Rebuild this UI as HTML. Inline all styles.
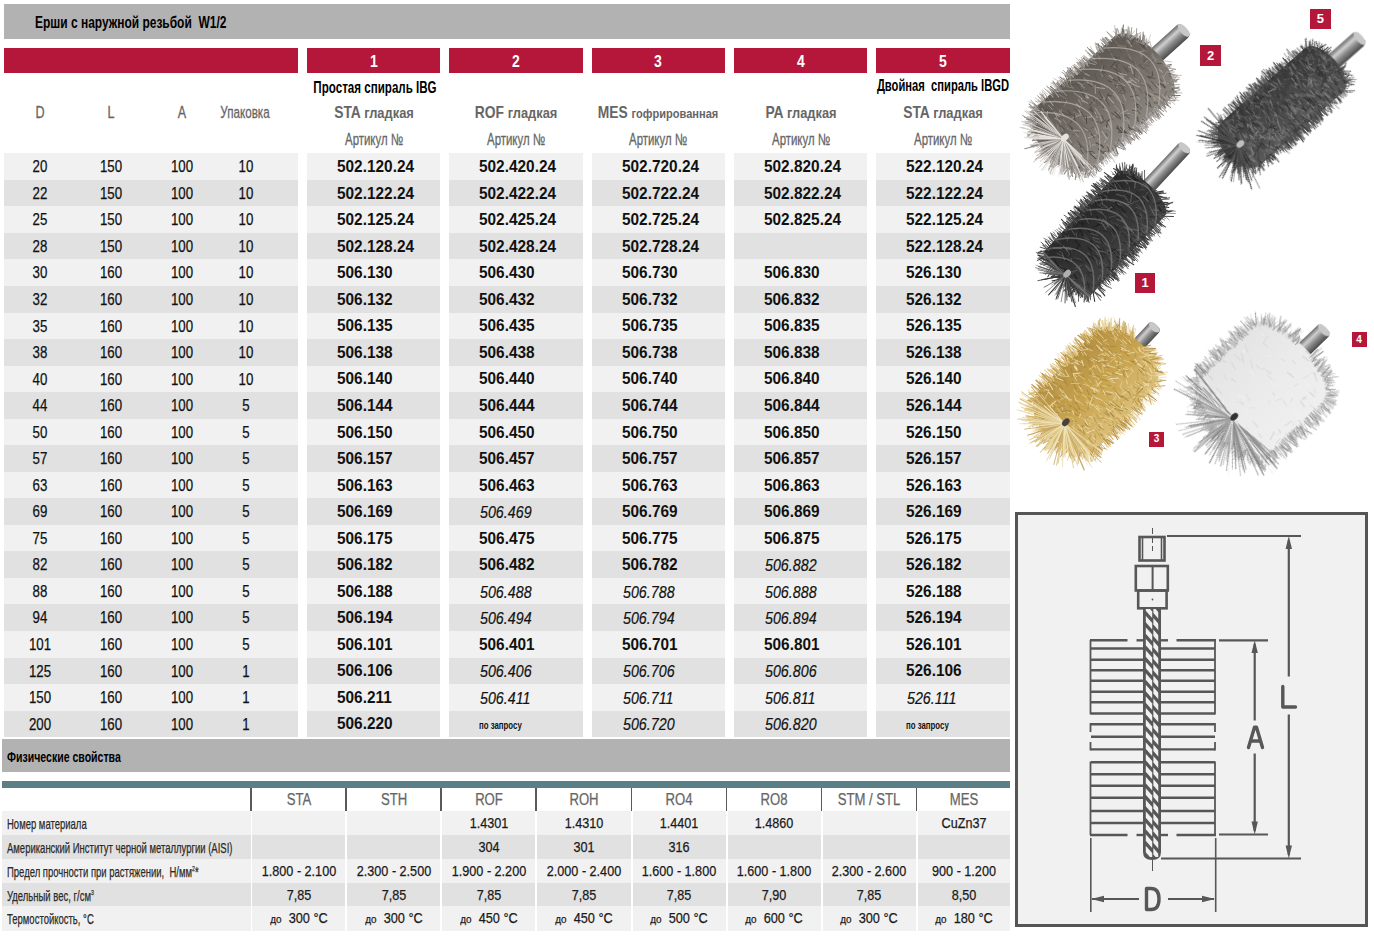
<!DOCTYPE html>
<html><head><meta charset="utf-8"><style>
html,body{margin:0;padding:0;background:#fff;width:1374px;height:936px;overflow:hidden;position:relative}
body>div{position:absolute}
.t{font-family:"Liberation Sans",sans-serif;line-height:1.117;white-space:pre;}
.c{text-align:center}
sup{font-size:0.55em;vertical-align:0;position:relative;top:-0.7em}
svg{position:absolute;left:0;top:0}
</style></head><body>
<div style="left:4px;top:4px;width:1006px;height:35px;background:#b2b2b2;"></div><div class="t" style="left:35px;top:12.52px;transform:scaleX(0.7);transform-origin:0 0;font-size:17.1px;font-weight:700;color:#000;font-style:normal;letter-spacing:0px;">Ерши с наружной резьбой&nbsp; W1/2</div><div style="left:4px;top:48px;width:294px;height:25px;background:#b5173a;"></div><div style="left:307px;top:48px;width:133.3px;height:25px;background:#b5173a;"></div><div class="t c" style="left:-26.350000000000023px;top:52.27px;width:800px;transform:scaleX(0.85);transform-origin:50% 0;font-size:16.5px;font-weight:700;color:#fff;font-style:normal;letter-spacing:0px;">1</div><div style="left:449.3px;top:48px;width:133.3px;height:25px;background:#b5173a;"></div><div class="t c" style="left:115.95000000000005px;top:52.27px;width:800px;transform:scaleX(0.85);transform-origin:50% 0;font-size:16.5px;font-weight:700;color:#fff;font-style:normal;letter-spacing:0px;">2</div><div style="left:591.6px;top:48px;width:133.29999999999995px;height:25px;background:#b5173a;"></div><div class="t c" style="left:258.25px;top:52.27px;width:800px;transform:scaleX(0.85);transform-origin:50% 0;font-size:16.5px;font-weight:700;color:#fff;font-style:normal;letter-spacing:0px;">3</div><div style="left:733.9px;top:48px;width:133.30000000000007px;height:25px;background:#b5173a;"></div><div class="t c" style="left:400.54999999999995px;top:52.27px;width:800px;transform:scaleX(0.85);transform-origin:50% 0;font-size:16.5px;font-weight:700;color:#fff;font-style:normal;letter-spacing:0px;">4</div><div style="left:876.2px;top:48px;width:133.79999999999995px;height:25px;background:#b5173a;"></div><div class="t c" style="left:543.1px;top:52.27px;width:800px;transform:scaleX(0.85);transform-origin:50% 0;font-size:16.5px;font-weight:700;color:#fff;font-style:normal;letter-spacing:0px;">5</div><div class="t c" style="left:-360px;top:103.43px;width:800px;transform:scaleX(0.73);transform-origin:50% 0;font-size:17.2px;font-weight:400;color:#666666;font-style:normal;letter-spacing:0px;-webkit-text-stroke-width:0.3px">D</div><div class="t c" style="left:-289px;top:103.43px;width:800px;transform:scaleX(0.73);transform-origin:50% 0;font-size:17.2px;font-weight:400;color:#666666;font-style:normal;letter-spacing:0px;-webkit-text-stroke-width:0.3px">L</div><div class="t c" style="left:-218px;top:103.43px;width:800px;transform:scaleX(0.73);transform-origin:50% 0;font-size:17.2px;font-weight:400;color:#666666;font-style:normal;letter-spacing:0px;-webkit-text-stroke-width:0.3px">A</div><div class="t c" style="left:-155px;top:103.43px;width:800px;transform:scaleX(0.677);transform-origin:50% 0;font-size:17.2px;font-weight:400;color:#666666;font-style:normal;letter-spacing:0px;-webkit-text-stroke-width:0.3px">Упаковка</div><div class="t c" style="left:-25px;top:78.58px;width:800px;transform:scaleX(0.743);transform-origin:50% 0;font-size:15.6px;font-weight:700;color:#000;font-style:normal;letter-spacing:0px;">Простая спираль IBG</div><div class="t c" style="left:542.5px;top:77.18px;width:800px;transform:scaleX(0.718);transform-origin:50% 0;font-size:15.6px;font-weight:700;color:#000;font-style:normal;letter-spacing:0px;">Двойная&nbsp; спираль IBGD</div><div class="t c" style="left:-26.350000000000023px;top:103.05px;width:800px;transform:scaleX(0.85);transform-origin:50% 0;font-size:16.3px;font-weight:700;color:#666666;font-style:normal;letter-spacing:0px;">STA <span style="font-size:0.93em">гладкая</span></div><div class="t c" style="left:-26.350000000000023px;top:129.95px;width:800px;transform:scaleX(0.7);transform-origin:50% 0;font-size:16.3px;font-weight:400;color:#666666;font-style:normal;letter-spacing:0px;-webkit-text-stroke-width:0.3px">Артикул №</div><div class="t c" style="left:115.95000000000005px;top:103.05px;width:800px;transform:scaleX(0.85);transform-origin:50% 0;font-size:16.3px;font-weight:700;color:#666666;font-style:normal;letter-spacing:0px;">ROF <span style="font-size:0.93em">гладкая</span></div><div class="t c" style="left:115.95000000000005px;top:129.95px;width:800px;transform:scaleX(0.7);transform-origin:50% 0;font-size:16.3px;font-weight:400;color:#666666;font-style:normal;letter-spacing:0px;-webkit-text-stroke-width:0.3px">Артикул №</div><div class="t c" style="left:258.25px;top:103.05px;width:800px;transform:scaleX(0.85);transform-origin:50% 0;font-size:16.3px;font-weight:700;color:#666666;font-style:normal;letter-spacing:0px;">MES <span style="font-size:0.8em">гофрированная</span></div><div class="t c" style="left:258.25px;top:129.95px;width:800px;transform:scaleX(0.7);transform-origin:50% 0;font-size:16.3px;font-weight:400;color:#666666;font-style:normal;letter-spacing:0px;-webkit-text-stroke-width:0.3px">Артикул №</div><div class="t c" style="left:400.54999999999995px;top:103.05px;width:800px;transform:scaleX(0.85);transform-origin:50% 0;font-size:16.3px;font-weight:700;color:#666666;font-style:normal;letter-spacing:0px;">PA <span style="font-size:0.93em">гладкая</span></div><div class="t c" style="left:400.54999999999995px;top:129.95px;width:800px;transform:scaleX(0.7);transform-origin:50% 0;font-size:16.3px;font-weight:400;color:#666666;font-style:normal;letter-spacing:0px;-webkit-text-stroke-width:0.3px">Артикул №</div><div class="t c" style="left:543.1px;top:103.05px;width:800px;transform:scaleX(0.85);transform-origin:50% 0;font-size:16.3px;font-weight:700;color:#666666;font-style:normal;letter-spacing:0px;">STA <span style="font-size:0.93em">гладкая</span></div><div class="t c" style="left:543.1px;top:129.95px;width:800px;transform:scaleX(0.7);transform-origin:50% 0;font-size:16.3px;font-weight:400;color:#666666;font-style:normal;letter-spacing:0px;-webkit-text-stroke-width:0.3px">Артикул №</div><div style="left:4px;top:153.3px;width:294px;height:26.84px;background:#f1f1f1;"></div><div style="left:307px;top:153.3px;width:133.3px;height:26.84px;background:#f1f1f1;"></div><div style="left:449.3px;top:153.3px;width:133.3px;height:26.84px;background:#f1f1f1;"></div><div style="left:591.6px;top:153.3px;width:133.29999999999995px;height:26.84px;background:#f1f1f1;"></div><div style="left:733.9px;top:153.3px;width:133.30000000000007px;height:26.84px;background:#f1f1f1;"></div><div style="left:876.2px;top:153.3px;width:133.79999999999995px;height:26.84px;background:#f1f1f1;"></div><div style="left:4px;top:179.84px;width:294px;height:26.84px;background:#e1e1e1;"></div><div style="left:307px;top:179.84px;width:133.3px;height:26.84px;background:#e1e1e1;"></div><div style="left:449.3px;top:179.84px;width:133.3px;height:26.84px;background:#e1e1e1;"></div><div style="left:591.6px;top:179.84px;width:133.29999999999995px;height:26.84px;background:#e1e1e1;"></div><div style="left:733.9px;top:179.84px;width:133.30000000000007px;height:26.84px;background:#e1e1e1;"></div><div style="left:876.2px;top:179.84px;width:133.79999999999995px;height:26.84px;background:#e1e1e1;"></div><div style="left:4px;top:206.38px;width:294px;height:26.84px;background:#f1f1f1;"></div><div style="left:307px;top:206.38px;width:133.3px;height:26.84px;background:#f1f1f1;"></div><div style="left:449.3px;top:206.38px;width:133.3px;height:26.84px;background:#f1f1f1;"></div><div style="left:591.6px;top:206.38px;width:133.29999999999995px;height:26.84px;background:#f1f1f1;"></div><div style="left:733.9px;top:206.38px;width:133.30000000000007px;height:26.84px;background:#f1f1f1;"></div><div style="left:876.2px;top:206.38px;width:133.79999999999995px;height:26.84px;background:#f1f1f1;"></div><div style="left:4px;top:232.92px;width:294px;height:26.84px;background:#e1e1e1;"></div><div style="left:307px;top:232.92px;width:133.3px;height:26.84px;background:#e1e1e1;"></div><div style="left:449.3px;top:232.92px;width:133.3px;height:26.84px;background:#e1e1e1;"></div><div style="left:591.6px;top:232.92px;width:133.29999999999995px;height:26.84px;background:#e1e1e1;"></div><div style="left:733.9px;top:232.92px;width:133.30000000000007px;height:26.84px;background:#e1e1e1;"></div><div style="left:876.2px;top:232.92px;width:133.79999999999995px;height:26.84px;background:#e1e1e1;"></div><div style="left:4px;top:259.46px;width:294px;height:26.84px;background:#f1f1f1;"></div><div style="left:307px;top:259.46px;width:133.3px;height:26.84px;background:#f1f1f1;"></div><div style="left:449.3px;top:259.46px;width:133.3px;height:26.84px;background:#f1f1f1;"></div><div style="left:591.6px;top:259.46px;width:133.29999999999995px;height:26.84px;background:#f1f1f1;"></div><div style="left:733.9px;top:259.46px;width:133.30000000000007px;height:26.84px;background:#f1f1f1;"></div><div style="left:876.2px;top:259.46px;width:133.79999999999995px;height:26.84px;background:#f1f1f1;"></div><div style="left:4px;top:286.0px;width:294px;height:26.84px;background:#e1e1e1;"></div><div style="left:307px;top:286.0px;width:133.3px;height:26.84px;background:#e1e1e1;"></div><div style="left:449.3px;top:286.0px;width:133.3px;height:26.84px;background:#e1e1e1;"></div><div style="left:591.6px;top:286.0px;width:133.29999999999995px;height:26.84px;background:#e1e1e1;"></div><div style="left:733.9px;top:286.0px;width:133.30000000000007px;height:26.84px;background:#e1e1e1;"></div><div style="left:876.2px;top:286.0px;width:133.79999999999995px;height:26.84px;background:#e1e1e1;"></div><div style="left:4px;top:312.54px;width:294px;height:26.84px;background:#f1f1f1;"></div><div style="left:307px;top:312.54px;width:133.3px;height:26.84px;background:#f1f1f1;"></div><div style="left:449.3px;top:312.54px;width:133.3px;height:26.84px;background:#f1f1f1;"></div><div style="left:591.6px;top:312.54px;width:133.29999999999995px;height:26.84px;background:#f1f1f1;"></div><div style="left:733.9px;top:312.54px;width:133.30000000000007px;height:26.84px;background:#f1f1f1;"></div><div style="left:876.2px;top:312.54px;width:133.79999999999995px;height:26.84px;background:#f1f1f1;"></div><div style="left:4px;top:339.08px;width:294px;height:26.84px;background:#e1e1e1;"></div><div style="left:307px;top:339.08px;width:133.3px;height:26.84px;background:#e1e1e1;"></div><div style="left:449.3px;top:339.08px;width:133.3px;height:26.84px;background:#e1e1e1;"></div><div style="left:591.6px;top:339.08px;width:133.29999999999995px;height:26.84px;background:#e1e1e1;"></div><div style="left:733.9px;top:339.08px;width:133.30000000000007px;height:26.84px;background:#e1e1e1;"></div><div style="left:876.2px;top:339.08px;width:133.79999999999995px;height:26.84px;background:#e1e1e1;"></div><div style="left:4px;top:365.62px;width:294px;height:26.84px;background:#f1f1f1;"></div><div style="left:307px;top:365.62px;width:133.3px;height:26.84px;background:#f1f1f1;"></div><div style="left:449.3px;top:365.62px;width:133.3px;height:26.84px;background:#f1f1f1;"></div><div style="left:591.6px;top:365.62px;width:133.29999999999995px;height:26.84px;background:#f1f1f1;"></div><div style="left:733.9px;top:365.62px;width:133.30000000000007px;height:26.84px;background:#f1f1f1;"></div><div style="left:876.2px;top:365.62px;width:133.79999999999995px;height:26.84px;background:#f1f1f1;"></div><div style="left:4px;top:392.16px;width:294px;height:26.84px;background:#e1e1e1;"></div><div style="left:307px;top:392.16px;width:133.3px;height:26.84px;background:#e1e1e1;"></div><div style="left:449.3px;top:392.16px;width:133.3px;height:26.84px;background:#e1e1e1;"></div><div style="left:591.6px;top:392.16px;width:133.29999999999995px;height:26.84px;background:#e1e1e1;"></div><div style="left:733.9px;top:392.16px;width:133.30000000000007px;height:26.84px;background:#e1e1e1;"></div><div style="left:876.2px;top:392.16px;width:133.79999999999995px;height:26.84px;background:#e1e1e1;"></div><div style="left:4px;top:418.7px;width:294px;height:26.84px;background:#f1f1f1;"></div><div style="left:307px;top:418.7px;width:133.3px;height:26.84px;background:#f1f1f1;"></div><div style="left:449.3px;top:418.7px;width:133.3px;height:26.84px;background:#f1f1f1;"></div><div style="left:591.6px;top:418.7px;width:133.29999999999995px;height:26.84px;background:#f1f1f1;"></div><div style="left:733.9px;top:418.7px;width:133.30000000000007px;height:26.84px;background:#f1f1f1;"></div><div style="left:876.2px;top:418.7px;width:133.79999999999995px;height:26.84px;background:#f1f1f1;"></div><div style="left:4px;top:445.24px;width:294px;height:26.84px;background:#e1e1e1;"></div><div style="left:307px;top:445.24px;width:133.3px;height:26.84px;background:#e1e1e1;"></div><div style="left:449.3px;top:445.24px;width:133.3px;height:26.84px;background:#e1e1e1;"></div><div style="left:591.6px;top:445.24px;width:133.29999999999995px;height:26.84px;background:#e1e1e1;"></div><div style="left:733.9px;top:445.24px;width:133.30000000000007px;height:26.84px;background:#e1e1e1;"></div><div style="left:876.2px;top:445.24px;width:133.79999999999995px;height:26.84px;background:#e1e1e1;"></div><div style="left:4px;top:471.78px;width:294px;height:26.84px;background:#f1f1f1;"></div><div style="left:307px;top:471.78px;width:133.3px;height:26.84px;background:#f1f1f1;"></div><div style="left:449.3px;top:471.78px;width:133.3px;height:26.84px;background:#f1f1f1;"></div><div style="left:591.6px;top:471.78px;width:133.29999999999995px;height:26.84px;background:#f1f1f1;"></div><div style="left:733.9px;top:471.78px;width:133.30000000000007px;height:26.84px;background:#f1f1f1;"></div><div style="left:876.2px;top:471.78px;width:133.79999999999995px;height:26.84px;background:#f1f1f1;"></div><div style="left:4px;top:498.32px;width:294px;height:26.84px;background:#e1e1e1;"></div><div style="left:307px;top:498.32px;width:133.3px;height:26.84px;background:#e1e1e1;"></div><div style="left:449.3px;top:498.32px;width:133.3px;height:26.84px;background:#e1e1e1;"></div><div style="left:591.6px;top:498.32px;width:133.29999999999995px;height:26.84px;background:#e1e1e1;"></div><div style="left:733.9px;top:498.32px;width:133.30000000000007px;height:26.84px;background:#e1e1e1;"></div><div style="left:876.2px;top:498.32px;width:133.79999999999995px;height:26.84px;background:#e1e1e1;"></div><div style="left:4px;top:524.86px;width:294px;height:26.84px;background:#f1f1f1;"></div><div style="left:307px;top:524.86px;width:133.3px;height:26.84px;background:#f1f1f1;"></div><div style="left:449.3px;top:524.86px;width:133.3px;height:26.84px;background:#f1f1f1;"></div><div style="left:591.6px;top:524.86px;width:133.29999999999995px;height:26.84px;background:#f1f1f1;"></div><div style="left:733.9px;top:524.86px;width:133.30000000000007px;height:26.84px;background:#f1f1f1;"></div><div style="left:876.2px;top:524.86px;width:133.79999999999995px;height:26.84px;background:#f1f1f1;"></div><div style="left:4px;top:551.4px;width:294px;height:26.84px;background:#e1e1e1;"></div><div style="left:307px;top:551.4px;width:133.3px;height:26.84px;background:#e1e1e1;"></div><div style="left:449.3px;top:551.4px;width:133.3px;height:26.84px;background:#e1e1e1;"></div><div style="left:591.6px;top:551.4px;width:133.29999999999995px;height:26.84px;background:#e1e1e1;"></div><div style="left:733.9px;top:551.4px;width:133.30000000000007px;height:26.84px;background:#e1e1e1;"></div><div style="left:876.2px;top:551.4px;width:133.79999999999995px;height:26.84px;background:#e1e1e1;"></div><div style="left:4px;top:577.94px;width:294px;height:26.84px;background:#f1f1f1;"></div><div style="left:307px;top:577.94px;width:133.3px;height:26.84px;background:#f1f1f1;"></div><div style="left:449.3px;top:577.94px;width:133.3px;height:26.84px;background:#f1f1f1;"></div><div style="left:591.6px;top:577.94px;width:133.29999999999995px;height:26.84px;background:#f1f1f1;"></div><div style="left:733.9px;top:577.94px;width:133.30000000000007px;height:26.84px;background:#f1f1f1;"></div><div style="left:876.2px;top:577.94px;width:133.79999999999995px;height:26.84px;background:#f1f1f1;"></div><div style="left:4px;top:604.48px;width:294px;height:26.84px;background:#e1e1e1;"></div><div style="left:307px;top:604.48px;width:133.3px;height:26.84px;background:#e1e1e1;"></div><div style="left:449.3px;top:604.48px;width:133.3px;height:26.84px;background:#e1e1e1;"></div><div style="left:591.6px;top:604.48px;width:133.29999999999995px;height:26.84px;background:#e1e1e1;"></div><div style="left:733.9px;top:604.48px;width:133.30000000000007px;height:26.84px;background:#e1e1e1;"></div><div style="left:876.2px;top:604.48px;width:133.79999999999995px;height:26.84px;background:#e1e1e1;"></div><div style="left:4px;top:631.02px;width:294px;height:26.84px;background:#f1f1f1;"></div><div style="left:307px;top:631.02px;width:133.3px;height:26.84px;background:#f1f1f1;"></div><div style="left:449.3px;top:631.02px;width:133.3px;height:26.84px;background:#f1f1f1;"></div><div style="left:591.6px;top:631.02px;width:133.29999999999995px;height:26.84px;background:#f1f1f1;"></div><div style="left:733.9px;top:631.02px;width:133.30000000000007px;height:26.84px;background:#f1f1f1;"></div><div style="left:876.2px;top:631.02px;width:133.79999999999995px;height:26.84px;background:#f1f1f1;"></div><div style="left:4px;top:657.56px;width:294px;height:26.84px;background:#e1e1e1;"></div><div style="left:307px;top:657.56px;width:133.3px;height:26.84px;background:#e1e1e1;"></div><div style="left:449.3px;top:657.56px;width:133.3px;height:26.84px;background:#e1e1e1;"></div><div style="left:591.6px;top:657.56px;width:133.29999999999995px;height:26.84px;background:#e1e1e1;"></div><div style="left:733.9px;top:657.56px;width:133.30000000000007px;height:26.84px;background:#e1e1e1;"></div><div style="left:876.2px;top:657.56px;width:133.79999999999995px;height:26.84px;background:#e1e1e1;"></div><div style="left:4px;top:684.1px;width:294px;height:26.84px;background:#f1f1f1;"></div><div style="left:307px;top:684.1px;width:133.3px;height:26.84px;background:#f1f1f1;"></div><div style="left:449.3px;top:684.1px;width:133.3px;height:26.84px;background:#f1f1f1;"></div><div style="left:591.6px;top:684.1px;width:133.29999999999995px;height:26.84px;background:#f1f1f1;"></div><div style="left:733.9px;top:684.1px;width:133.30000000000007px;height:26.84px;background:#f1f1f1;"></div><div style="left:876.2px;top:684.1px;width:133.79999999999995px;height:26.84px;background:#f1f1f1;"></div><div style="left:4px;top:710.64px;width:294px;height:26.84px;background:#e1e1e1;"></div><div style="left:307px;top:710.64px;width:133.3px;height:26.84px;background:#e1e1e1;"></div><div style="left:449.3px;top:710.64px;width:133.3px;height:26.84px;background:#e1e1e1;"></div><div style="left:591.6px;top:710.64px;width:133.29999999999995px;height:26.84px;background:#e1e1e1;"></div><div style="left:733.9px;top:710.64px;width:133.30000000000007px;height:26.84px;background:#e1e1e1;"></div><div style="left:876.2px;top:710.64px;width:133.79999999999995px;height:26.84px;background:#e1e1e1;"></div><div class="t c" style="left:-360px;top:157.26px;width:800px;transform:scaleX(0.81);transform-origin:50% 0;font-size:16.4px;font-weight:400;color:#111;font-style:normal;letter-spacing:0px;-webkit-text-stroke-width:0.25px;">20</div><div class="t c" style="left:-289px;top:157.26px;width:800px;transform:scaleX(0.81);transform-origin:50% 0;font-size:16.4px;font-weight:400;color:#111;font-style:normal;letter-spacing:0px;-webkit-text-stroke-width:0.25px;">150</div><div class="t c" style="left:-218px;top:157.26px;width:800px;transform:scaleX(0.81);transform-origin:50% 0;font-size:16.4px;font-weight:400;color:#111;font-style:normal;letter-spacing:0px;-webkit-text-stroke-width:0.25px;">100</div><div class="t c" style="left:-154.5px;top:157.26px;width:800px;transform:scaleX(0.81);transform-origin:50% 0;font-size:16.4px;font-weight:400;color:#111;font-style:normal;letter-spacing:0px;-webkit-text-stroke-width:0.25px;">10</div><div class="t" style="left:337px;top:158.10px;transform:scaleX(0.917);transform-origin:0 0;font-size:16.8px;font-weight:700;color:#111;font-style:normal;letter-spacing:0px;">502.120.24</div><div class="t" style="left:479px;top:158.10px;transform:scaleX(0.917);transform-origin:0 0;font-size:16.8px;font-weight:700;color:#111;font-style:normal;letter-spacing:0px;">502.420.24</div><div class="t" style="left:622px;top:158.10px;transform:scaleX(0.917);transform-origin:0 0;font-size:16.8px;font-weight:700;color:#111;font-style:normal;letter-spacing:0px;">502.720.24</div><div class="t" style="left:764px;top:158.10px;transform:scaleX(0.917);transform-origin:0 0;font-size:16.8px;font-weight:700;color:#111;font-style:normal;letter-spacing:0px;">502.820.24</div><div class="t" style="left:906px;top:158.10px;transform:scaleX(0.917);transform-origin:0 0;font-size:16.8px;font-weight:700;color:#111;font-style:normal;letter-spacing:0px;">522.120.24</div><div class="t c" style="left:-360px;top:183.80px;width:800px;transform:scaleX(0.81);transform-origin:50% 0;font-size:16.4px;font-weight:400;color:#111;font-style:normal;letter-spacing:0px;-webkit-text-stroke-width:0.25px;">22</div><div class="t c" style="left:-289px;top:183.80px;width:800px;transform:scaleX(0.81);transform-origin:50% 0;font-size:16.4px;font-weight:400;color:#111;font-style:normal;letter-spacing:0px;-webkit-text-stroke-width:0.25px;">150</div><div class="t c" style="left:-218px;top:183.80px;width:800px;transform:scaleX(0.81);transform-origin:50% 0;font-size:16.4px;font-weight:400;color:#111;font-style:normal;letter-spacing:0px;-webkit-text-stroke-width:0.25px;">100</div><div class="t c" style="left:-154.5px;top:183.80px;width:800px;transform:scaleX(0.81);transform-origin:50% 0;font-size:16.4px;font-weight:400;color:#111;font-style:normal;letter-spacing:0px;-webkit-text-stroke-width:0.25px;">10</div><div class="t" style="left:337px;top:184.64px;transform:scaleX(0.917);transform-origin:0 0;font-size:16.8px;font-weight:700;color:#111;font-style:normal;letter-spacing:0px;">502.122.24</div><div class="t" style="left:479px;top:184.64px;transform:scaleX(0.917);transform-origin:0 0;font-size:16.8px;font-weight:700;color:#111;font-style:normal;letter-spacing:0px;">502.422.24</div><div class="t" style="left:622px;top:184.64px;transform:scaleX(0.917);transform-origin:0 0;font-size:16.8px;font-weight:700;color:#111;font-style:normal;letter-spacing:0px;">502.722.24</div><div class="t" style="left:764px;top:184.64px;transform:scaleX(0.917);transform-origin:0 0;font-size:16.8px;font-weight:700;color:#111;font-style:normal;letter-spacing:0px;">502.822.24</div><div class="t" style="left:906px;top:184.64px;transform:scaleX(0.917);transform-origin:0 0;font-size:16.8px;font-weight:700;color:#111;font-style:normal;letter-spacing:0px;">522.122.24</div><div class="t c" style="left:-360px;top:210.34px;width:800px;transform:scaleX(0.81);transform-origin:50% 0;font-size:16.4px;font-weight:400;color:#111;font-style:normal;letter-spacing:0px;-webkit-text-stroke-width:0.25px;">25</div><div class="t c" style="left:-289px;top:210.34px;width:800px;transform:scaleX(0.81);transform-origin:50% 0;font-size:16.4px;font-weight:400;color:#111;font-style:normal;letter-spacing:0px;-webkit-text-stroke-width:0.25px;">150</div><div class="t c" style="left:-218px;top:210.34px;width:800px;transform:scaleX(0.81);transform-origin:50% 0;font-size:16.4px;font-weight:400;color:#111;font-style:normal;letter-spacing:0px;-webkit-text-stroke-width:0.25px;">100</div><div class="t c" style="left:-154.5px;top:210.34px;width:800px;transform:scaleX(0.81);transform-origin:50% 0;font-size:16.4px;font-weight:400;color:#111;font-style:normal;letter-spacing:0px;-webkit-text-stroke-width:0.25px;">10</div><div class="t" style="left:337px;top:211.18px;transform:scaleX(0.917);transform-origin:0 0;font-size:16.8px;font-weight:700;color:#111;font-style:normal;letter-spacing:0px;">502.125.24</div><div class="t" style="left:479px;top:211.18px;transform:scaleX(0.917);transform-origin:0 0;font-size:16.8px;font-weight:700;color:#111;font-style:normal;letter-spacing:0px;">502.425.24</div><div class="t" style="left:622px;top:211.18px;transform:scaleX(0.917);transform-origin:0 0;font-size:16.8px;font-weight:700;color:#111;font-style:normal;letter-spacing:0px;">502.725.24</div><div class="t" style="left:764px;top:211.18px;transform:scaleX(0.917);transform-origin:0 0;font-size:16.8px;font-weight:700;color:#111;font-style:normal;letter-spacing:0px;">502.825.24</div><div class="t" style="left:906px;top:211.18px;transform:scaleX(0.917);transform-origin:0 0;font-size:16.8px;font-weight:700;color:#111;font-style:normal;letter-spacing:0px;">522.125.24</div><div class="t c" style="left:-360px;top:236.88px;width:800px;transform:scaleX(0.81);transform-origin:50% 0;font-size:16.4px;font-weight:400;color:#111;font-style:normal;letter-spacing:0px;-webkit-text-stroke-width:0.25px;">28</div><div class="t c" style="left:-289px;top:236.88px;width:800px;transform:scaleX(0.81);transform-origin:50% 0;font-size:16.4px;font-weight:400;color:#111;font-style:normal;letter-spacing:0px;-webkit-text-stroke-width:0.25px;">150</div><div class="t c" style="left:-218px;top:236.88px;width:800px;transform:scaleX(0.81);transform-origin:50% 0;font-size:16.4px;font-weight:400;color:#111;font-style:normal;letter-spacing:0px;-webkit-text-stroke-width:0.25px;">100</div><div class="t c" style="left:-154.5px;top:236.88px;width:800px;transform:scaleX(0.81);transform-origin:50% 0;font-size:16.4px;font-weight:400;color:#111;font-style:normal;letter-spacing:0px;-webkit-text-stroke-width:0.25px;">10</div><div class="t" style="left:337px;top:237.72px;transform:scaleX(0.917);transform-origin:0 0;font-size:16.8px;font-weight:700;color:#111;font-style:normal;letter-spacing:0px;">502.128.24</div><div class="t" style="left:479px;top:237.72px;transform:scaleX(0.917);transform-origin:0 0;font-size:16.8px;font-weight:700;color:#111;font-style:normal;letter-spacing:0px;">502.428.24</div><div class="t" style="left:622px;top:237.72px;transform:scaleX(0.917);transform-origin:0 0;font-size:16.8px;font-weight:700;color:#111;font-style:normal;letter-spacing:0px;">502.728.24</div><div class="t" style="left:906px;top:237.72px;transform:scaleX(0.917);transform-origin:0 0;font-size:16.8px;font-weight:700;color:#111;font-style:normal;letter-spacing:0px;">522.128.24</div><div class="t c" style="left:-360px;top:263.42px;width:800px;transform:scaleX(0.81);transform-origin:50% 0;font-size:16.4px;font-weight:400;color:#111;font-style:normal;letter-spacing:0px;-webkit-text-stroke-width:0.25px;">30</div><div class="t c" style="left:-289px;top:263.42px;width:800px;transform:scaleX(0.81);transform-origin:50% 0;font-size:16.4px;font-weight:400;color:#111;font-style:normal;letter-spacing:0px;-webkit-text-stroke-width:0.25px;">160</div><div class="t c" style="left:-218px;top:263.42px;width:800px;transform:scaleX(0.81);transform-origin:50% 0;font-size:16.4px;font-weight:400;color:#111;font-style:normal;letter-spacing:0px;-webkit-text-stroke-width:0.25px;">100</div><div class="t c" style="left:-154.5px;top:263.42px;width:800px;transform:scaleX(0.81);transform-origin:50% 0;font-size:16.4px;font-weight:400;color:#111;font-style:normal;letter-spacing:0px;-webkit-text-stroke-width:0.25px;">10</div><div class="t" style="left:337px;top:264.26px;transform:scaleX(0.917);transform-origin:0 0;font-size:16.8px;font-weight:700;color:#111;font-style:normal;letter-spacing:0px;">506.130</div><div class="t" style="left:479px;top:264.26px;transform:scaleX(0.917);transform-origin:0 0;font-size:16.8px;font-weight:700;color:#111;font-style:normal;letter-spacing:0px;">506.430</div><div class="t" style="left:622px;top:264.26px;transform:scaleX(0.917);transform-origin:0 0;font-size:16.8px;font-weight:700;color:#111;font-style:normal;letter-spacing:0px;">506.730</div><div class="t" style="left:764px;top:264.26px;transform:scaleX(0.917);transform-origin:0 0;font-size:16.8px;font-weight:700;color:#111;font-style:normal;letter-spacing:0px;">506.830</div><div class="t" style="left:906px;top:264.26px;transform:scaleX(0.917);transform-origin:0 0;font-size:16.8px;font-weight:700;color:#111;font-style:normal;letter-spacing:0px;">526.130</div><div class="t c" style="left:-360px;top:289.96px;width:800px;transform:scaleX(0.81);transform-origin:50% 0;font-size:16.4px;font-weight:400;color:#111;font-style:normal;letter-spacing:0px;-webkit-text-stroke-width:0.25px;">32</div><div class="t c" style="left:-289px;top:289.96px;width:800px;transform:scaleX(0.81);transform-origin:50% 0;font-size:16.4px;font-weight:400;color:#111;font-style:normal;letter-spacing:0px;-webkit-text-stroke-width:0.25px;">160</div><div class="t c" style="left:-218px;top:289.96px;width:800px;transform:scaleX(0.81);transform-origin:50% 0;font-size:16.4px;font-weight:400;color:#111;font-style:normal;letter-spacing:0px;-webkit-text-stroke-width:0.25px;">100</div><div class="t c" style="left:-154.5px;top:289.96px;width:800px;transform:scaleX(0.81);transform-origin:50% 0;font-size:16.4px;font-weight:400;color:#111;font-style:normal;letter-spacing:0px;-webkit-text-stroke-width:0.25px;">10</div><div class="t" style="left:337px;top:290.80px;transform:scaleX(0.917);transform-origin:0 0;font-size:16.8px;font-weight:700;color:#111;font-style:normal;letter-spacing:0px;">506.132</div><div class="t" style="left:479px;top:290.80px;transform:scaleX(0.917);transform-origin:0 0;font-size:16.8px;font-weight:700;color:#111;font-style:normal;letter-spacing:0px;">506.432</div><div class="t" style="left:622px;top:290.80px;transform:scaleX(0.917);transform-origin:0 0;font-size:16.8px;font-weight:700;color:#111;font-style:normal;letter-spacing:0px;">506.732</div><div class="t" style="left:764px;top:290.80px;transform:scaleX(0.917);transform-origin:0 0;font-size:16.8px;font-weight:700;color:#111;font-style:normal;letter-spacing:0px;">506.832</div><div class="t" style="left:906px;top:290.80px;transform:scaleX(0.917);transform-origin:0 0;font-size:16.8px;font-weight:700;color:#111;font-style:normal;letter-spacing:0px;">526.132</div><div class="t c" style="left:-360px;top:316.50px;width:800px;transform:scaleX(0.81);transform-origin:50% 0;font-size:16.4px;font-weight:400;color:#111;font-style:normal;letter-spacing:0px;-webkit-text-stroke-width:0.25px;">35</div><div class="t c" style="left:-289px;top:316.50px;width:800px;transform:scaleX(0.81);transform-origin:50% 0;font-size:16.4px;font-weight:400;color:#111;font-style:normal;letter-spacing:0px;-webkit-text-stroke-width:0.25px;">160</div><div class="t c" style="left:-218px;top:316.50px;width:800px;transform:scaleX(0.81);transform-origin:50% 0;font-size:16.4px;font-weight:400;color:#111;font-style:normal;letter-spacing:0px;-webkit-text-stroke-width:0.25px;">100</div><div class="t c" style="left:-154.5px;top:316.50px;width:800px;transform:scaleX(0.81);transform-origin:50% 0;font-size:16.4px;font-weight:400;color:#111;font-style:normal;letter-spacing:0px;-webkit-text-stroke-width:0.25px;">10</div><div class="t" style="left:337px;top:317.34px;transform:scaleX(0.917);transform-origin:0 0;font-size:16.8px;font-weight:700;color:#111;font-style:normal;letter-spacing:0px;">506.135</div><div class="t" style="left:479px;top:317.34px;transform:scaleX(0.917);transform-origin:0 0;font-size:16.8px;font-weight:700;color:#111;font-style:normal;letter-spacing:0px;">506.435</div><div class="t" style="left:622px;top:317.34px;transform:scaleX(0.917);transform-origin:0 0;font-size:16.8px;font-weight:700;color:#111;font-style:normal;letter-spacing:0px;">506.735</div><div class="t" style="left:764px;top:317.34px;transform:scaleX(0.917);transform-origin:0 0;font-size:16.8px;font-weight:700;color:#111;font-style:normal;letter-spacing:0px;">506.835</div><div class="t" style="left:906px;top:317.34px;transform:scaleX(0.917);transform-origin:0 0;font-size:16.8px;font-weight:700;color:#111;font-style:normal;letter-spacing:0px;">526.135</div><div class="t c" style="left:-360px;top:343.04px;width:800px;transform:scaleX(0.81);transform-origin:50% 0;font-size:16.4px;font-weight:400;color:#111;font-style:normal;letter-spacing:0px;-webkit-text-stroke-width:0.25px;">38</div><div class="t c" style="left:-289px;top:343.04px;width:800px;transform:scaleX(0.81);transform-origin:50% 0;font-size:16.4px;font-weight:400;color:#111;font-style:normal;letter-spacing:0px;-webkit-text-stroke-width:0.25px;">160</div><div class="t c" style="left:-218px;top:343.04px;width:800px;transform:scaleX(0.81);transform-origin:50% 0;font-size:16.4px;font-weight:400;color:#111;font-style:normal;letter-spacing:0px;-webkit-text-stroke-width:0.25px;">100</div><div class="t c" style="left:-154.5px;top:343.04px;width:800px;transform:scaleX(0.81);transform-origin:50% 0;font-size:16.4px;font-weight:400;color:#111;font-style:normal;letter-spacing:0px;-webkit-text-stroke-width:0.25px;">10</div><div class="t" style="left:337px;top:343.88px;transform:scaleX(0.917);transform-origin:0 0;font-size:16.8px;font-weight:700;color:#111;font-style:normal;letter-spacing:0px;">506.138</div><div class="t" style="left:479px;top:343.88px;transform:scaleX(0.917);transform-origin:0 0;font-size:16.8px;font-weight:700;color:#111;font-style:normal;letter-spacing:0px;">506.438</div><div class="t" style="left:622px;top:343.88px;transform:scaleX(0.917);transform-origin:0 0;font-size:16.8px;font-weight:700;color:#111;font-style:normal;letter-spacing:0px;">506.738</div><div class="t" style="left:764px;top:343.88px;transform:scaleX(0.917);transform-origin:0 0;font-size:16.8px;font-weight:700;color:#111;font-style:normal;letter-spacing:0px;">506.838</div><div class="t" style="left:906px;top:343.88px;transform:scaleX(0.917);transform-origin:0 0;font-size:16.8px;font-weight:700;color:#111;font-style:normal;letter-spacing:0px;">526.138</div><div class="t c" style="left:-360px;top:369.58px;width:800px;transform:scaleX(0.81);transform-origin:50% 0;font-size:16.4px;font-weight:400;color:#111;font-style:normal;letter-spacing:0px;-webkit-text-stroke-width:0.25px;">40</div><div class="t c" style="left:-289px;top:369.58px;width:800px;transform:scaleX(0.81);transform-origin:50% 0;font-size:16.4px;font-weight:400;color:#111;font-style:normal;letter-spacing:0px;-webkit-text-stroke-width:0.25px;">160</div><div class="t c" style="left:-218px;top:369.58px;width:800px;transform:scaleX(0.81);transform-origin:50% 0;font-size:16.4px;font-weight:400;color:#111;font-style:normal;letter-spacing:0px;-webkit-text-stroke-width:0.25px;">100</div><div class="t c" style="left:-154.5px;top:369.58px;width:800px;transform:scaleX(0.81);transform-origin:50% 0;font-size:16.4px;font-weight:400;color:#111;font-style:normal;letter-spacing:0px;-webkit-text-stroke-width:0.25px;">10</div><div class="t" style="left:337px;top:370.42px;transform:scaleX(0.917);transform-origin:0 0;font-size:16.8px;font-weight:700;color:#111;font-style:normal;letter-spacing:0px;">506.140</div><div class="t" style="left:479px;top:370.42px;transform:scaleX(0.917);transform-origin:0 0;font-size:16.8px;font-weight:700;color:#111;font-style:normal;letter-spacing:0px;">506.440</div><div class="t" style="left:622px;top:370.42px;transform:scaleX(0.917);transform-origin:0 0;font-size:16.8px;font-weight:700;color:#111;font-style:normal;letter-spacing:0px;">506.740</div><div class="t" style="left:764px;top:370.42px;transform:scaleX(0.917);transform-origin:0 0;font-size:16.8px;font-weight:700;color:#111;font-style:normal;letter-spacing:0px;">506.840</div><div class="t" style="left:906px;top:370.42px;transform:scaleX(0.917);transform-origin:0 0;font-size:16.8px;font-weight:700;color:#111;font-style:normal;letter-spacing:0px;">526.140</div><div class="t c" style="left:-360px;top:396.12px;width:800px;transform:scaleX(0.81);transform-origin:50% 0;font-size:16.4px;font-weight:400;color:#111;font-style:normal;letter-spacing:0px;-webkit-text-stroke-width:0.25px;">44</div><div class="t c" style="left:-289px;top:396.12px;width:800px;transform:scaleX(0.81);transform-origin:50% 0;font-size:16.4px;font-weight:400;color:#111;font-style:normal;letter-spacing:0px;-webkit-text-stroke-width:0.25px;">160</div><div class="t c" style="left:-218px;top:396.12px;width:800px;transform:scaleX(0.81);transform-origin:50% 0;font-size:16.4px;font-weight:400;color:#111;font-style:normal;letter-spacing:0px;-webkit-text-stroke-width:0.25px;">100</div><div class="t c" style="left:-154.5px;top:396.12px;width:800px;transform:scaleX(0.81);transform-origin:50% 0;font-size:16.4px;font-weight:400;color:#111;font-style:normal;letter-spacing:0px;-webkit-text-stroke-width:0.25px;">5</div><div class="t" style="left:337px;top:396.96px;transform:scaleX(0.917);transform-origin:0 0;font-size:16.8px;font-weight:700;color:#111;font-style:normal;letter-spacing:0px;">506.144</div><div class="t" style="left:479px;top:396.96px;transform:scaleX(0.917);transform-origin:0 0;font-size:16.8px;font-weight:700;color:#111;font-style:normal;letter-spacing:0px;">506.444</div><div class="t" style="left:622px;top:396.96px;transform:scaleX(0.917);transform-origin:0 0;font-size:16.8px;font-weight:700;color:#111;font-style:normal;letter-spacing:0px;">506.744</div><div class="t" style="left:764px;top:396.96px;transform:scaleX(0.917);transform-origin:0 0;font-size:16.8px;font-weight:700;color:#111;font-style:normal;letter-spacing:0px;">506.844</div><div class="t" style="left:906px;top:396.96px;transform:scaleX(0.917);transform-origin:0 0;font-size:16.8px;font-weight:700;color:#111;font-style:normal;letter-spacing:0px;">526.144</div><div class="t c" style="left:-360px;top:422.66px;width:800px;transform:scaleX(0.81);transform-origin:50% 0;font-size:16.4px;font-weight:400;color:#111;font-style:normal;letter-spacing:0px;-webkit-text-stroke-width:0.25px;">50</div><div class="t c" style="left:-289px;top:422.66px;width:800px;transform:scaleX(0.81);transform-origin:50% 0;font-size:16.4px;font-weight:400;color:#111;font-style:normal;letter-spacing:0px;-webkit-text-stroke-width:0.25px;">160</div><div class="t c" style="left:-218px;top:422.66px;width:800px;transform:scaleX(0.81);transform-origin:50% 0;font-size:16.4px;font-weight:400;color:#111;font-style:normal;letter-spacing:0px;-webkit-text-stroke-width:0.25px;">100</div><div class="t c" style="left:-154.5px;top:422.66px;width:800px;transform:scaleX(0.81);transform-origin:50% 0;font-size:16.4px;font-weight:400;color:#111;font-style:normal;letter-spacing:0px;-webkit-text-stroke-width:0.25px;">5</div><div class="t" style="left:337px;top:423.50px;transform:scaleX(0.917);transform-origin:0 0;font-size:16.8px;font-weight:700;color:#111;font-style:normal;letter-spacing:0px;">506.150</div><div class="t" style="left:479px;top:423.50px;transform:scaleX(0.917);transform-origin:0 0;font-size:16.8px;font-weight:700;color:#111;font-style:normal;letter-spacing:0px;">506.450</div><div class="t" style="left:622px;top:423.50px;transform:scaleX(0.917);transform-origin:0 0;font-size:16.8px;font-weight:700;color:#111;font-style:normal;letter-spacing:0px;">506.750</div><div class="t" style="left:764px;top:423.50px;transform:scaleX(0.917);transform-origin:0 0;font-size:16.8px;font-weight:700;color:#111;font-style:normal;letter-spacing:0px;">506.850</div><div class="t" style="left:906px;top:423.50px;transform:scaleX(0.917);transform-origin:0 0;font-size:16.8px;font-weight:700;color:#111;font-style:normal;letter-spacing:0px;">526.150</div><div class="t c" style="left:-360px;top:449.20px;width:800px;transform:scaleX(0.81);transform-origin:50% 0;font-size:16.4px;font-weight:400;color:#111;font-style:normal;letter-spacing:0px;-webkit-text-stroke-width:0.25px;">57</div><div class="t c" style="left:-289px;top:449.20px;width:800px;transform:scaleX(0.81);transform-origin:50% 0;font-size:16.4px;font-weight:400;color:#111;font-style:normal;letter-spacing:0px;-webkit-text-stroke-width:0.25px;">160</div><div class="t c" style="left:-218px;top:449.20px;width:800px;transform:scaleX(0.81);transform-origin:50% 0;font-size:16.4px;font-weight:400;color:#111;font-style:normal;letter-spacing:0px;-webkit-text-stroke-width:0.25px;">100</div><div class="t c" style="left:-154.5px;top:449.20px;width:800px;transform:scaleX(0.81);transform-origin:50% 0;font-size:16.4px;font-weight:400;color:#111;font-style:normal;letter-spacing:0px;-webkit-text-stroke-width:0.25px;">5</div><div class="t" style="left:337px;top:450.04px;transform:scaleX(0.917);transform-origin:0 0;font-size:16.8px;font-weight:700;color:#111;font-style:normal;letter-spacing:0px;">506.157</div><div class="t" style="left:479px;top:450.04px;transform:scaleX(0.917);transform-origin:0 0;font-size:16.8px;font-weight:700;color:#111;font-style:normal;letter-spacing:0px;">506.457</div><div class="t" style="left:622px;top:450.04px;transform:scaleX(0.917);transform-origin:0 0;font-size:16.8px;font-weight:700;color:#111;font-style:normal;letter-spacing:0px;">506.757</div><div class="t" style="left:764px;top:450.04px;transform:scaleX(0.917);transform-origin:0 0;font-size:16.8px;font-weight:700;color:#111;font-style:normal;letter-spacing:0px;">506.857</div><div class="t" style="left:906px;top:450.04px;transform:scaleX(0.917);transform-origin:0 0;font-size:16.8px;font-weight:700;color:#111;font-style:normal;letter-spacing:0px;">526.157</div><div class="t c" style="left:-360px;top:475.74px;width:800px;transform:scaleX(0.81);transform-origin:50% 0;font-size:16.4px;font-weight:400;color:#111;font-style:normal;letter-spacing:0px;-webkit-text-stroke-width:0.25px;">63</div><div class="t c" style="left:-289px;top:475.74px;width:800px;transform:scaleX(0.81);transform-origin:50% 0;font-size:16.4px;font-weight:400;color:#111;font-style:normal;letter-spacing:0px;-webkit-text-stroke-width:0.25px;">160</div><div class="t c" style="left:-218px;top:475.74px;width:800px;transform:scaleX(0.81);transform-origin:50% 0;font-size:16.4px;font-weight:400;color:#111;font-style:normal;letter-spacing:0px;-webkit-text-stroke-width:0.25px;">100</div><div class="t c" style="left:-154.5px;top:475.74px;width:800px;transform:scaleX(0.81);transform-origin:50% 0;font-size:16.4px;font-weight:400;color:#111;font-style:normal;letter-spacing:0px;-webkit-text-stroke-width:0.25px;">5</div><div class="t" style="left:337px;top:476.58px;transform:scaleX(0.917);transform-origin:0 0;font-size:16.8px;font-weight:700;color:#111;font-style:normal;letter-spacing:0px;">506.163</div><div class="t" style="left:479px;top:476.58px;transform:scaleX(0.917);transform-origin:0 0;font-size:16.8px;font-weight:700;color:#111;font-style:normal;letter-spacing:0px;">506.463</div><div class="t" style="left:622px;top:476.58px;transform:scaleX(0.917);transform-origin:0 0;font-size:16.8px;font-weight:700;color:#111;font-style:normal;letter-spacing:0px;">506.763</div><div class="t" style="left:764px;top:476.58px;transform:scaleX(0.917);transform-origin:0 0;font-size:16.8px;font-weight:700;color:#111;font-style:normal;letter-spacing:0px;">506.863</div><div class="t" style="left:906px;top:476.58px;transform:scaleX(0.917);transform-origin:0 0;font-size:16.8px;font-weight:700;color:#111;font-style:normal;letter-spacing:0px;">526.163</div><div class="t c" style="left:-360px;top:502.28px;width:800px;transform:scaleX(0.81);transform-origin:50% 0;font-size:16.4px;font-weight:400;color:#111;font-style:normal;letter-spacing:0px;-webkit-text-stroke-width:0.25px;">69</div><div class="t c" style="left:-289px;top:502.28px;width:800px;transform:scaleX(0.81);transform-origin:50% 0;font-size:16.4px;font-weight:400;color:#111;font-style:normal;letter-spacing:0px;-webkit-text-stroke-width:0.25px;">160</div><div class="t c" style="left:-218px;top:502.28px;width:800px;transform:scaleX(0.81);transform-origin:50% 0;font-size:16.4px;font-weight:400;color:#111;font-style:normal;letter-spacing:0px;-webkit-text-stroke-width:0.25px;">100</div><div class="t c" style="left:-154.5px;top:502.28px;width:800px;transform:scaleX(0.81);transform-origin:50% 0;font-size:16.4px;font-weight:400;color:#111;font-style:normal;letter-spacing:0px;-webkit-text-stroke-width:0.25px;">5</div><div class="t" style="left:337px;top:503.12px;transform:scaleX(0.917);transform-origin:0 0;font-size:16.8px;font-weight:700;color:#111;font-style:normal;letter-spacing:0px;">506.169</div><div class="t" style="left:480px;top:504.12px;transform:scaleX(0.85);transform-origin:0 0;font-size:16.8px;font-weight:400;color:#111;font-style:italic;letter-spacing:0px;-webkit-text-stroke-width:0.2px">506.469</div><div class="t" style="left:622px;top:503.12px;transform:scaleX(0.917);transform-origin:0 0;font-size:16.8px;font-weight:700;color:#111;font-style:normal;letter-spacing:0px;">506.769</div><div class="t" style="left:764px;top:503.12px;transform:scaleX(0.917);transform-origin:0 0;font-size:16.8px;font-weight:700;color:#111;font-style:normal;letter-spacing:0px;">506.869</div><div class="t" style="left:906px;top:503.12px;transform:scaleX(0.917);transform-origin:0 0;font-size:16.8px;font-weight:700;color:#111;font-style:normal;letter-spacing:0px;">526.169</div><div class="t c" style="left:-360px;top:528.82px;width:800px;transform:scaleX(0.81);transform-origin:50% 0;font-size:16.4px;font-weight:400;color:#111;font-style:normal;letter-spacing:0px;-webkit-text-stroke-width:0.25px;">75</div><div class="t c" style="left:-289px;top:528.82px;width:800px;transform:scaleX(0.81);transform-origin:50% 0;font-size:16.4px;font-weight:400;color:#111;font-style:normal;letter-spacing:0px;-webkit-text-stroke-width:0.25px;">160</div><div class="t c" style="left:-218px;top:528.82px;width:800px;transform:scaleX(0.81);transform-origin:50% 0;font-size:16.4px;font-weight:400;color:#111;font-style:normal;letter-spacing:0px;-webkit-text-stroke-width:0.25px;">100</div><div class="t c" style="left:-154.5px;top:528.82px;width:800px;transform:scaleX(0.81);transform-origin:50% 0;font-size:16.4px;font-weight:400;color:#111;font-style:normal;letter-spacing:0px;-webkit-text-stroke-width:0.25px;">5</div><div class="t" style="left:337px;top:529.66px;transform:scaleX(0.917);transform-origin:0 0;font-size:16.8px;font-weight:700;color:#111;font-style:normal;letter-spacing:0px;">506.175</div><div class="t" style="left:479px;top:529.66px;transform:scaleX(0.917);transform-origin:0 0;font-size:16.8px;font-weight:700;color:#111;font-style:normal;letter-spacing:0px;">506.475</div><div class="t" style="left:622px;top:529.66px;transform:scaleX(0.917);transform-origin:0 0;font-size:16.8px;font-weight:700;color:#111;font-style:normal;letter-spacing:0px;">506.775</div><div class="t" style="left:764px;top:529.66px;transform:scaleX(0.917);transform-origin:0 0;font-size:16.8px;font-weight:700;color:#111;font-style:normal;letter-spacing:0px;">506.875</div><div class="t" style="left:906px;top:529.66px;transform:scaleX(0.917);transform-origin:0 0;font-size:16.8px;font-weight:700;color:#111;font-style:normal;letter-spacing:0px;">526.175</div><div class="t c" style="left:-360px;top:555.36px;width:800px;transform:scaleX(0.81);transform-origin:50% 0;font-size:16.4px;font-weight:400;color:#111;font-style:normal;letter-spacing:0px;-webkit-text-stroke-width:0.25px;">82</div><div class="t c" style="left:-289px;top:555.36px;width:800px;transform:scaleX(0.81);transform-origin:50% 0;font-size:16.4px;font-weight:400;color:#111;font-style:normal;letter-spacing:0px;-webkit-text-stroke-width:0.25px;">160</div><div class="t c" style="left:-218px;top:555.36px;width:800px;transform:scaleX(0.81);transform-origin:50% 0;font-size:16.4px;font-weight:400;color:#111;font-style:normal;letter-spacing:0px;-webkit-text-stroke-width:0.25px;">100</div><div class="t c" style="left:-154.5px;top:555.36px;width:800px;transform:scaleX(0.81);transform-origin:50% 0;font-size:16.4px;font-weight:400;color:#111;font-style:normal;letter-spacing:0px;-webkit-text-stroke-width:0.25px;">5</div><div class="t" style="left:337px;top:556.20px;transform:scaleX(0.917);transform-origin:0 0;font-size:16.8px;font-weight:700;color:#111;font-style:normal;letter-spacing:0px;">506.182</div><div class="t" style="left:479px;top:556.20px;transform:scaleX(0.917);transform-origin:0 0;font-size:16.8px;font-weight:700;color:#111;font-style:normal;letter-spacing:0px;">506.482</div><div class="t" style="left:622px;top:556.20px;transform:scaleX(0.917);transform-origin:0 0;font-size:16.8px;font-weight:700;color:#111;font-style:normal;letter-spacing:0px;">506.782</div><div class="t" style="left:765px;top:557.20px;transform:scaleX(0.85);transform-origin:0 0;font-size:16.8px;font-weight:400;color:#111;font-style:italic;letter-spacing:0px;-webkit-text-stroke-width:0.2px">506.882</div><div class="t" style="left:906px;top:556.20px;transform:scaleX(0.917);transform-origin:0 0;font-size:16.8px;font-weight:700;color:#111;font-style:normal;letter-spacing:0px;">526.182</div><div class="t c" style="left:-360px;top:581.90px;width:800px;transform:scaleX(0.81);transform-origin:50% 0;font-size:16.4px;font-weight:400;color:#111;font-style:normal;letter-spacing:0px;-webkit-text-stroke-width:0.25px;">88</div><div class="t c" style="left:-289px;top:581.90px;width:800px;transform:scaleX(0.81);transform-origin:50% 0;font-size:16.4px;font-weight:400;color:#111;font-style:normal;letter-spacing:0px;-webkit-text-stroke-width:0.25px;">160</div><div class="t c" style="left:-218px;top:581.90px;width:800px;transform:scaleX(0.81);transform-origin:50% 0;font-size:16.4px;font-weight:400;color:#111;font-style:normal;letter-spacing:0px;-webkit-text-stroke-width:0.25px;">100</div><div class="t c" style="left:-154.5px;top:581.90px;width:800px;transform:scaleX(0.81);transform-origin:50% 0;font-size:16.4px;font-weight:400;color:#111;font-style:normal;letter-spacing:0px;-webkit-text-stroke-width:0.25px;">5</div><div class="t" style="left:337px;top:582.74px;transform:scaleX(0.917);transform-origin:0 0;font-size:16.8px;font-weight:700;color:#111;font-style:normal;letter-spacing:0px;">506.188</div><div class="t" style="left:480px;top:583.74px;transform:scaleX(0.85);transform-origin:0 0;font-size:16.8px;font-weight:400;color:#111;font-style:italic;letter-spacing:0px;-webkit-text-stroke-width:0.2px">506.488</div><div class="t" style="left:623px;top:583.74px;transform:scaleX(0.85);transform-origin:0 0;font-size:16.8px;font-weight:400;color:#111;font-style:italic;letter-spacing:0px;-webkit-text-stroke-width:0.2px">506.788</div><div class="t" style="left:765px;top:583.74px;transform:scaleX(0.85);transform-origin:0 0;font-size:16.8px;font-weight:400;color:#111;font-style:italic;letter-spacing:0px;-webkit-text-stroke-width:0.2px">506.888</div><div class="t" style="left:906px;top:582.74px;transform:scaleX(0.917);transform-origin:0 0;font-size:16.8px;font-weight:700;color:#111;font-style:normal;letter-spacing:0px;">526.188</div><div class="t c" style="left:-360px;top:608.44px;width:800px;transform:scaleX(0.81);transform-origin:50% 0;font-size:16.4px;font-weight:400;color:#111;font-style:normal;letter-spacing:0px;-webkit-text-stroke-width:0.25px;">94</div><div class="t c" style="left:-289px;top:608.44px;width:800px;transform:scaleX(0.81);transform-origin:50% 0;font-size:16.4px;font-weight:400;color:#111;font-style:normal;letter-spacing:0px;-webkit-text-stroke-width:0.25px;">160</div><div class="t c" style="left:-218px;top:608.44px;width:800px;transform:scaleX(0.81);transform-origin:50% 0;font-size:16.4px;font-weight:400;color:#111;font-style:normal;letter-spacing:0px;-webkit-text-stroke-width:0.25px;">100</div><div class="t c" style="left:-154.5px;top:608.44px;width:800px;transform:scaleX(0.81);transform-origin:50% 0;font-size:16.4px;font-weight:400;color:#111;font-style:normal;letter-spacing:0px;-webkit-text-stroke-width:0.25px;">5</div><div class="t" style="left:337px;top:609.28px;transform:scaleX(0.917);transform-origin:0 0;font-size:16.8px;font-weight:700;color:#111;font-style:normal;letter-spacing:0px;">506.194</div><div class="t" style="left:480px;top:610.28px;transform:scaleX(0.85);transform-origin:0 0;font-size:16.8px;font-weight:400;color:#111;font-style:italic;letter-spacing:0px;-webkit-text-stroke-width:0.2px">506.494</div><div class="t" style="left:623px;top:610.28px;transform:scaleX(0.85);transform-origin:0 0;font-size:16.8px;font-weight:400;color:#111;font-style:italic;letter-spacing:0px;-webkit-text-stroke-width:0.2px">506.794</div><div class="t" style="left:765px;top:610.28px;transform:scaleX(0.85);transform-origin:0 0;font-size:16.8px;font-weight:400;color:#111;font-style:italic;letter-spacing:0px;-webkit-text-stroke-width:0.2px">506.894</div><div class="t" style="left:906px;top:609.28px;transform:scaleX(0.917);transform-origin:0 0;font-size:16.8px;font-weight:700;color:#111;font-style:normal;letter-spacing:0px;">526.194</div><div class="t c" style="left:-360px;top:634.98px;width:800px;transform:scaleX(0.81);transform-origin:50% 0;font-size:16.4px;font-weight:400;color:#111;font-style:normal;letter-spacing:0px;-webkit-text-stroke-width:0.25px;">101</div><div class="t c" style="left:-289px;top:634.98px;width:800px;transform:scaleX(0.81);transform-origin:50% 0;font-size:16.4px;font-weight:400;color:#111;font-style:normal;letter-spacing:0px;-webkit-text-stroke-width:0.25px;">160</div><div class="t c" style="left:-218px;top:634.98px;width:800px;transform:scaleX(0.81);transform-origin:50% 0;font-size:16.4px;font-weight:400;color:#111;font-style:normal;letter-spacing:0px;-webkit-text-stroke-width:0.25px;">100</div><div class="t c" style="left:-154.5px;top:634.98px;width:800px;transform:scaleX(0.81);transform-origin:50% 0;font-size:16.4px;font-weight:400;color:#111;font-style:normal;letter-spacing:0px;-webkit-text-stroke-width:0.25px;">5</div><div class="t" style="left:337px;top:635.82px;transform:scaleX(0.917);transform-origin:0 0;font-size:16.8px;font-weight:700;color:#111;font-style:normal;letter-spacing:0px;">506.101</div><div class="t" style="left:479px;top:635.82px;transform:scaleX(0.917);transform-origin:0 0;font-size:16.8px;font-weight:700;color:#111;font-style:normal;letter-spacing:0px;">506.401</div><div class="t" style="left:622px;top:635.82px;transform:scaleX(0.917);transform-origin:0 0;font-size:16.8px;font-weight:700;color:#111;font-style:normal;letter-spacing:0px;">506.701</div><div class="t" style="left:764px;top:635.82px;transform:scaleX(0.917);transform-origin:0 0;font-size:16.8px;font-weight:700;color:#111;font-style:normal;letter-spacing:0px;">506.801</div><div class="t" style="left:906px;top:635.82px;transform:scaleX(0.917);transform-origin:0 0;font-size:16.8px;font-weight:700;color:#111;font-style:normal;letter-spacing:0px;">526.101</div><div class="t c" style="left:-360px;top:661.52px;width:800px;transform:scaleX(0.81);transform-origin:50% 0;font-size:16.4px;font-weight:400;color:#111;font-style:normal;letter-spacing:0px;-webkit-text-stroke-width:0.25px;">125</div><div class="t c" style="left:-289px;top:661.52px;width:800px;transform:scaleX(0.81);transform-origin:50% 0;font-size:16.4px;font-weight:400;color:#111;font-style:normal;letter-spacing:0px;-webkit-text-stroke-width:0.25px;">160</div><div class="t c" style="left:-218px;top:661.52px;width:800px;transform:scaleX(0.81);transform-origin:50% 0;font-size:16.4px;font-weight:400;color:#111;font-style:normal;letter-spacing:0px;-webkit-text-stroke-width:0.25px;">100</div><div class="t c" style="left:-154.5px;top:661.52px;width:800px;transform:scaleX(0.81);transform-origin:50% 0;font-size:16.4px;font-weight:400;color:#111;font-style:normal;letter-spacing:0px;-webkit-text-stroke-width:0.25px;">1</div><div class="t" style="left:337px;top:662.36px;transform:scaleX(0.917);transform-origin:0 0;font-size:16.8px;font-weight:700;color:#111;font-style:normal;letter-spacing:0px;">506.106</div><div class="t" style="left:480px;top:663.36px;transform:scaleX(0.85);transform-origin:0 0;font-size:16.8px;font-weight:400;color:#111;font-style:italic;letter-spacing:0px;-webkit-text-stroke-width:0.2px">506.406</div><div class="t" style="left:623px;top:663.36px;transform:scaleX(0.85);transform-origin:0 0;font-size:16.8px;font-weight:400;color:#111;font-style:italic;letter-spacing:0px;-webkit-text-stroke-width:0.2px">506.706</div><div class="t" style="left:765px;top:663.36px;transform:scaleX(0.85);transform-origin:0 0;font-size:16.8px;font-weight:400;color:#111;font-style:italic;letter-spacing:0px;-webkit-text-stroke-width:0.2px">506.806</div><div class="t" style="left:906px;top:662.36px;transform:scaleX(0.917);transform-origin:0 0;font-size:16.8px;font-weight:700;color:#111;font-style:normal;letter-spacing:0px;">526.106</div><div class="t c" style="left:-360px;top:688.06px;width:800px;transform:scaleX(0.81);transform-origin:50% 0;font-size:16.4px;font-weight:400;color:#111;font-style:normal;letter-spacing:0px;-webkit-text-stroke-width:0.25px;">150</div><div class="t c" style="left:-289px;top:688.06px;width:800px;transform:scaleX(0.81);transform-origin:50% 0;font-size:16.4px;font-weight:400;color:#111;font-style:normal;letter-spacing:0px;-webkit-text-stroke-width:0.25px;">160</div><div class="t c" style="left:-218px;top:688.06px;width:800px;transform:scaleX(0.81);transform-origin:50% 0;font-size:16.4px;font-weight:400;color:#111;font-style:normal;letter-spacing:0px;-webkit-text-stroke-width:0.25px;">100</div><div class="t c" style="left:-154.5px;top:688.06px;width:800px;transform:scaleX(0.81);transform-origin:50% 0;font-size:16.4px;font-weight:400;color:#111;font-style:normal;letter-spacing:0px;-webkit-text-stroke-width:0.25px;">1</div><div class="t" style="left:337px;top:688.90px;transform:scaleX(0.917);transform-origin:0 0;font-size:16.8px;font-weight:700;color:#111;font-style:normal;letter-spacing:0px;">506.211</div><div class="t" style="left:480px;top:689.90px;transform:scaleX(0.85);transform-origin:0 0;font-size:16.8px;font-weight:400;color:#111;font-style:italic;letter-spacing:0px;-webkit-text-stroke-width:0.2px">506.411</div><div class="t" style="left:623px;top:689.90px;transform:scaleX(0.85);transform-origin:0 0;font-size:16.8px;font-weight:400;color:#111;font-style:italic;letter-spacing:0px;-webkit-text-stroke-width:0.2px">506.711</div><div class="t" style="left:765px;top:689.90px;transform:scaleX(0.85);transform-origin:0 0;font-size:16.8px;font-weight:400;color:#111;font-style:italic;letter-spacing:0px;-webkit-text-stroke-width:0.2px">506.811</div><div class="t" style="left:907px;top:689.90px;transform:scaleX(0.85);transform-origin:0 0;font-size:16.8px;font-weight:400;color:#111;font-style:italic;letter-spacing:0px;-webkit-text-stroke-width:0.2px">526.111</div><div class="t c" style="left:-360px;top:714.60px;width:800px;transform:scaleX(0.81);transform-origin:50% 0;font-size:16.4px;font-weight:400;color:#111;font-style:normal;letter-spacing:0px;-webkit-text-stroke-width:0.25px;">200</div><div class="t c" style="left:-289px;top:714.60px;width:800px;transform:scaleX(0.81);transform-origin:50% 0;font-size:16.4px;font-weight:400;color:#111;font-style:normal;letter-spacing:0px;-webkit-text-stroke-width:0.25px;">160</div><div class="t c" style="left:-218px;top:714.60px;width:800px;transform:scaleX(0.81);transform-origin:50% 0;font-size:16.4px;font-weight:400;color:#111;font-style:normal;letter-spacing:0px;-webkit-text-stroke-width:0.25px;">100</div><div class="t c" style="left:-154.5px;top:714.60px;width:800px;transform:scaleX(0.81);transform-origin:50% 0;font-size:16.4px;font-weight:400;color:#111;font-style:normal;letter-spacing:0px;-webkit-text-stroke-width:0.25px;">1</div><div class="t" style="left:337px;top:715.44px;transform:scaleX(0.917);transform-origin:0 0;font-size:16.8px;font-weight:700;color:#111;font-style:normal;letter-spacing:0px;">506.220</div><div class="t" style="left:479px;top:719.00px;transform:scaleX(0.7);transform-origin:0 0;font-size:11.2px;font-weight:700;color:#111;font-style:normal;letter-spacing:0px;">по запросу</div><div class="t" style="left:623px;top:716.44px;transform:scaleX(0.85);transform-origin:0 0;font-size:16.8px;font-weight:400;color:#111;font-style:italic;letter-spacing:0px;-webkit-text-stroke-width:0.2px">506.720</div><div class="t" style="left:765px;top:716.44px;transform:scaleX(0.85);transform-origin:0 0;font-size:16.8px;font-weight:400;color:#111;font-style:italic;letter-spacing:0px;-webkit-text-stroke-width:0.2px">506.820</div><div class="t" style="left:906px;top:719.00px;transform:scaleX(0.7);transform-origin:0 0;font-size:11.2px;font-weight:700;color:#111;font-style:normal;letter-spacing:0px;">по запросу</div><div style="left:2px;top:739px;width:1008px;height:32.5px;background:#b2b2b2;"></div><div class="t" style="left:7px;top:747.66px;transform:scaleX(0.685);transform-origin:0 0;font-size:15.4px;font-weight:700;color:#000;font-style:normal;letter-spacing:0px;">Физические свойства</div><div style="left:2px;top:781px;width:1008px;height:7px;background:#5b7f87;"></div><div style="left:250px;top:788px;width:1.7px;height:23px;background:#5a5a5a;"></div><div class="t c" style="left:-101.5px;top:790.52px;width:800px;transform:scaleX(0.82);transform-origin:50% 0;font-size:16px;font-weight:400;color:#666666;font-style:normal;letter-spacing:0px;-webkit-text-stroke-width:0.25px;">STA</div><div style="left:345px;top:788px;width:1.7px;height:23px;background:#5a5a5a;"></div><div class="t c" style="left:-6.5px;top:790.52px;width:800px;transform:scaleX(0.82);transform-origin:50% 0;font-size:16px;font-weight:400;color:#666666;font-style:normal;letter-spacing:0px;-webkit-text-stroke-width:0.25px;">STH</div><div style="left:440px;top:788px;width:1.7px;height:23px;background:#5a5a5a;"></div><div class="t c" style="left:88.5px;top:790.52px;width:800px;transform:scaleX(0.82);transform-origin:50% 0;font-size:16px;font-weight:400;color:#666666;font-style:normal;letter-spacing:0px;-webkit-text-stroke-width:0.25px;">ROF</div><div style="left:535px;top:788px;width:1.7px;height:23px;background:#5a5a5a;"></div><div class="t c" style="left:183.75px;top:790.52px;width:800px;transform:scaleX(0.82);transform-origin:50% 0;font-size:16px;font-weight:400;color:#666666;font-style:normal;letter-spacing:0px;-webkit-text-stroke-width:0.25px;">ROH</div><div style="left:630.5px;top:788px;width:1.7px;height:23px;background:#5a5a5a;"></div><div class="t c" style="left:279.0px;top:790.52px;width:800px;transform:scaleX(0.82);transform-origin:50% 0;font-size:16px;font-weight:400;color:#666666;font-style:normal;letter-spacing:0px;-webkit-text-stroke-width:0.25px;">RO4</div><div style="left:725.5px;top:788px;width:1.7px;height:23px;background:#5a5a5a;"></div><div class="t c" style="left:374.0px;top:790.52px;width:800px;transform:scaleX(0.82);transform-origin:50% 0;font-size:16px;font-weight:400;color:#666666;font-style:normal;letter-spacing:0px;-webkit-text-stroke-width:0.25px;">RO8</div><div style="left:820.5px;top:788px;width:1.7px;height:23px;background:#5a5a5a;"></div><div class="t c" style="left:469.0px;top:790.52px;width:800px;transform:scaleX(0.82);transform-origin:50% 0;font-size:16px;font-weight:400;color:#666666;font-style:normal;letter-spacing:0px;-webkit-text-stroke-width:0.25px;">STM / STL</div><div style="left:915.5px;top:788px;width:1.7px;height:23px;background:#5a5a5a;"></div><div class="t c" style="left:563.75px;top:790.52px;width:800px;transform:scaleX(0.82);transform-origin:50% 0;font-size:16px;font-weight:400;color:#666666;font-style:normal;letter-spacing:0px;-webkit-text-stroke-width:0.25px;">MES</div><div style="left:2px;top:811.0px;width:249px;height:24.150000000000002px;background:#f1f1f1;"></div><div style="left:252px;top:811.0px;width:93px;height:24.150000000000002px;background:#f1f1f1;"></div><div style="left:347px;top:811.0px;width:93px;height:24.150000000000002px;background:#f1f1f1;"></div><div style="left:442px;top:811.0px;width:93px;height:24.150000000000002px;background:#f1f1f1;"></div><div style="left:537px;top:811.0px;width:93.5px;height:24.150000000000002px;background:#f1f1f1;"></div><div style="left:632.5px;top:811.0px;width:93.0px;height:24.150000000000002px;background:#f1f1f1;"></div><div style="left:727.5px;top:811.0px;width:93.0px;height:24.150000000000002px;background:#f1f1f1;"></div><div style="left:822.5px;top:811.0px;width:93.0px;height:24.150000000000002px;background:#f1f1f1;"></div><div style="left:917.5px;top:811.0px;width:92.5px;height:24.150000000000002px;background:#f1f1f1;"></div><div class="t" style="left:7px;top:816.08px;transform:scaleX(0.655);transform-origin:0 0;font-size:14.5px;font-weight:400;color:#2a2a2a;font-style:normal;letter-spacing:0px;-webkit-text-stroke-width:0.25px;">Номер материала</div><div class="t c" style="left:88.5px;top:815.08px;width:800px;transform:scaleX(0.87);transform-origin:50% 0;font-size:14.5px;font-weight:400;color:#1a1a1a;font-style:normal;letter-spacing:0px;-webkit-text-stroke-width:0.25px;">1.4301</div><div class="t c" style="left:183.75px;top:815.08px;width:800px;transform:scaleX(0.87);transform-origin:50% 0;font-size:14.5px;font-weight:400;color:#1a1a1a;font-style:normal;letter-spacing:0px;-webkit-text-stroke-width:0.25px;">1.4310</div><div class="t c" style="left:279.0px;top:815.08px;width:800px;transform:scaleX(0.87);transform-origin:50% 0;font-size:14.5px;font-weight:400;color:#1a1a1a;font-style:normal;letter-spacing:0px;-webkit-text-stroke-width:0.25px;">1.4401</div><div class="t c" style="left:374.0px;top:815.08px;width:800px;transform:scaleX(0.87);transform-origin:50% 0;font-size:14.5px;font-weight:400;color:#1a1a1a;font-style:normal;letter-spacing:0px;-webkit-text-stroke-width:0.25px;">1.4860</div><div class="t c" style="left:563.75px;top:815.08px;width:800px;transform:scaleX(0.87);transform-origin:50% 0;font-size:14.5px;font-weight:400;color:#1a1a1a;font-style:normal;letter-spacing:0px;-webkit-text-stroke-width:0.25px;">CuZn37</div><div style="left:2px;top:834.85px;width:249px;height:24.150000000000002px;background:#e1e1e1;"></div><div style="left:252px;top:834.85px;width:93px;height:24.150000000000002px;background:#e1e1e1;"></div><div style="left:347px;top:834.85px;width:93px;height:24.150000000000002px;background:#e1e1e1;"></div><div style="left:442px;top:834.85px;width:93px;height:24.150000000000002px;background:#e1e1e1;"></div><div style="left:537px;top:834.85px;width:93.5px;height:24.150000000000002px;background:#e1e1e1;"></div><div style="left:632.5px;top:834.85px;width:93.0px;height:24.150000000000002px;background:#e1e1e1;"></div><div style="left:727.5px;top:834.85px;width:93.0px;height:24.150000000000002px;background:#e1e1e1;"></div><div style="left:822.5px;top:834.85px;width:93.0px;height:24.150000000000002px;background:#e1e1e1;"></div><div style="left:917.5px;top:834.85px;width:92.5px;height:24.150000000000002px;background:#e1e1e1;"></div><div class="t" style="left:7px;top:839.93px;transform:scaleX(0.655);transform-origin:0 0;font-size:14.5px;font-weight:400;color:#2a2a2a;font-style:normal;letter-spacing:0px;-webkit-text-stroke-width:0.25px;">Американский Институт черной металлургии (AISI)</div><div class="t c" style="left:88.5px;top:838.93px;width:800px;transform:scaleX(0.87);transform-origin:50% 0;font-size:14.5px;font-weight:400;color:#1a1a1a;font-style:normal;letter-spacing:0px;-webkit-text-stroke-width:0.25px;">304</div><div class="t c" style="left:183.75px;top:838.93px;width:800px;transform:scaleX(0.87);transform-origin:50% 0;font-size:14.5px;font-weight:400;color:#1a1a1a;font-style:normal;letter-spacing:0px;-webkit-text-stroke-width:0.25px;">301</div><div class="t c" style="left:279.0px;top:838.93px;width:800px;transform:scaleX(0.87);transform-origin:50% 0;font-size:14.5px;font-weight:400;color:#1a1a1a;font-style:normal;letter-spacing:0px;-webkit-text-stroke-width:0.25px;">316</div><div style="left:2px;top:858.7px;width:249px;height:24.150000000000002px;background:#f1f1f1;"></div><div style="left:252px;top:858.7px;width:93px;height:24.150000000000002px;background:#f1f1f1;"></div><div style="left:347px;top:858.7px;width:93px;height:24.150000000000002px;background:#f1f1f1;"></div><div style="left:442px;top:858.7px;width:93px;height:24.150000000000002px;background:#f1f1f1;"></div><div style="left:537px;top:858.7px;width:93.5px;height:24.150000000000002px;background:#f1f1f1;"></div><div style="left:632.5px;top:858.7px;width:93.0px;height:24.150000000000002px;background:#f1f1f1;"></div><div style="left:727.5px;top:858.7px;width:93.0px;height:24.150000000000002px;background:#f1f1f1;"></div><div style="left:822.5px;top:858.7px;width:93.0px;height:24.150000000000002px;background:#f1f1f1;"></div><div style="left:917.5px;top:858.7px;width:92.5px;height:24.150000000000002px;background:#f1f1f1;"></div><div class="t" style="left:7px;top:863.78px;transform:scaleX(0.655);transform-origin:0 0;font-size:14.5px;font-weight:400;color:#2a2a2a;font-style:normal;letter-spacing:0px;-webkit-text-stroke-width:0.25px;">Предел прочности при растяжении,&nbsp; Н/мм<sup>2</sup>*</div><div class="t c" style="left:-101.5px;top:862.78px;width:800px;transform:scaleX(0.87);transform-origin:50% 0;font-size:14.5px;font-weight:400;color:#1a1a1a;font-style:normal;letter-spacing:0px;-webkit-text-stroke-width:0.25px;">1.800 - 2.100</div><div class="t c" style="left:-6.5px;top:862.78px;width:800px;transform:scaleX(0.87);transform-origin:50% 0;font-size:14.5px;font-weight:400;color:#1a1a1a;font-style:normal;letter-spacing:0px;-webkit-text-stroke-width:0.25px;">2.300 - 2.500</div><div class="t c" style="left:88.5px;top:862.78px;width:800px;transform:scaleX(0.87);transform-origin:50% 0;font-size:14.5px;font-weight:400;color:#1a1a1a;font-style:normal;letter-spacing:0px;-webkit-text-stroke-width:0.25px;">1.900 - 2.200</div><div class="t c" style="left:183.75px;top:862.78px;width:800px;transform:scaleX(0.87);transform-origin:50% 0;font-size:14.5px;font-weight:400;color:#1a1a1a;font-style:normal;letter-spacing:0px;-webkit-text-stroke-width:0.25px;">2.000 - 2.400</div><div class="t c" style="left:279.0px;top:862.78px;width:800px;transform:scaleX(0.87);transform-origin:50% 0;font-size:14.5px;font-weight:400;color:#1a1a1a;font-style:normal;letter-spacing:0px;-webkit-text-stroke-width:0.25px;">1.600 - 1.800</div><div class="t c" style="left:374.0px;top:862.78px;width:800px;transform:scaleX(0.87);transform-origin:50% 0;font-size:14.5px;font-weight:400;color:#1a1a1a;font-style:normal;letter-spacing:0px;-webkit-text-stroke-width:0.25px;">1.600 - 1.800</div><div class="t c" style="left:469.0px;top:862.78px;width:800px;transform:scaleX(0.87);transform-origin:50% 0;font-size:14.5px;font-weight:400;color:#1a1a1a;font-style:normal;letter-spacing:0px;-webkit-text-stroke-width:0.25px;">2.300 - 2.600</div><div class="t c" style="left:563.75px;top:862.78px;width:800px;transform:scaleX(0.87);transform-origin:50% 0;font-size:14.5px;font-weight:400;color:#1a1a1a;font-style:normal;letter-spacing:0px;-webkit-text-stroke-width:0.25px;">900 - 1.200</div><div style="left:2px;top:882.55px;width:249px;height:24.150000000000002px;background:#e1e1e1;"></div><div style="left:252px;top:882.55px;width:93px;height:24.150000000000002px;background:#e1e1e1;"></div><div style="left:347px;top:882.55px;width:93px;height:24.150000000000002px;background:#e1e1e1;"></div><div style="left:442px;top:882.55px;width:93px;height:24.150000000000002px;background:#e1e1e1;"></div><div style="left:537px;top:882.55px;width:93.5px;height:24.150000000000002px;background:#e1e1e1;"></div><div style="left:632.5px;top:882.55px;width:93.0px;height:24.150000000000002px;background:#e1e1e1;"></div><div style="left:727.5px;top:882.55px;width:93.0px;height:24.150000000000002px;background:#e1e1e1;"></div><div style="left:822.5px;top:882.55px;width:93.0px;height:24.150000000000002px;background:#e1e1e1;"></div><div style="left:917.5px;top:882.55px;width:92.5px;height:24.150000000000002px;background:#e1e1e1;"></div><div class="t" style="left:7px;top:887.63px;transform:scaleX(0.655);transform-origin:0 0;font-size:14.5px;font-weight:400;color:#2a2a2a;font-style:normal;letter-spacing:0px;-webkit-text-stroke-width:0.25px;">Удельный вес, г/см<sup>3</sup></div><div class="t c" style="left:-101.5px;top:886.63px;width:800px;transform:scaleX(0.87);transform-origin:50% 0;font-size:14.5px;font-weight:400;color:#1a1a1a;font-style:normal;letter-spacing:0px;-webkit-text-stroke-width:0.25px;">7,85</div><div class="t c" style="left:-6.5px;top:886.63px;width:800px;transform:scaleX(0.87);transform-origin:50% 0;font-size:14.5px;font-weight:400;color:#1a1a1a;font-style:normal;letter-spacing:0px;-webkit-text-stroke-width:0.25px;">7,85</div><div class="t c" style="left:88.5px;top:886.63px;width:800px;transform:scaleX(0.87);transform-origin:50% 0;font-size:14.5px;font-weight:400;color:#1a1a1a;font-style:normal;letter-spacing:0px;-webkit-text-stroke-width:0.25px;">7,85</div><div class="t c" style="left:183.75px;top:886.63px;width:800px;transform:scaleX(0.87);transform-origin:50% 0;font-size:14.5px;font-weight:400;color:#1a1a1a;font-style:normal;letter-spacing:0px;-webkit-text-stroke-width:0.25px;">7,85</div><div class="t c" style="left:279.0px;top:886.63px;width:800px;transform:scaleX(0.87);transform-origin:50% 0;font-size:14.5px;font-weight:400;color:#1a1a1a;font-style:normal;letter-spacing:0px;-webkit-text-stroke-width:0.25px;">7,85</div><div class="t c" style="left:374.0px;top:886.63px;width:800px;transform:scaleX(0.87);transform-origin:50% 0;font-size:14.5px;font-weight:400;color:#1a1a1a;font-style:normal;letter-spacing:0px;-webkit-text-stroke-width:0.25px;">7,90</div><div class="t c" style="left:469.0px;top:886.63px;width:800px;transform:scaleX(0.87);transform-origin:50% 0;font-size:14.5px;font-weight:400;color:#1a1a1a;font-style:normal;letter-spacing:0px;-webkit-text-stroke-width:0.25px;">7,85</div><div class="t c" style="left:563.75px;top:886.63px;width:800px;transform:scaleX(0.87);transform-origin:50% 0;font-size:14.5px;font-weight:400;color:#1a1a1a;font-style:normal;letter-spacing:0px;-webkit-text-stroke-width:0.25px;">8,50</div><div style="left:2px;top:906.4px;width:249px;height:24.150000000000002px;background:#f1f1f1;"></div><div style="left:252px;top:906.4px;width:93px;height:24.150000000000002px;background:#f1f1f1;"></div><div style="left:347px;top:906.4px;width:93px;height:24.150000000000002px;background:#f1f1f1;"></div><div style="left:442px;top:906.4px;width:93px;height:24.150000000000002px;background:#f1f1f1;"></div><div style="left:537px;top:906.4px;width:93.5px;height:24.150000000000002px;background:#f1f1f1;"></div><div style="left:632.5px;top:906.4px;width:93.0px;height:24.150000000000002px;background:#f1f1f1;"></div><div style="left:727.5px;top:906.4px;width:93.0px;height:24.150000000000002px;background:#f1f1f1;"></div><div style="left:822.5px;top:906.4px;width:93.0px;height:24.150000000000002px;background:#f1f1f1;"></div><div style="left:917.5px;top:906.4px;width:92.5px;height:24.150000000000002px;background:#f1f1f1;"></div><div class="t" style="left:7px;top:911.48px;transform:scaleX(0.655);transform-origin:0 0;font-size:14.5px;font-weight:400;color:#2a2a2a;font-style:normal;letter-spacing:0px;-webkit-text-stroke-width:0.25px;">Термостойкость, °C</div><div class="t c" style="left:-101.5px;top:910.23px;width:800px;transform:scaleX(0.85);transform-origin:50% 0;font-size:15px;font-weight:400;color:#1a1a1a;font-style:normal;letter-spacing:0px;-webkit-text-stroke-width:0.25px;"><span style="font-size:0.78em">до</span>&nbsp; 300 °C</div><div class="t c" style="left:-6.5px;top:910.23px;width:800px;transform:scaleX(0.85);transform-origin:50% 0;font-size:15px;font-weight:400;color:#1a1a1a;font-style:normal;letter-spacing:0px;-webkit-text-stroke-width:0.25px;"><span style="font-size:0.78em">до</span>&nbsp; 300 °C</div><div class="t c" style="left:88.5px;top:910.23px;width:800px;transform:scaleX(0.85);transform-origin:50% 0;font-size:15px;font-weight:400;color:#1a1a1a;font-style:normal;letter-spacing:0px;-webkit-text-stroke-width:0.25px;"><span style="font-size:0.78em">до</span>&nbsp; 450 °C</div><div class="t c" style="left:183.75px;top:910.23px;width:800px;transform:scaleX(0.85);transform-origin:50% 0;font-size:15px;font-weight:400;color:#1a1a1a;font-style:normal;letter-spacing:0px;-webkit-text-stroke-width:0.25px;"><span style="font-size:0.78em">до</span>&nbsp; 450 °C</div><div class="t c" style="left:279.0px;top:910.23px;width:800px;transform:scaleX(0.85);transform-origin:50% 0;font-size:15px;font-weight:400;color:#1a1a1a;font-style:normal;letter-spacing:0px;-webkit-text-stroke-width:0.25px;"><span style="font-size:0.78em">до</span>&nbsp; 500 °C</div><div class="t c" style="left:374.0px;top:910.23px;width:800px;transform:scaleX(0.85);transform-origin:50% 0;font-size:15px;font-weight:400;color:#1a1a1a;font-style:normal;letter-spacing:0px;-webkit-text-stroke-width:0.25px;"><span style="font-size:0.78em">до</span>&nbsp; 600 °C</div><div class="t c" style="left:469.0px;top:910.23px;width:800px;transform:scaleX(0.85);transform-origin:50% 0;font-size:15px;font-weight:400;color:#1a1a1a;font-style:normal;letter-spacing:0px;-webkit-text-stroke-width:0.25px;"><span style="font-size:0.78em">до</span>&nbsp; 300 °C</div><div class="t c" style="left:563.75px;top:910.23px;width:800px;transform:scaleX(0.85);transform-origin:50% 0;font-size:15px;font-weight:400;color:#1a1a1a;font-style:normal;letter-spacing:0px;-webkit-text-stroke-width:0.25px;"><span style="font-size:0.78em">до</span>&nbsp; 180 °C</div><div style="left:1015px;top:512px;width:353px;height:415px;background:#f1f1f1;box-sizing:border-box;border:3px solid #555;"></div>
<svg width="1374" height="936" viewBox="0 0 1374 936" style="position:absolute;left:0;top:0"><defs><filter id="blur1" x="-10%" y="-10%" width="120%" height="120%"><feGaussianBlur stdDeviation="0.45"/></filter></defs><g filter="url(#blur1)"><g transform="translate(1102,104) rotate(-42)"><defs><linearGradient id="hbr2" x1="0" y1="0" x2="0" y2="1"><stop offset="0" stop-color="#6a6a6a"/><stop offset="0.3" stop-color="#cfcfcf"/><stop offset="0.6" stop-color="#8a8a8a"/><stop offset="1" stop-color="#4a4a4a"/></linearGradient><linearGradient id="bbr2" x1="0" y1="0" x2="0" y2="1"><stop offset="0" stop-color="#5e5853"/><stop offset="0.5" stop-color="#746d67"/><stop offset="1" stop-color="#8e8882"/></linearGradient></defs><rect x="61.4" y="-8.5" width="51.6" height="17" rx="5.1" fill="url(#hbr2)"/><ellipse cx="110.0" cy="0" rx="3.5" ry="8.0" fill="#c8c8c8"/><path d="M-47.0,-42.0 L55.0,-42.0 A20.0,42.0 0 0 1 55.0,42.0 L-47.0,42.0 A28.0,42.0 0 0 1 -47.0,-42.0 Z" fill="url(#bbr2)"/><g stroke-linecap="round" fill="none"><path stroke="#a9a39d" stroke-width="1.0" d="M53.0 21.7l1.1 6.5M35.7 5.3l3.4 7.1M28.8 38.3l4.2 1.9M-5.6 -17.5l-0.3 4.3M-10.5 1.1l-2.1 5.8M30.9 18.3l0.2 3.4M-12.1 -15.7l2.0 5.7M28.2 -1.7l0.9 3.9M-23.1 -2.1l7.3 4.8M34.4 0.7l3.2 1.8M43.0 29.7l-1.0 3.1M-20.6 11.6l-2.7 7.1M-41.9 -26.4l1.8 6.8M-71.0 14.9l3.1 4.6M50.8 33.9l0.3 6.0M42.2 22.1l1.6 6.4M-21.3 -11.0l-1.8 5.5M-48.0 4.9l-0.3 3.1M-18.9 -17.1l0.1 4.5M62.0 -31.0l-1.4 7.8M24.6 -16.6l0.7 5.5M-7.8 -18.1l1.1 4.3M20.7 24.9l0.9 4.2M60.3 23.0l-0.0 4.9M-63.4 -3.6l3.5 2.1M-56.8 38.2l0.3 4.9M-29.2 6.8l0.9 3.4M-44.5 -21.0l2.3 6.7M-67.2 16.8l-0.8 2.9M-36.7 -37.1l-0.6 5.5M7.1 -15.8l5.2 6.0M33.9 -10.7l3.9 5.7M-7.8 -1.0l-1.4 7.3M8.0 -33.5l1.4 3.8M35.4 0.8l0.8 5.8M-9.7 7.8l-1.8 4.3M-49.2 37.8l2.6 7.7M-45.2 -31.2l-5.6 4.6M-17.0 28.0l-7.1 2.0M32.7 -0.5l2.2 3.1M-53.8 0.4l3.1 2.1M37.9 -0.7l1.7 8.2M-36.0 -23.6l0.1 7.1M15.2 -0.1l0.3 6.6M46.5 -9.4l-3.0 7.4M62.5 28.6l4.6 2.0M-18.3 20.4l-1.1 8.1M65.8 12.4l0.1 4.5M-12.1 -21.5l0.6 4.4M28.8 -37.4l-0.4 3.1M-27.0 -40.3l-0.3 6.1M-56.8 -15.2l0.8 8.0M-11.7 -17.9l-1.0 3.3M27.1 -4.9l-6.2 3.0M45.5 30.3l1.8 7.6M-61.4 16.0l-4.4 7.7M9.0 -1.7l0.4 8.9M12.8 24.2l3.3 4.0M-32.9 16.1l6.8 2.8"/><path stroke="#4f4b47" stroke-width="0.75" d="M21.9 27.9l-0.1 5.2M63.4 34.1l-3.7 7.8M40.1 19.8l-1.3 6.0M-0.3 1.4l-2.8 5.0M18.4 25.1l3.1 3.7M34.6 28.5l0.1 7.4M-2.8 -8.7l-7.1 1.4M46.7 14.1l-0.6 6.8M-45.2 -13.2l0.2 5.2M-58.0 2.1l3.7 6.6M-7.7 8.4l-1.4 3.8M57.2 12.6l-3.0 0.5M-58.7 -30.3l-8.1 3.5M-29.5 -16.7l0.3 5.6M67.3 -27.3l-6.0 2.5M-58.5 21.6l-1.7 7.7M-56.0 -22.9l-1.4 6.6M15.5 11.4l-2.5 8.4M26.0 13.7l6.8 4.0M-28.9 -8.6l-7.5 1.8M59.9 -4.2l3.8 0.8M-38.6 -8.0l0.6 7.3M-68.5 2.9l-1.7 6.9M-14.6 13.2l6.8 1.2M-16.8 24.5l-0.8 3.4M27.3 -7.3l-1.3 3.6M28.7 2.1l-6.5 0.8M72.6 -15.5l3.7 1.3M52.9 10.3l3.4 6.4M15.1 36.1l2.4 5.7M41.6 -25.6l-1.7 6.6M50.7 -13.9l0.9 6.6M-49.8 27.4l1.1 3.9M5.7 33.1l-2.2 5.2M-14.7 39.3l1.3 6.1M-51.4 21.5l1.9 7.5M23.7 -23.2l-2.6 4.4M41.5 -12.8l0.2 6.9M-10.0 -5.0l-1.9 3.2M-23.9 -15.5l0.7 5.8M33.1 6.7l0.6 3.5M-35.2 -20.5l3.5 7.3M11.8 -3.6l-6.5 3.5M-59.2 -24.4l-0.6 5.9M-62.4 33.6l1.3 5.9M-46.6 19.6l-0.4 4.5"/><path stroke="#8a847e" stroke-width="1.0" d="M60.7 -30.9l-0.1 4.0M27.6 -29.3l-5.9 4.4M-46.2 1.1l-1.3 3.2M33.4 -18.2l1.1 4.8M21.6 -39.3l1.8 5.6M-39.5 -14.5l-0.2 5.0M-57.1 0.2l-1.9 7.7M39.8 -26.5l-0.6 3.1M-72.4 13.7l-0.0 3.9M-62.1 26.1l-1.1 8.6M-29.6 38.3l-0.1 7.3M-58.3 21.0l3.0 8.4M4.3 -31.7l-1.1 2.9M-45.8 -10.4l-1.1 4.2M-32.9 25.3l-3.3 0.0M-47.3 -14.9l-1.7 5.6M-13.2 -16.4l1.4 4.2M-23.8 -26.1l-5.9 2.2M-50.2 -19.5l0.1 4.2M-46.0 -2.4l-2.8 1.6M62.9 -12.4l-1.5 3.6M-68.2 13.5l2.1 3.5M20.8 -26.0l-2.0 6.0M-14.8 5.5l-1.4 6.5M-13.3 -27.0l1.5 5.5M-29.7 13.7l-2.1 8.7M-1.8 24.5l1.1 4.6M-54.8 24.2l1.7 5.6M67.5 -24.4l0.4 4.3M4.9 -4.4l-0.5 6.7M-72.5 -10.6l0.1 7.4M22.5 -11.1l-0.2 3.7M-24.2 18.8l2.7 6.3M42.3 35.0l-4.0 5.4M-14.2 -19.1l-1.9 6.0M41.8 7.9l3.1 6.2M-26.6 -13.0l-0.1 5.0M-54.6 1.5l0.9 5.1M-3.4 -27.3l1.6 3.6M-71.7 -4.3l-0.6 5.1M-60.6 5.7l-2.2 4.3M-48.2 11.9l2.7 3.6"/><path stroke="#8a847e" stroke-width="0.75" d="M64.4 -28.4l6.8 1.3M70.8 1.7l0.2 5.0M-42.3 -5.1l3.1 7.2M53.1 -18.7l-2.0 5.6M-32.9 36.3l1.2 6.7M48.7 12.2l2.4 7.6M34.8 8.7l0.2 5.4M36.7 29.9l2.9 8.3M32.7 -9.1l-0.3 3.6M7.9 -36.5l-0.4 3.5M-31.2 31.3l-1.0 6.3M26.5 -9.1l1.4 8.5M-41.5 16.4l2.3 5.2M-24.6 -9.8l0.0 6.3M-48.4 -7.1l-8.0 4.0M-23.9 -38.3l2.2 2.9M-25.4 -35.8l2.0 7.7M2.0 33.1l-3.4 3.4M27.9 19.7l-0.5 5.5M4.7 -29.2l-1.8 5.8M-48.4 -13.2l-1.6 5.4M-5.5 18.1l-4.3 7.7M66.5 -13.1l1.1 3.7M51.0 -32.3l6.0 5.8M-24.7 -2.2l0.5 3.7M-59.6 1.3l2.5 8.4M60.2 29.2l-1.1 6.6M34.4 31.3l-0.8 3.2M-5.4 -34.9l3.8 7.4M20.8 -40.6l2.9 5.6M-17.0 -40.4l4.4 3.1M-41.8 -8.1l0.3 5.1M-33.0 -23.2l-7.6 3.4M33.9 40.9l1.3 4.7M-24.6 26.9l4.2 2.6M30.0 -39.7l-0.3 3.9M-3.0 -26.1l0.0 3.1M-66.1 19.1l-1.3 2.9M16.0 0.5l-1.0 6.8M-13.5 -26.0l1.6 7.1M51.3 39.7l-2.8 3.6M68.4 -1.2l-0.2 6.3M36.0 10.9l-5.3 2.9M6.8 -24.2l-1.6 6.3M-9.9 -36.5l-1.4 5.6M-35.7 -24.2l-0.1 4.1M-12.1 -39.7l-1.0 4.3M-2.7 33.0l-1.2 4.4M-14.7 -36.7l4.6 6.1M-15.2 -18.8l-0.3 3.2M69.1 -4.7l0.7 8.3M-64.3 -1.9l-0.9 4.7M-61.2 28.6l7.4 2.2M32.7 -40.7l-5.9 0.2M62.7 -2.0l-7.4 0.7M-33.3 -34.4l3.6 5.9M46.4 4.3l-3.8 3.6M-8.1 -3.1l-0.6 8.0M41.2 -36.0l-1.4 8.8M-35.4 39.2l-3.5 5.7"/><path stroke="#5c5752" stroke-width="0.5" d="M41.0 -40.8l-0.0 3.7M16.8 -7.4l0.6 3.3M-55.9 -7.7l1.5 3.2M-32.2 -24.7l1.0 6.1M-30.4 -26.9l1.8 2.5M-43.6 3.0l8.3 2.4M44.6 7.4l-2.9 3.2M-59.1 8.0l-0.2 5.0M42.0 21.9l-1.4 6.5M-5.8 -35.8l1.0 3.4M26.8 25.2l-0.2 5.0M69.1 -7.0l0.2 3.1M-26.6 -39.4l4.8 5.8M-52.0 -19.6l-1.1 6.8M-73.3 -8.5l1.7 5.1M-58.1 10.1l-3.0 7.7M49.5 -7.1l0.5 3.2M55.3 -3.2l5.4 6.8M41.8 12.1l2.7 3.4M48.8 33.2l-0.0 5.9M68.5 -18.1l1.0 6.0M63.5 -20.5l1.8 6.2M59.0 -19.6l3.5 1.8M-52.1 -12.9l-1.4 3.2M35.8 28.3l-0.1 3.7M-57.8 -12.6l-1.7 8.1M20.0 38.3l1.9 7.3M11.3 25.5l6.8 2.6M10.1 -40.0l2.0 4.5M-68.3 -12.0l0.4 4.0"/><path stroke="#5c5752" stroke-width="0.75" d="M-38.6 28.8l-0.3 4.1M-24.6 10.6l4.7 1.7M1.9 -37.9l-2.0 3.0M25.8 -1.9l-1.0 8.7M21.7 -3.4l-1.1 2.8M70.0 21.1l4.3 7.3M-2.4 16.1l0.1 3.2M27.8 -31.7l-2.3 5.3M55.0 -32.2l0.5 3.5M-62.5 -30.6l-2.8 6.3M-62.3 -13.7l0.8 3.8M59.3 -33.1l-2.6 2.8M-42.8 18.7l-1.1 6.9M-73.6 1.1l-3.1 6.9M62.6 0.9l5.0 0.4M10.4 39.9l-2.6 8.2M66.2 -5.1l-0.2 3.1M-65.7 25.7l-1.1 7.9M32.8 -19.1l-0.9 6.3M48.3 -18.9l2.1 4.4M1.9 20.0l3.7 7.8M-44.6 -31.0l3.9 5.1M-49.5 9.6l-1.4 3.1M69.0 23.8l-0.2 3.7M-55.9 -16.2l-1.4 5.8M55.5 1.5l0.5 7.3M17.1 11.8l-3.0 6.1M-71.2 -12.7l0.6 3.9M11.1 23.7l-1.1 2.9M-27.9 7.6l1.1 5.7M36.5 23.8l-1.1 4.9M-34.0 -34.0l0.5 8.9M-55.3 7.3l-4.1 7.4M-58.7 2.9l-5.2 7.0M27.9 -31.4l-0.5 7.6M49.8 -19.9l0.1 6.7M-40.0 -29.1l-2.1 4.6M-64.6 -25.9l-0.3 3.8M45.4 -11.1l-4.6 1.7M2.9 -34.9l-1.9 6.0M-67.3 26.3l-3.0 8.0M-9.8 -38.5l-2.1 3.5M45.6 27.2l3.4 5.1M-53.4 -13.3l2.7 5.0M20.0 2.5l3.5 5.4M-2.0 -32.5l3.6 4.7M-1.4 -6.8l-2.9 4.7M-34.5 -37.9l0.2 7.7M-49.2 -31.7l0.2 4.3M66.5 -11.1l0.3 5.4M47.6 16.9l-1.2 7.2M35.2 7.0l-3.3 8.0M8.9 40.7l0.8 5.9M36.4 -14.3l-1.6 3.8"/><path stroke="#a9a39d" stroke-width="0.75" d="M8.1 9.7l0.2 6.7M-6.2 18.7l-3.7 5.3M7.5 19.6l7.7 2.0M-63.3 -24.1l0.8 5.1M-41.6 30.7l1.8 4.3M-47.1 -0.1l-3.9 3.1M50.5 -3.2l0.3 3.4M6.0 -9.9l-0.4 8.5M33.4 -20.0l1.3 4.1M33.5 -12.4l0.8 6.9M21.9 6.9l-1.9 6.4M44.4 -10.0l2.0 2.9M-40.8 31.8l3.8 2.4M-54.4 38.8l-0.9 7.6M-20.5 -36.2l-0.3 6.1M7.3 -18.2l-5.1 5.9M-40.7 -26.1l-1.9 6.8M-3.2 -32.1l1.1 5.1M-40.6 -35.1l0.0 6.2M64.3 19.6l-3.0 7.4M-39.2 -0.2l4.7 5.6M-34.6 23.8l2.2 2.2M-2.7 4.4l2.4 5.0M-7.4 17.8l-0.8 4.6M37.9 36.8l1.5 3.4M41.1 1.4l1.7 6.0M33.2 -7.4l0.4 8.0M3.9 -26.7l1.5 6.3M-64.6 31.0l0.6 7.7M-39.3 3.8l-0.1 5.0M-66.4 17.3l2.8 4.3M-31.5 -9.1l7.8 2.5M8.0 16.8l-8.4 0.6M1.9 28.1l-1.9 5.9M-61.0 -18.4l0.0 5.8M-33.9 19.1l-3.4 5.3M18.2 -38.8l3.1 5.0M-23.3 33.0l0.2 5.3"/><path stroke="#4f4b47" stroke-width="1.0" d="M-43.4 14.8l-1.3 3.4M-24.5 35.7l-1.7 4.7M-19.8 -1.5l-4.7 5.7M-49.3 29.1l-2.6 4.1M6.0 -10.8l-1.4 6.7M-6.7 -24.6l-1.3 7.8M17.6 33.3l-1.6 3.0M-1.6 34.2l0.7 6.0M-5.3 27.4l1.5 6.7M-29.4 -18.5l-1.4 6.0M-56.8 17.8l-2.6 2.4M-27.8 29.4l-0.2 3.4M-62.9 5.3l-0.8 7.0M57.1 23.3l0.5 7.0M26.4 -26.7l-4.4 3.4M70.6 -17.5l-1.6 5.8M-8.8 16.1l4.9 0.7M-46.6 -33.9l2.6 2.6M39.4 21.9l1.6 5.3M25.0 -11.1l1.2 4.0M32.6 28.9l1.0 4.3M-38.8 -4.3l-0.5 3.7M32.9 -19.5l1.4 6.8M-3.3 26.2l-1.3 5.5M65.4 -32.4l-3.2 2.0M58.9 9.7l-2.4 2.7M4.3 14.5l0.1 8.4M52.2 9.8l0.8 3.6M-26.9 -11.8l-4.7 6.9M4.1 35.2l1.0 3.9M-30.3 24.9l1.9 5.8M26.7 18.1l-2.4 8.2M-6.6 31.6l5.4 5.9M20.1 -13.2l2.1 3.6M31.6 -12.0l-2.7 6.0M-43.3 25.2l3.9 3.5M2.9 -23.8l1.4 4.2M37.8 -20.0l-4.1 5.0M-1.9 29.6l-0.3 6.1M68.1 -21.9l0.6 8.0M-27.9 29.1l0.1 4.3M-38.6 -28.1l-0.2 3.2M39.2 -22.5l-8.8 1.4M-42.0 28.6l0.8 7.9M-8.7 17.7l-4.0 2.8M10.3 -2.6l2.1 2.9M-27.9 14.9l-0.4 5.0M-12.8 -5.2l1.1 5.2M-42.2 37.9l-0.7 3.0M-32.8 30.8l1.0 7.0M-64.8 20.7l2.4 4.3"/><path stroke="#5c5752" stroke-width="1.0" d="M-52.0 -4.3l0.6 8.5M41.1 -13.8l-0.7 7.0M53.8 -4.2l0.6 6.1M51.7 15.9l0.2 8.4M-49.3 -5.9l3.0 6.1M-56.9 19.1l2.7 6.1M-42.9 10.9l-0.7 7.8M-32.1 35.9l6.2 4.1M67.9 6.6l3.8 3.3M-64.4 -11.6l-2.0 5.3M49.5 -30.3l-0.4 5.0M-56.9 6.1l-2.0 6.3M36.4 30.2l-1.5 4.0M15.2 -27.9l-3.4 7.8M47.6 -3.7l-6.1 5.7M63.9 29.4l7.2 3.4M9.0 -21.8l1.3 8.0M56.4 24.1l2.2 5.9M-59.5 26.2l0.3 6.7M54.8 22.9l4.3 4.4M-50.7 33.3l2.0 8.3M44.4 -23.4l-4.8 3.5M20.1 -24.1l2.7 5.9M-0.7 -6.7l3.5 3.2M-20.9 -7.9l-1.6 7.4M57.4 -28.3l-0.8 5.4M-11.8 37.6l0.2 8.2M-67.4 -22.2l-4.3 0.5M-59.7 -20.9l-1.3 7.6M-0.1 -4.6l-2.2 4.6M-13.3 -4.1l0.9 3.3M-2.0 -12.3l-1.8 5.6M39.5 34.0l2.3 2.4M-55.3 26.5l0.1 7.0M23.3 22.5l3.9 2.3M38.1 -37.4l3.6 5.2M21.8 -5.0l5.2 4.4M27.4 -0.8l-2.2 7.7M-50.3 -31.4l-2.7 8.4M-50.5 34.7l3.1 7.6M59.6 20.5l0.8 3.4M1.2 13.0l1.7 7.3M-5.2 -34.1l-0.9 8.9M60.0 -20.7l1.7 7.0M9.3 22.9l1.4 6.1M-48.5 32.1l-0.2 3.4M5.5 -0.6l-0.8 6.4"/><path stroke="#4f4b47" stroke-width="0.5" d="M-12.2 2.4l0.8 3.1M29.3 -36.7l-0.9 3.0M40.3 -28.3l2.3 4.8M25.1 25.5l0.0 5.1M-45.8 -11.3l1.3 5.4M-12.7 0.5l-4.8 4.9M-24.5 -29.0l-1.5 2.9M-62.2 15.1l-2.3 6.5M38.0 12.6l-0.8 6.2M-15.1 10.0l3.2 4.7M-10.4 -6.5l-0.7 4.1M-28.4 -1.3l0.2 8.7M64.4 -8.7l-5.5 6.2M-23.9 20.7l-1.1 2.8M-9.6 -34.6l5.0 4.0M-37.5 17.1l-0.6 5.5M-45.1 -7.5l-0.4 5.6M56.5 34.0l-4.7 1.8M-67.8 10.5l0.9 7.0M-18.7 4.3l3.1 6.5M-61.3 6.9l-4.8 5.2"/><path stroke="#a9a39d" stroke-width="0.5" d="M9.1 27.7l-2.3 5.5M-24.1 23.9l-4.5 0.0M-19.6 -40.0l-2.5 5.4M-44.0 2.4l-5.4 1.4M69.8 19.4l-6.1 1.7M-5.0 -9.4l-0.2 4.2M18.2 26.8l2.1 3.7M62.8 -13.6l4.2 2.3M-10.6 21.2l-1.1 3.2M13.9 5.1l2.4 8.7M-13.4 18.5l2.5 7.4M-19.4 24.8l-0.2 5.5M-15.1 18.6l2.0 2.5M-43.2 -15.4l-1.0 3.3M71.0 -4.0l-2.2 8.1M3.9 24.6l4.6 6.3M68.0 -22.6l2.5 5.3M28.2 21.2l-0.2 6.9M-68.8 -6.2l3.1 3.3M42.7 29.6l1.1 3.9M-66.9 -2.0l-1.9 5.3"/><path stroke="#8a847e" stroke-width="0.5" d="M-38.8 -28.4l-0.9 6.4M52.8 20.3l1.8 7.0M51.3 0.2l1.2 4.5M-50.0 17.5l-0.1 5.5M51.9 -38.6l-0.4 6.2M-39.8 15.1l3.5 3.9M9.6 25.1l-0.4 4.2M52.6 -9.2l-3.1 6.9M55.1 -26.3l-1.2 5.5M-2.2 -27.1l8.3 0.5M-64.3 -26.8l-4.4 7.8M32.2 2.0l0.3 4.0M-18.2 -2.9l-0.3 4.8M21.8 -20.5l2.3 7.5M-25.8 35.3l-4.3 6.1"/></g><g stroke="#b9b3ad" stroke-width="1.2" fill="none" opacity="0.75"><path d="M-60.0,-42.0 Q-3.0,0 -60.0,42.0"/><path d="M-43.9,-42.0 Q13.1,0 -43.9,42.0"/><path d="M-27.8,-42.0 Q29.3,0 -27.8,42.0"/><path d="M-11.6,-42.0 Q45.4,0 -11.6,42.0"/><path d="M4.5,-42.0 Q61.5,0 4.5,42.0"/><path d="M20.6,-42.0 Q77.7,0 20.6,42.0"/><path d="M36.8,-42.0 Q93.8,0 36.8,42.0"/></g><g stroke-linecap="round" fill="none"><path stroke="#c0bbb6" stroke-width="0.75" d="M-1.1 40.7l-1.3 4.1M-33.7 -41.9l-1.0 -8.3M-64.0 -29.8l-4.8 -3.1M-39.6 39.2l0.6 4.4M54.3 41.2l5.3 7.8M70.8 25.4l7.5 6.5M-58.6 -35.4l-5.3 -5.0M64.2 -29.2l4.3 -0.7M-29.6 -42.1l0.8 -8.2M36.0 -38.3l0.9 -3.5M28.6 -42.1l1.0 -8.5M-39.2 39.2l0.6 6.1M1.6 -38.0l0.7 -5.0M-43.4 42.2l-0.5 5.4M-7.3 39.9l1.0 2.9M5.0 42.4l-1.6 9.2M18.5 -39.0l0.4 -8.6M11.5 -42.2l0.2 -9.5M-21.9 -38.0l1.9 -8.2M-20.5 41.4l0.1 3.3M-73.4 -0.2l-7.9 -0.9M-46.3 -42.3l-1.1 -5.3M-72.3 -12.9l-4.2 -0.9M-8.7 -37.3l4.8 -7.7M-68.6 16.5l-6.1 1.0M-42.2 38.0l-0.2 8.3M2.6 -40.7l-0.1 -3.1M-32.7 38.8l-2.7 9.4M41.9 38.9l0.9 3.4M60.0 37.8l6.8 4.2M-51.2 -37.3l0.2 -9.0M-44.9 42.4l-1.3 7.5M38.2 -41.0l-2.8 -8.4M-71.8 -5.0l-7.7 -2.4M-74.5 -5.0l-4.4 -1.2M59.7 -37.7l5.0 -3.9M-5.7 -39.7l1.0 -7.7M4.1 -40.4l0.4 -5.0M2.9 -41.1l0.6 -3.2M-55.6 35.7l-6.2 3.7M52.0 40.6l3.5 5.8M12.4 -39.7l-0.1 -7.0M-39.2 -41.5l3.5 -8.4M26.4 40.3l0.7 7.8M36.4 38.4l1.4 9.7M-24.7 -38.2l1.0 -6.9M-31.2 42.1l0.5 4.6M24.6 40.9l-0.2 3.8M-29.7 -39.6l-1.4 -3.5M-66.1 22.1l-2.0 2.6M-62.1 -28.6l-3.1 -3.4M61.3 -37.9l3.9 -3.6M-37.7 -42.5l-0.5 -7.6M-71.4 -19.9l-1.7 -2.5M-64.7 28.2l-3.7 2.8M43.6 40.3l1.0 3.7M2.7 -38.6l-0.2 -9.9M-51.3 -37.4l-3.9 -4.3M56.8 -42.1l3.8 -5.3M24.0 -39.9l-1.4 -5.2M-24.6 40.6l-1.4 6.9M65.5 29.6l4.7 -1.7M18.2 40.8l-1.2 8.3M-71.3 15.4l-6.7 -1.7M-65.9 -26.5l-2.4 -3.6M-15.7 -40.4l0.2 -4.4M-1.1 39.3l-0.4 8.7M-69.4 19.6l-4.2 3.9"/><path stroke="#9d9893" stroke-width="1.0" d="M37.6 -42.2l-0.5 -4.0M11.7 39.7l-1.7 8.3M-22.5 37.4l-0.8 4.1M-15.8 -38.0l-0.4 -3.6M-71.3 -16.3l-2.8 -4.7M59.2 37.6l-0.9 8.2M-60.3 -34.6l-6.3 -7.2M5.0 40.6l0.6 5.7M-45.0 40.3l0.7 8.7M66.6 -29.0l5.1 0.2M-67.4 23.5l-7.4 -0.1M36.4 -39.8l-1.4 -4.6M-30.0 39.6l0.9 3.2M11.0 38.8l0.4 8.8M-42.5 38.8l-1.5 4.4M70.8 -16.3l6.2 -5.3M-71.3 19.4l-3.6 3.6M-70.1 11.0l-3.2 0.2M-67.0 -24.4l-9.9 -1.6M-2.8 -39.3l3.1 -9.3M-70.0 5.0l-5.9 -1.4M-45.9 41.7l-4.6 6.2M44.9 -40.0l0.4 -7.4M5.5 -42.3l-1.1 -6.0M-44.7 39.5l-1.0 4.6M-51.2 -39.3l-4.5 -7.2M12.1 -40.7l-1.2 -6.0M-20.5 37.7l0.9 4.0M-14.3 -42.1l-0.3 -3.7M11.1 -39.4l-0.1 -4.0M-11.9 39.4l-0.8 2.9M30.2 40.1l2.2 9.4M28.0 -40.8l-0.8 -8.1M38.1 41.4l-0.1 6.6M31.5 38.2l2.7 7.5M16.6 38.1l-2.2 8.0"/><path stroke="#b0aba6" stroke-width="0.5" d="M-14.1 -42.0l-0.8 -7.3M-62.9 28.3l-3.1 3.7M70.6 24.0l3.1 2.8M9.0 38.1l1.5 9.1M72.0 -12.7l4.3 -3.8M24.1 -38.7l-0.8 -4.1M-42.7 -42.3l-5.0 -3.8M24.9 37.6l-0.3 4.3M-67.5 23.1l-6.4 0.7M74.2 -14.2l8.3 -4.8M-64.5 -28.7l-5.3 -5.6M-70.1 19.8l-2.3 2.3M62.1 33.8l6.6 5.9M28.4 39.7l1.0 5.6M22.2 37.6l0.5 3.4M-28.4 -40.0l0.7 -4.7M-9.5 38.0l1.4 4.8M-67.1 -26.1l-1.6 -4.2M-74.5 0.5l-3.9 -0.1M-26.2 41.3l0.3 5.9"/><path stroke="#6f6a65" stroke-width="0.75" d="M69.9 22.9l3.2 3.9M28.5 -37.5l0.0 -3.3M31.8 38.7l0.2 3.3M26.6 -42.1l0.4 -9.7M-4.0 41.4l-1.4 7.8M-64.3 30.9l-2.0 2.4M7.7 41.1l-0.0 5.1M18.5 38.7l0.6 9.7M-47.3 -40.0l-6.4 -3.2M66.2 -31.5l2.9 -3.7M34.5 40.5l-0.5 5.4M72.3 16.1l5.5 7.4M-21.6 41.1l0.5 6.8M-67.6 23.5l-4.2 0.2M43.5 -41.4l1.3 -7.4M-11.9 42.0l-0.5 6.6M-1.9 -40.4l0.5 -10.0M-54.0 37.7l-5.6 3.6M-70.1 -23.1l-5.8 -3.9M-22.0 -42.6l0.4 -5.4M-1.3 -41.6l-1.0 -5.7M-71.7 -18.2l-3.4 -1.5M-17.1 41.8l2.7 6.4M-62.3 32.4l-3.8 7.0M14.6 -41.6l-0.4 -5.1M-63.4 32.0l-7.1 6.3M-70.4 5.6l-3.5 0.2M-42.3 -42.2l-0.0 -6.9M58.2 36.2l4.9 4.2M-3.3 -38.8l-0.7 -3.3M39.2 40.4l1.6 6.3M69.9 -20.2l3.4 -3.9M7.7 38.8l-0.4 4.9M46.1 39.5l2.7 9.4M-72.5 6.6l-9.6 -1.5M-72.1 1.3l-3.3 -0.7M26.7 39.1l-2.0 8.2M64.1 35.5l3.6 5.6M36.4 41.6l-1.6 7.5M1.2 39.9l1.9 6.2M-71.3 11.8l-8.2 1.2M66.8 29.8l6.4 2.9M-72.1 15.2l-7.2 -0.3M70.8 -19.1l6.8 -5.0M-71.5 -2.7l-4.9 0.2M17.6 -40.7l0.0 -6.6M63.8 -33.1l2.6 -1.7M-39.0 39.2l-1.2 5.1M-63.6 -29.4l-8.1 1.3M-71.5 -15.7l-4.8 -3.7M-26.7 -39.2l-1.2 -6.1M-22.1 -41.9l1.1 -7.9M-5.2 40.0l0.3 3.9M11.2 -40.4l-2.1 -7.5M0.9 38.1l-0.0 3.3M-39.3 -41.5l-0.2 -7.6M61.3 -35.9l3.8 -5.1M12.1 42.1l1.4 9.3M-57.4 -36.9l-3.6 -2.0M-25.9 38.2l0.6 4.2M-39.5 -39.6l1.1 -7.5M-6.2 -38.2l0.9 -4.1M-30.1 -38.6l1.4 -6.7M-60.8 -33.1l-5.1 -5.8M-3.5 39.4l-1.7 9.2M19.3 39.4l0.6 6.7M72.2 -18.5l5.0 -4.4M3.6 -38.2l1.3 -6.5M-34.4 38.7l-0.8 3.3M-3.0 40.2l-0.9 4.8M63.4 36.9l5.1 1.8M62.3 -38.3l4.3 -4.1"/><path stroke="#c0bbb6" stroke-width="1.0" d="M7.4 37.7l0.5 8.2M-30.2 38.1l1.3 5.3M55.9 42.2l5.0 3.7M73.1 15.2l2.6 2.0M2.4 39.0l-1.2 8.4M72.9 15.3l3.6 6.5M25.0 -38.3l-0.5 -3.3M49.2 -40.1l-1.5 -4.1M11.0 38.8l0.0 9.5M-70.5 19.2l-4.1 4.8M-74.7 6.5l-3.5 -0.0M8.5 37.8l-0.0 5.9M-7.9 38.5l2.3 8.7M-60.6 -29.7l-3.4 -2.3M70.7 -25.8l2.7 -2.0M55.7 39.5l0.8 7.0M-29.7 38.6l-1.3 6.3M-31.8 -38.0l-0.0 -6.4M-25.5 41.6l0.5 5.6M47.8 39.9l0.9 6.1M72.5 -18.4l2.5 -2.5"/><path stroke="#6f6a65" stroke-width="1.0" d="M6.2 39.0l0.6 4.1M14.5 39.2l-1.6 7.0M-69.4 -23.4l-2.4 -2.7M-55.3 -36.3l-4.9 -3.4M-69.5 12.6l-9.4 0.5M22.6 37.4l-0.1 4.3M37.7 -37.9l0.1 -5.6M-50.8 41.2l-7.3 3.4M46.4 -40.8l0.6 -6.5M25.0 -40.2l-1.4 -7.4M49.2 37.5l-1.1 7.8M-27.4 -40.1l-0.6 -4.1M-5.0 -39.4l1.5 -8.5M57.6 40.7l6.1 5.3M-1.3 42.2l1.3 6.4M60.2 36.3l3.0 4.9M-46.2 39.4l-0.7 4.7M6.4 -37.7l-2.7 -8.5M33.3 -39.2l4.3 -8.5M-1.2 -39.8l1.4 -7.9M41.0 38.2l-0.3 5.0M61.9 -39.1l7.0 -5.3M-10.5 -38.3l2.2 -8.0M73.2 14.0l4.6 3.0M10.3 42.7l-0.5 6.3M17.1 -39.1l-0.2 -7.4M-61.5 -32.9l-4.6 -6.1M-25.7 -42.4l-0.9 -5.1M61.8 -34.7l3.6 -6.5M-3.0 -42.6l0.6 -4.5M5.4 41.4l-2.0 8.0M-46.7 40.5l-0.6 7.8M-19.7 -40.8l-0.2 -4.7M-22.1 40.1l-1.9 7.8M-18.2 39.5l-3.4 8.3"/><path stroke="#b0aba6" stroke-width="0.75" d="M60.2 -35.9l6.8 -3.7M14.0 40.7l2.0 9.0M-68.5 -24.1l-9.7 -1.4M-67.6 24.5l-6.4 6.3M71.3 -22.9l2.5 -2.5M-66.3 26.0l-3.5 4.2M2.4 -39.4l-2.0 -5.5M14.7 -39.2l-0.4 -4.2M73.3 -14.4l2.6 -4.3M34.7 -42.0l-0.5 -5.4M64.7 -31.7l4.2 -4.2M-70.8 17.9l-6.8 5.6M70.5 26.2l4.7 5.7M73.5 -12.4l1.3 -3.1M-5.3 40.5l0.3 5.5M-56.2 36.4l-1.7 3.5M-12.6 -41.3l1.3 -4.0M37.9 39.8l-0.2 8.9M-3.8 -38.5l1.0 -7.7M-63.1 -32.2l-5.7 -6.5M-52.3 -39.4l-3.7 -5.4M-5.8 38.7l-0.6 6.1M19.8 40.0l-2.4 6.9M26.0 38.9l-0.7 9.1M4.2 39.9l-2.6 8.4M28.0 38.7l-0.3 3.1M67.5 -28.6l9.1 1.3M-28.1 38.6l-1.4 8.4M-54.6 -38.9l-3.7 -3.4M-39.5 37.8l-0.1 6.3M63.0 -36.1l3.7 -4.0M14.8 -37.6l1.7 -4.2M-4.7 -41.4l3.1 -8.1M2.1 42.5l1.9 8.3M73.6 -15.2l3.6 -3.8M30.0 40.1l-3.6 4.9M-69.3 -10.9l-8.6 0.6M-31.8 39.8l-0.7 8.6M36.1 39.0l1.5 4.3M-1.9 38.9l-1.0 7.0M71.0 -12.8l2.5 -2.5M-46.4 39.6l2.5 7.9M70.2 25.8l2.0 4.5M70.3 -18.4l6.9 -3.4M-72.2 -15.1l-5.0 -1.3M14.2 41.0l-0.4 3.8M10.2 -38.0l-1.5 -8.5M4.2 41.8l1.4 9.9M-49.8 -41.8l-6.8 -5.0M0.2 -42.2l1.8 -5.3M7.0 -38.2l-1.8 -8.3M63.6 33.6l3.1 4.0M56.3 -41.1l5.2 -5.2M15.3 -37.4l0.3 -4.2M-70.9 18.2l-5.5 7.1M-57.8 36.5l-5.1 4.7M-54.5 38.6l-5.3 7.2M74.1 -8.2l3.5 -6.6M16.4 -39.4l1.3 -7.3"/><path stroke="#8a847e" stroke-width="0.75" d="M-54.0 39.0l-2.8 2.7M72.8 14.1l2.6 3.8M45.2 38.8l2.6 6.8M64.1 31.0l6.3 -0.7M44.8 -39.0l-0.2 -7.0M66.7 -30.8l6.5 -6.1M12.5 -40.5l0.7 -7.6M12.2 -39.6l0.7 -2.9M67.9 27.4l2.1 2.8M-2.2 40.1l-1.1 5.4M-26.3 -40.1l-3.0 -9.5M34.9 -38.1l0.9 -9.9M8.9 37.5l1.5 4.3M-68.8 21.6l-2.9 2.0M-6.3 -41.4l0.1 -9.2M-36.4 -41.3l0.8 -5.0M12.3 -40.9l-0.6 -4.4M8.3 39.5l-0.2 4.0M53.2 -40.2l-1.3 -9.7M-52.4 -38.9l-4.2 -3.3M-72.9 7.6l-5.5 1.7M-61.5 32.9l-3.3 4.4M35.1 38.7l-1.9 9.4M51.7 41.6l5.1 4.8M10.0 -39.0l-0.8 -7.9M-65.5 -27.9l-3.3 -3.5M59.7 37.4l3.4 4.9M31.2 41.6l1.9 5.4M37.8 -42.5l-1.7 -7.2M15.0 -41.4l0.7 -6.8M-31.6 40.2l-0.6 4.1M-55.2 -37.2l-4.2 -4.6M19.2 40.5l-1.3 7.3M39.4 38.4l0.5 4.8M-70.8 -12.5l-3.8 -0.9M26.8 -37.6l1.1 -7.1M-49.6 -39.1l-0.5 -6.8M26.4 41.2l0.9 5.3M69.7 -26.0l6.5 -6.8M-67.8 -24.0l-6.1 -4.8M-6.7 -38.7l0.4 -7.8M-72.8 -2.4l-6.7 -0.9M-64.8 28.6l-3.5 2.4M-21.9 -38.4l4.0 -8.0M-69.4 -19.1l-7.0 -4.6M22.5 38.1l-1.0 3.8M-15.9 37.4l-1.1 6.8M4.2 -37.9l1.2 -5.5M-47.2 -41.5l-4.6 -2.4M-12.5 39.8l-1.2 9.9M36.6 40.2l1.5 9.8M-56.8 39.0l1.3 9.5M57.4 -37.5l-0.0 -3.3M-11.5 39.4l0.6 4.6M33.2 -38.8l-0.2 -3.2M-69.7 22.5l-3.0 1.1M-63.2 30.7l-3.7 4.7"/><path stroke="#c0bbb6" stroke-width="0.5" d="M18.0 37.8l1.5 4.5M-72.2 16.6l-3.4 0.1M-5.4 39.4l-0.0 6.5M46.6 -41.9l-1.3 -5.2M56.3 -41.3l3.6 -1.0M8.4 -41.9l0.7 -3.9M-13.5 38.7l-0.3 3.2M-22.1 -39.7l-0.6 -8.7M35.0 38.4l-3.0 6.5M13.4 38.8l0.2 9.5M-22.8 -40.4l1.3 -5.1M21.4 38.6l0.4 4.3M-52.9 40.4l-1.5 9.4M-73.5 8.0l-7.3 -0.9M-73.1 -9.1l-8.2 1.5M8.0 41.7l-0.2 4.1M-72.0 -18.4l-4.1 -6.3M-35.9 -40.5l0.4 -7.4M1.4 38.5l0.4 4.8M-24.6 39.8l1.3 7.8M-15.8 37.2l0.7 4.7M3.8 38.5l1.4 3.7M10.2 -41.9l-0.1 -6.0M-14.0 -39.2l0.3 -3.8M-0.2 38.7l0.3 3.9M-22.3 -39.7l-3.1 -9.3M70.9 24.3l4.6 4.3M-22.8 41.0l-2.2 8.9M-9.7 41.6l-0.6 3.7"/><path stroke="#6f6a65" stroke-width="0.5" d="M-8.7 41.5l-1.5 4.9M-70.4 -11.2l-7.0 -0.9M7.4 39.9l0.4 5.0M-31.2 -38.9l0.1 -8.1M-15.5 -38.1l-3.2 -7.9M47.7 -42.1l0.3 -4.4M-20.6 -39.8l-0.8 -3.5M64.7 32.5l5.9 4.9M-22.5 -40.6l-0.1 -3.3M-43.5 -39.4l-1.0 -6.4M-3.7 39.1l1.1 8.2M-68.7 -23.5l-2.4 -2.2M-14.3 -41.3l-1.9 -4.9M-61.8 30.1l-6.2 7.7M29.8 42.3l-0.3 6.9M-73.3 2.9l-7.7 2.0M55.8 37.6l-4.6 7.6M36.0 -40.8l0.5 -3.1M-49.7 40.4l1.6 6.4M16.9 41.7l-2.3 8.5M-38.2 38.0l-1.7 9.5M55.5 -41.0l6.4 -4.6M-59.7 -35.3l-2.2 -2.2M-56.5 39.0l-5.1 4.6M71.8 -12.6l2.1 -4.3M34.3 42.4l-0.8 6.7M-73.0 -2.6l-5.8 -1.5M54.2 39.1l1.5 3.7"/><path stroke="#9d9893" stroke-width="0.75" d="M-55.7 -38.7l-2.8 -3.8M-73.5 -0.2l-5.5 -1.4M-47.8 41.1l0.1 3.9M-10.9 -40.6l-0.1 -3.8M-13.9 40.0l1.4 5.6M-26.9 -38.5l0.7 -5.6M71.5 -17.1l5.6 -6.5M7.5 -40.9l-1.5 -7.0M-57.0 35.7l-5.2 7.3M-1.1 41.7l-0.5 3.9M-60.9 -34.1l-5.4 -2.9M-42.2 -38.4l1.3 -7.7M4.8 41.1l0.7 8.8M3.3 42.2l-1.9 4.6M-74.9 -0.3l-7.9 -1.0M43.5 -39.7l-1.7 -9.3M-31.8 -42.2l-0.5 -7.8M-36.3 41.4l1.9 4.8M14.8 -41.7l-0.6 -3.8M-61.5 35.1l-3.8 3.8M-55.3 -36.2l-5.3 -4.1M-68.9 24.8l-8.3 -0.5M-15.0 42.3l2.0 6.8M-3.6 -38.2l0.2 -8.0M35.0 39.4l-2.0 9.0M36.5 38.8l-0.8 3.4M-8.2 38.5l-0.9 5.9M-64.0 30.0l-8.1 2.8M50.1 42.5l0.8 3.3M-13.5 39.5l-1.0 4.9M49.1 40.2l0.9 3.3M-4.2 40.3l2.9 6.8M12.1 38.5l0.9 2.9M-72.9 -8.4l-9.6 -0.4M65.8 -32.4l5.4 -6.1M23.0 41.9l-0.3 6.9M54.6 -39.8l3.3 -3.7M51.7 -40.4l0.3 -4.2M22.1 38.9l-0.1 3.7M-3.0 -39.5l0.3 -3.6M63.9 -31.5l6.7 -7.3M-65.5 29.4l-4.5 3.4M20.5 -40.3l-1.6 -7.8M-72.0 7.6l-3.8 0.4M19.1 40.5l2.4 7.4M11.5 -38.2l-0.0 -3.1M72.1 8.2l1.6 6.2M59.1 -40.1l2.6 -3.9M-13.9 -40.2l0.1 -4.8M-74.3 -5.4l-4.7 1.1M-24.6 37.6l1.2 5.1M-70.0 16.4l-9.3 -3.1"/><path stroke="#b0aba6" stroke-width="1.0" d="M31.8 -41.1l1.9 -5.2M-44.7 41.0l0.1 4.9M37.5 41.0l-0.3 5.9M15.0 40.0l2.0 6.7M0.7 -39.1l0.7 -3.4M-48.9 40.1l-3.7 6.6M42.4 41.6l0.3 7.5M-64.5 -27.4l-1.9 -5.0M-56.3 -36.7l-3.3 -2.9M1.3 -38.4l0.4 -3.0M69.6 19.6l5.6 5.0M66.2 31.3l3.0 0.5M-72.0 14.1l-6.3 -1.6M29.4 42.1l1.9 4.2M-51.1 37.3l1.4 2.7M-69.6 16.2l-4.2 3.8M-7.0 40.9l0.5 6.2M69.3 -25.7l4.2 -2.7M-62.8 -32.2l-7.7 -4.4M65.0 -34.0l6.3 -6.0M-40.9 -40.3l0.4 -5.5M12.7 -40.2l0.5 -4.7M73.2 13.8l3.9 4.3M-3.1 -41.2l0.5 -3.1M-20.6 40.8l-2.5 8.4M11.4 40.7l1.5 7.4M-33.6 38.1l-0.2 5.5M-2.9 42.1l-0.8 6.0M-73.1 -6.1l-5.0 -0.6M53.1 37.8l-0.5 4.8M-6.8 -42.1l-1.7 -8.5M36.0 -38.6l0.0 -6.2M-70.1 2.2l-8.7 3.1M43.7 -41.2l0.2 -4.3M-52.7 38.3l-7.9 6.1M-13.6 41.9l0.2 4.5M-68.9 13.5l-5.2 -0.9M24.7 -41.8l-1.1 -9.4M-69.7 18.2l-1.7 3.0M0.1 -41.6l0.7 -3.8"/><path stroke="#9d9893" stroke-width="0.5" d="M71.3 12.8l2.5 3.3M39.0 -39.3l1.0 -4.5M7.9 42.1l0.4 5.5M-74.2 2.1l-5.9 0.6M59.6 -38.3l5.7 -5.1M47.4 -41.7l-0.2 -3.8M11.4 -41.2l0.4 -5.3M26.8 40.1l-0.2 7.8M2.9 -38.8l-0.1 -3.4M-56.8 -34.9l1.4 -7.9M67.5 29.3l6.6 4.2M74.7 9.1l5.0 6.2M16.5 41.5l0.3 9.4M-7.1 39.9l-1.4 6.2M33.0 -41.1l1.9 -8.1M-15.7 -42.0l-3.0 -9.3M17.7 -41.3l-0.3 -7.5M72.7 -19.2l4.9 -2.9M70.4 -20.9l5.9 -6.0M56.6 -42.3l5.3 -7.6M-72.4 13.3l-7.8 -2.2M-70.7 -18.8l-4.5 -2.5M52.7 40.1l1.2 9.2M-21.5 -41.2l-2.4 -8.5M-6.6 40.7l1.5 8.2M56.2 -40.8l4.7 -4.6M9.0 -39.1l1.6 -6.3M33.0 -39.0l0.5 -4.6M63.5 -30.7l9.6 -1.9M-31.6 -38.4l0.0 -3.2M-51.2 39.9l0.4 7.1M-72.4 -0.6l-4.9 -0.1M-3.8 37.8l-1.2 9.3M-55.5 -39.5l-4.8 -4.3M-11.8 -39.7l0.6 -5.4M-1.1 -40.3l0.3 -9.3M54.1 -40.2l3.7 -2.9M-59.2 34.2l-2.3 1.9M-62.3 -33.5l-3.9 -5.5M43.8 39.6l-0.3 4.8M-62.7 30.1l-5.2 6.3M57.3 -38.3l-0.2 -8.5"/><path stroke="#8a847e" stroke-width="0.5" d="M-60.8 -31.0l-7.2 -6.0M14.8 -38.0l-0.6 -3.6M2.5 -40.4l1.2 -3.6M51.6 -42.5l0.4 -8.2M62.4 -32.8l2.9 -2.9M-1.3 -38.6l-0.6 -5.3M31.0 39.3l1.1 5.0M66.2 31.1l4.3 2.8M-36.3 39.2l-0.5 8.9M29.5 40.3l0.1 3.1M70.3 -21.0l4.3 -4.7M61.0 36.6l4.6 4.7M13.9 -41.0l-1.1 -2.9M17.9 41.6l-0.8 6.3M34.9 -38.4l-1.4 -4.3M68.2 26.3l2.9 2.4M67.5 30.3l7.6 -1.1M-48.1 37.5l1.3 7.1M-27.6 42.6l-1.9 9.5M-45.0 -41.5l-0.3 -7.8M59.6 38.6l7.2 6.6M-17.3 -37.8l0.8 -5.8M-19.0 -42.1l-3.8 -7.4M8.4 -39.3l-0.2 -6.3M36.4 -38.2l-1.5 -4.2M-49.3 -42.1l-3.3 -8.3M66.0 29.4l4.1 -0.4M-69.4 17.3l-3.2 0.3M-73.5 14.1l-5.0 -1.9M70.9 -15.8l4.0 -2.7"/><path stroke="#8a847e" stroke-width="1.0" d="M63.8 -32.0l4.5 -6.8M-11.2 -38.6l-2.1 -9.7M-57.9 33.3l-3.4 2.2M45.3 38.4l-0.2 6.9M34.7 41.3l-1.2 5.0M69.1 -22.5l4.0 -2.9M-72.5 -5.4l-5.8 1.2M-6.0 -42.3l0.8 -5.0M-67.4 25.1l-7.7 1.6M40.5 -41.5l0.1 -4.1M47.9 38.3l-4.1 7.6M-2.4 -41.7l-0.9 -3.7M70.0 19.8l5.5 2.3M-43.7 -37.9l0.8 -3.9M59.5 37.1l3.2 2.5M42.4 -39.7l1.0 -8.6M-54.7 -36.5l-2.9 -4.2M18.2 -39.3l0.5 -4.4M-7.1 -41.4l-0.7 -3.8M10.3 -39.9l1.3 -5.5M-71.4 -7.5l-3.4 0.9M8.3 39.4l0.6 6.6M-5.8 -40.1l-1.2 -3.7M-53.3 37.6l-3.2 1.9M-65.2 28.0l-4.0 2.8M-68.9 13.3l-5.6 0.5M72.1 -18.7l6.6 -7.3M43.9 40.8l0.4 3.1M28.2 -41.9l-0.9 -7.2M-18.5 -42.1l-0.3 -4.1M-62.7 -32.5l-1.8 -3.1"/></g><g stroke-linecap="round" fill="none"><path stroke="#d8d4d0" stroke-width="0.5" d="M-52.0 0.0l-35.4 10.4M-52.0 0.0l-17.5 -3.7M-52.0 0.0l-17.9 31.7M-52.0 0.0l-20.5 24.3M-52.0 0.0l2.9 42.0M-52.0 0.0l-17.5 8.5M-52.0 0.0l-1.8 39.0"/><path stroke="#d8d4d0" stroke-width="1.0" d="M-52.0 0.0l-24.6 3.1M-52.0 0.0l-24.9 25.9M-52.0 0.0l-29.2 -18.0M-52.0 0.0l-17.4 -6.5M-52.0 0.0l-19.4 -19.5M-52.0 0.0l-4.4 35.3M-52.0 0.0l-3.3 -39.8M-52.0 0.0l-15.7 -14.7M-52.0 0.0l1.2 36.2M-52.0 0.0l-23.1 -36.0M-52.0 0.0l-1.7 26.6M-52.0 0.0l-32.3 1.5M-52.0 0.0l-17.6 15.9"/><path stroke="#d8d4d0" stroke-width="0.75" d="M-52.0 0.0l-14.1 -32.5M-52.0 0.0l-30.0 -9.7M-52.0 0.0l-28.1 -27.3M-52.0 0.0l-19.8 -0.5M-52.0 0.0l-21.4 21.4M-52.0 0.0l-9.3 20.9M-52.0 0.0l-21.6 32.9M-52.0 0.0l1.1 -37.0M-52.0 0.0l-14.9 36.8M-52.0 0.0l-26.6 11.6M-52.0 0.0l-32.2 19.1M-52.0 0.0l-8.6 -46.1M-52.0 0.0l-19.7 8.0M-52.0 0.0l-10.2 -36.1M-52.0 0.0l-18.6 -28.5M-52.0 0.0l-9.7 20.3M-52.0 0.0l-29.5 1.0M-52.0 0.0l-25.1 -30.9"/><path stroke="#8f8a85" stroke-width="1.0" d="M-52.0 0.0l-20.1 2.0M-52.0 0.0l-19.2 -1.6M-52.0 0.0l4.7 40.0M-52.0 0.0l-16.5 -9.2M-52.0 0.0l4.2 -36.8M-52.0 0.0l-18.7 -3.6M-52.0 0.0l-35.3 -18.5M-52.0 0.0l-28.9 -16.4M-52.0 0.0l-2.1 -48.6M-52.0 0.0l0.0 -32.3M-52.0 0.0l-14.3 24.9M-52.0 0.0l-18.6 18.0M-52.0 0.0l-4.1 -25.4"/><path stroke="#c4bfba" stroke-width="0.75" d="M-52.0 0.0l-2.6 -23.0M-52.0 0.0l-37.8 -2.7M-52.0 0.0l-37.1 8.9M-52.0 0.0l-7.4 28.9M-52.0 0.0l-14.9 17.7M-52.0 0.0l-20.5 -37.9M-52.0 0.0l-22.7 -12.4M-52.0 0.0l-0.2 37.4M-52.0 0.0l-24.5 -37.5M-52.0 0.0l-31.2 12.4M-52.0 0.0l-0.8 50.0M-52.0 0.0l2.2 36.5M-52.0 0.0l-28.7 -14.1M-52.0 0.0l-10.7 37.8M-52.0 0.0l-18.3 -15.9M-52.0 0.0l-5.8 -32.9M-52.0 0.0l-5.9 -23.9M-52.0 0.0l-16.6 -38.7M-52.0 0.0l-7.4 28.7M-52.0 0.0l-18.0 6.9"/><path stroke="#c4bfba" stroke-width="1.0" d="M-52.0 0.0l-0.3 48.5M-52.0 0.0l2.5 41.8M-52.0 0.0l-20.8 -7.6M-52.0 0.0l-33.5 17.4M-52.0 0.0l-31.2 -5.3M-52.0 0.0l-17.8 -9.7M-52.0 0.0l-20.9 -7.7"/><path stroke="#e8e4e0" stroke-width="0.75" d="M-52.0 0.0l-0.3 42.6M-52.0 0.0l-26.2 -8.5M-52.0 0.0l-9.5 -41.4M-52.0 0.0l-28.5 24.9M-52.0 0.0l-7.9 30.4M-52.0 0.0l-18.1 -28.9M-52.0 0.0l-21.5 -23.7M-52.0 0.0l-31.9 -1.6M-52.0 0.0l-18.7 -23.7M-52.0 0.0l0.3 -26.8M-52.0 0.0l-6.7 -32.6M-52.0 0.0l-23.8 -28.5M-52.0 0.0l-18.6 24.5M-52.0 0.0l-25.7 -23.1M-52.0 0.0l-14.8 -24.7M-52.0 0.0l-15.8 12.6M-52.0 0.0l-21.3 -34.0M-52.0 0.0l-16.2 44.2M-52.0 0.0l-11.5 17.6"/><path stroke="#8f8a85" stroke-width="0.75" d="M-52.0 0.0l-32.1 13.6M-52.0 0.0l-24.6 11.2M-52.0 0.0l-20.2 21.9M-52.0 0.0l-18.1 -8.2M-52.0 0.0l-10.4 29.5M-52.0 0.0l-1.6 47.8M-52.0 0.0l-14.8 -44.8M-52.0 0.0l-17.7 -3.1M-52.0 0.0l-22.7 34.0M-52.0 0.0l1.8 -50.5M-52.0 0.0l-34.8 -3.5M-52.0 0.0l-6.4 44.7M-52.0 0.0l-16.2 31.2M-52.0 0.0l-11.4 30.2"/><path stroke="#e8e4e0" stroke-width="0.5" d="M-52.0 0.0l-7.7 -42.9M-52.0 0.0l-28.0 7.8M-52.0 0.0l-32.5 21.5M-52.0 0.0l-21.8 -23.4M-52.0 0.0l-2.6 -27.7M-52.0 0.0l-24.1 -14.7M-52.0 0.0l-21.9 20.0M-52.0 0.0l-12.0 25.3M-52.0 0.0l-27.1 23.4"/><path stroke="#8f8a85" stroke-width="0.5" d="M-52.0 0.0l-10.0 -46.3M-52.0 0.0l3.9 39.1M-52.0 0.0l-23.2 -15.6M-52.0 0.0l-14.9 41.7M-52.0 0.0l-13.7 45.1M-52.0 0.0l-19.1 -40.8M-52.0 0.0l-10.6 24.9M-52.0 0.0l-15.5 -22.0"/><path stroke="#e8e4e0" stroke-width="1.0" d="M-52.0 0.0l1.7 -35.1M-52.0 0.0l-27.2 -25.4M-52.0 0.0l-0.8 33.0M-52.0 0.0l0.7 -29.0M-52.0 0.0l-36.5 5.0M-52.0 0.0l-11.7 41.2M-52.0 0.0l2.0 25.5M-52.0 0.0l-15.2 24.4M-52.0 0.0l-15.8 -17.8"/><path stroke="#c4bfba" stroke-width="0.5" d="M-52.0 0.0l-21.9 -8.3M-52.0 0.0l-32.8 15.9M-52.0 0.0l-12.1 37.5"/></g><ellipse cx="-50.0" cy="0" rx="4.5" ry="3" fill="#e6e2de"/></g><g transform="translate(1106,232) rotate(-47)"><defs><linearGradient id="hbr1" x1="0" y1="0" x2="0" y2="1"><stop offset="0" stop-color="#6a6a6a"/><stop offset="0.3" stop-color="#cfcfcf"/><stop offset="0.6" stop-color="#8a8a8a"/><stop offset="1" stop-color="#4a4a4a"/></linearGradient><linearGradient id="bbr1" x1="0" y1="0" x2="0" y2="1"><stop offset="0" stop-color="#282828"/><stop offset="0.5" stop-color="#333333"/><stop offset="1" stop-color="#424242"/></linearGradient></defs><rect x="56.8" y="-7.5" width="61.2" height="15" rx="4.5" fill="url(#hbr1)"/><ellipse cx="115.0" cy="0" rx="3.5" ry="7.0" fill="#c8c8c8"/><path d="M-56.0,-32.0 L52.0,-32.0 A12.0,32.0 0 0 1 52.0,32.0 L-56.0,32.0 A8.0,32.0 0 0 1 -56.0,-32.0 Z" fill="url(#bbr1)"/><g stroke-linecap="round" fill="none"><path stroke="#2a2a2a" stroke-width="0.75" d="M-49.7 25.0l4.2 4.3M-25.7 0.2l0.1 5.7M5.3 -11.6l-0.8 3.6M18.4 16.0l-2.8 3.2M-32.4 1.9l-1.8 4.8M29.7 15.7l-1.5 3.3M27.6 17.8l-2.5 4.8M30.7 22.6l2.9 3.0M5.9 5.2l0.7 6.1M-44.6 -17.3l-1.3 4.5M13.5 -18.6l-3.8 6.5M10.4 16.2l-2.2 5.0M-38.2 -14.2l0.6 4.4M19.4 -8.7l-2.2 7.4M-17.7 10.9l-0.3 8.6M5.7 5.1l-3.4 1.9M-5.0 -15.1l-1.9 6.4M-10.5 -4.2l-1.2 4.0M11.3 -1.1l1.5 7.9M-43.3 13.3l0.1 8.6M11.2 -11.6l-0.8 5.9M35.0 20.3l-2.0 4.7M34.9 18.0l2.6 4.0M-45.9 -15.1l2.0 4.2M14.8 12.6l-1.0 5.0M19.0 -30.3l0.1 6.1M-43.5 29.6l-0.3 4.8M-16.3 11.1l-2.0 5.3M-43.2 -3.7l4.1 0.5M-47.4 -9.0l0.1 5.9M8.0 9.8l3.5 5.5M-52.8 20.9l4.3 2.7M-48.6 -9.3l-0.5 7.5M-41.4 -25.6l-0.2 7.7M-2.9 -20.2l-7.0 3.1M44.6 6.1l-0.3 3.5M-30.0 -17.4l1.6 8.1"/><path stroke="#1e1e1e" stroke-width="1.0" d="M-16.4 -20.9l-1.8 6.4M61.5 -9.7l1.4 8.3M-9.2 -24.6l-2.3 3.9M26.2 25.1l1.1 6.5M-55.7 -17.6l-2.3 7.1M-16.5 4.3l-0.6 6.4M27.6 -3.6l0.0 4.2M-29.4 3.4l1.5 5.8M12.0 20.7l-1.7 5.3M6.4 2.7l-1.0 8.5M11.4 -28.5l6.1 4.0M-10.8 -15.7l-0.5 7.5M22.7 21.6l0.7 3.0M-17.7 -6.8l0.9 3.5M16.6 -28.4l-3.4 1.4M38.0 -27.4l3.8 3.8M-30.1 30.8l0.3 7.3M15.0 28.2l-5.7 1.1M-52.6 5.3l-1.3 5.0M19.2 -19.1l0.8 7.3M54.8 -19.2l4.8 7.4M-3.3 -11.8l7.3 3.6M27.8 -13.9l-1.0 7.0M52.7 15.8l7.1 4.6M-26.7 -16.8l-1.2 7.7M-58.9 6.6l1.4 3.3M-36.1 -13.9l2.1 4.9M55.8 3.0l-3.2 6.9M-0.2 -11.3l4.0 0.5M-10.6 24.5l0.5 4.3M54.2 21.5l-1.4 5.1M5.2 -17.3l-4.3 5.6M55.5 -20.8l0.9 4.2M-32.1 -10.8l-0.8 3.1M-43.5 -1.5l-0.6 3.1"/><path stroke="#666" stroke-width="0.5" d="M-31.8 21.7l0.8 3.5M-11.4 30.0l6.4 2.1M33.1 -6.9l3.6 6.8M48.8 -13.7l-3.8 4.0M59.6 -7.9l-2.5 4.8M5.8 22.9l-1.2 7.2M5.7 -13.9l-0.4 3.5M39.7 -0.5l5.3 2.8M16.7 -13.2l2.6 7.1M24.9 -0.4l0.7 5.6M-40.3 -5.2l2.9 5.3M54.2 -3.9l3.0 3.4M31.6 -13.4l-1.4 8.0M45.1 -15.0l-1.7 4.9M16.8 26.0l-0.1 5.1M60.5 -17.2l0.7 7.2M-26.6 17.9l-1.9 6.0M3.3 4.6l-1.5 4.3M-26.0 27.2l7.2 1.1M-25.3 16.3l1.8 7.3M-18.4 -13.3l-0.2 5.2M-36.5 -15.1l-1.4 4.1M-8.2 0.8l-1.2 7.7M35.8 -26.4l0.7 3.9M28.9 10.3l-0.5 8.1M38.1 24.5l-2.3 4.8M43.7 -27.7l-1.5 8.8M-16.3 -14.4l-1.5 8.5M9.0 -8.8l-1.2 3.4"/><path stroke="#2a2a2a" stroke-width="1.0" d="M59.7 -8.6l0.3 4.3M59.6 0.9l-0.4 8.7M-54.9 -8.7l-0.4 8.5M-13.5 8.1l-2.5 5.5M-49.1 19.9l-3.5 6.3M33.4 10.1l1.6 6.6M26.2 -29.1l3.9 4.5M-25.5 -26.9l3.9 5.8M46.4 0.2l4.9 7.0M57.8 24.9l3.0 4.3M1.9 17.2l3.1 5.0M4.7 -11.0l-3.6 0.3M23.5 28.2l5.6 3.9M-37.0 -18.1l2.3 3.8M-30.2 -6.1l-2.6 4.2M-10.7 -16.4l-0.6 6.3M-18.6 -0.9l-3.1 5.7M-6.2 27.0l2.7 4.6M-37.0 -13.6l-6.6 5.2M33.6 -16.0l0.4 5.4M-1.4 -3.9l2.0 4.5M-22.9 -3.9l-1.7 7.1M12.2 -29.4l1.5 8.0M-41.4 13.7l0.0 3.0M0.3 -26.1l0.8 3.1M-19.2 10.3l-1.8 6.1M50.2 -5.3l1.2 5.2M-48.3 -13.1l0.8 5.4M2.8 2.4l-1.1 3.1M11.9 -1.8l-1.7 7.7M48.7 -18.1l3.7 4.0"/><path stroke="#666" stroke-width="1.0" d="M7.2 -11.1l-0.3 7.6M17.8 14.0l0.6 7.0M48.4 19.4l3.1 4.3M47.1 19.3l-1.7 4.8M27.1 29.5l1.4 3.0M40.5 25.7l-0.4 5.3M51.2 3.1l0.0 6.9M56.4 -12.6l-4.6 3.7M41.0 -26.3l-2.6 5.9M55.3 -22.7l0.1 3.6M19.3 2.9l-0.4 9.0M17.1 -14.4l5.7 1.9M4.0 -10.0l-2.2 8.3M40.7 11.0l0.7 5.2M-15.8 30.5l5.3 5.0M18.8 12.4l-0.1 8.1M32.4 29.2l-1.3 3.8M16.0 9.3l0.7 3.8M-39.3 -21.6l-0.7 6.3M33.5 -27.7l-3.6 2.4M-39.4 -18.2l2.8 4.6M55.6 -19.7l1.2 7.8M30.5 23.8l2.2 7.7M50.5 -21.9l-0.5 5.2M15.4 25.6l-0.7 4.9M-18.8 6.9l4.0 7.1M25.1 28.7l4.9 0.0M-16.0 2.5l-0.2 3.6M18.3 14.5l4.4 7.8M61.6 -3.0l-0.4 4.3"/><path stroke="#555" stroke-width="0.75" d="M-22.8 15.9l-5.4 1.1M12.7 -7.7l6.4 4.2M-20.8 -21.2l-3.8 4.1M-40.7 -12.4l-3.9 3.2M7.0 -28.5l-4.5 6.2M15.7 20.3l-2.0 6.1M-58.3 0.8l6.7 3.6M29.9 20.3l2.0 4.9M14.4 24.1l-0.8 4.6M-13.3 13.6l-1.7 3.9M29.0 22.7l-0.6 6.6M17.1 -24.1l1.5 8.3M25.4 24.9l3.3 8.2M-21.7 0.5l0.8 4.4M9.7 10.2l-3.4 2.6M11.0 -3.4l1.4 7.5M-13.3 -5.4l-1.0 4.1M-2.8 -25.3l-2.8 6.6M14.8 -25.3l0.5 4.6M-28.2 -24.8l-4.7 2.7M35.0 -27.3l1.6 6.6M-47.0 1.8l0.1 7.9M41.2 3.9l0.3 7.2M-58.4 5.7l2.3 3.8M-49.0 -21.4l2.4 7.1M29.6 22.2l-1.4 6.8M3.6 -2.8l4.1 1.0M-57.2 8.1l-5.3 4.4M38.5 -30.1l0.5 5.6M-45.6 13.8l-5.2 6.8M-45.8 -21.0l1.1 3.7M1.4 -13.6l2.4 7.7M-39.9 -29.9l0.1 6.2M-45.6 2.7l5.1 2.5M-60.6 1.0l0.9 4.7M-13.8 18.1l0.6 3.0M-40.6 -16.5l0.2 3.6M29.8 19.8l1.8 5.0M25.7 -26.6l0.7 3.2"/><path stroke="#1e1e1e" stroke-width="0.75" d="M11.9 27.5l-0.1 6.5M-21.2 25.0l0.1 8.5M-24.2 -1.9l1.1 4.0M-10.0 17.1l0.1 4.3M8.3 25.2l-0.9 5.7M38.8 6.2l1.9 3.5M34.4 -29.5l1.2 8.7M-24.9 25.0l2.9 4.1M-58.2 3.7l-0.7 3.4M-22.3 8.8l-5.2 7.1M-13.6 27.4l7.5 3.9M-1.8 -6.9l-5.2 3.9M-13.7 16.1l6.4 1.8M-56.1 -7.9l1.0 8.4M-12.0 -26.6l3.4 5.4M-2.7 -27.5l-2.5 3.5M29.8 -8.7l-2.5 4.4M18.8 -18.6l0.3 4.9M-25.3 27.3l4.5 6.1M11.6 0.9l-1.6 7.2M-41.2 -10.1l-7.6 0.4M14.6 20.9l0.9 5.3M-33.5 3.7l-1.6 7.4M-19.5 20.5l-0.0 4.8M-8.6 -11.4l0.3 8.6M45.2 -0.8l1.8 3.6M-60.9 -9.6l0.9 3.7M23.1 -13.6l-0.2 5.0M27.1 30.0l-1.2 5.9M-8.5 13.5l0.9 4.7M-44.4 -0.7l0.2 4.4M-28.5 -10.9l-4.1 2.2M58.2 -19.5l1.5 8.2M-24.4 8.6l0.6 5.5M47.6 7.7l-3.5 5.5M-39.6 15.0l0.3 5.3M41.5 -9.7l0.2 3.1M-6.2 18.0l-1.0 8.8M-13.8 -26.1l-7.7 0.9M-41.5 29.2l-3.2 6.3M31.1 4.3l5.3 3.2"/><path stroke="#666" stroke-width="0.75" d="M22.3 -28.2l-4.1 6.9M9.5 -21.6l1.4 5.7M34.8 -18.0l3.0 6.0M-45.2 -17.6l-3.3 6.1M-45.3 2.8l0.9 4.4M-38.7 8.5l-1.0 7.1M-19.7 -26.0l3.2 3.2M-35.2 25.3l-5.1 1.6M16.6 -0.9l3.2 7.8M11.7 -17.9l-1.4 8.7M-27.7 12.5l-1.6 3.1M-12.1 13.3l1.5 5.6M-21.0 5.4l-1.0 4.8M-60.1 -12.5l3.2 7.7M25.1 -19.7l3.1 5.6M-26.5 8.3l-0.8 8.9M36.7 13.0l-1.7 3.2M56.2 -25.8l6.3 5.1M26.8 22.5l-1.7 6.0M-22.3 -25.7l-1.1 5.0M28.5 -11.0l1.0 3.4M45.6 -7.5l-6.5 4.8M-47.8 -28.2l5.4 7.2M17.8 23.0l0.3 8.8M16.1 -30.6l-0.9 3.4M-27.0 26.9l-2.9 1.8M-27.7 1.2l-0.8 3.1M-5.7 20.3l4.7 4.8M-38.0 7.6l-0.2 8.8M-59.6 16.7l3.0 0.6M-43.2 -7.8l-1.6 2.8M3.7 26.7l-4.9 5.8M37.1 -4.6l1.5 4.8M32.0 -9.6l3.6 7.3M-15.7 19.7l-2.3 6.5M-60.6 22.7l5.6 0.1M48.9 14.1l-2.9 7.9M6.1 -6.5l-0.4 5.8M22.1 26.8l1.3 5.9"/><path stroke="#555" stroke-width="1.0" d="M39.0 -12.2l-1.0 6.2M62.5 -3.9l-1.3 5.4M18.9 -19.7l-0.1 7.1M62.6 5.1l2.3 3.9M1.4 17.6l1.0 3.0M-13.6 -1.2l1.9 4.1M-30.8 -27.5l-0.4 3.1M-9.2 6.5l0.3 7.8M13.3 26.3l1.6 6.9M25.1 -23.1l-2.0 2.6M-11.3 27.9l3.7 4.7M38.5 4.9l2.5 5.3M-11.6 -10.2l3.7 6.8M-12.9 -6.0l2.6 5.7M-8.8 6.2l-0.1 5.4M57.0 3.2l-5.0 1.4M-50.5 13.7l-1.5 4.1M-3.7 -30.4l0.8 3.5M-58.6 -22.6l-2.7 8.5M-61.6 -3.3l2.3 4.6M-52.0 2.1l5.0 3.7M61.7 -6.2l-0.1 3.9M47.7 25.6l2.1 4.0"/><path stroke="#1e1e1e" stroke-width="0.5" d="M40.6 21.4l5.6 5.8M23.2 -29.4l0.3 8.3M45.7 -23.7l-1.9 8.6M-30.9 17.9l1.4 2.7M-14.8 -21.9l0.5 3.4M-60.1 23.7l-2.2 6.4M-40.8 -4.1l2.6 8.3M19.1 18.8l0.4 4.0M-55.9 -21.6l-0.4 4.1M-44.3 -19.1l-1.1 5.8M-8.7 1.2l-1.8 4.1M13.7 -18.0l0.9 3.1M-25.7 -20.2l3.3 4.6M48.3 -4.2l0.8 3.6"/><path stroke="#2a2a2a" stroke-width="0.5" d="M-28.4 26.5l-3.1 8.2M-27.8 7.0l0.4 8.5M-7.2 -5.0l0.4 5.6M41.3 10.2l-2.7 7.8M55.2 -2.1l-1.4 8.3M-45.7 4.1l-4.0 5.5M-28.2 3.5l-1.0 3.4M-29.5 10.6l-0.0 3.1M25.2 7.6l0.5 7.1M-18.3 26.5l-0.4 7.1M44.0 -27.4l0.4 8.0M-59.5 26.7l1.7 4.2"/><path stroke="#555" stroke-width="0.5" d="M43.7 -13.0l3.4 3.4M-25.0 29.0l-7.7 2.3M-22.2 8.0l-4.1 7.8M33.1 15.9l6.2 6.3M-15.2 21.9l-0.5 3.8M7.5 21.9l2.3 5.2M55.4 11.7l-1.7 4.1M-1.6 -7.6l-4.3 2.7M13.2 1.0l0.2 8.3M9.1 26.8l5.1 2.6M33.2 14.1l-1.2 5.8M15.1 -19.8l4.5 3.6M26.0 23.3l5.4 3.1M5.7 9.9l-8.6 0.7M-55.8 -10.6l1.0 3.7M11.9 11.3l1.2 8.7"/></g><g stroke="#7a7a7a" stroke-width="1.5" fill="none" opacity="0.75"><path d="M-66.6,-32.0 Q-22.0,0 -66.6,32.0"/><path d="M-53.5,-32.0 Q-8.9,0 -53.5,32.0"/><path d="M-40.4,-32.0 Q4.2,0 -40.4,32.0"/><path d="M-27.3,-32.0 Q17.3,0 -27.3,32.0"/><path d="M-14.2,-32.0 Q30.4,0 -14.2,32.0"/><path d="M-1.1,-32.0 Q43.5,0 -1.1,32.0"/><path d="M12.0,-32.0 Q56.6,0 12.0,32.0"/><path d="M25.1,-32.0 Q69.7,0 25.1,32.0"/><path d="M38.2,-32.0 Q82.8,0 38.2,32.0"/></g><g stroke-linecap="round" fill="none"><path stroke="#444" stroke-width="0.75" d="M-53.7 29.3l-6.9 3.5M-40.2 32.2l2.7 10.2M-56.0 -28.2l-6.5 -7.6M36.3 29.7l-0.0 10.7M37.6 -30.8l-2.2 -10.3M-32.2 28.3l-2.1 8.8M8.8 27.8l-0.1 9.7M56.6 -26.4l7.0 -7.4M-21.0 -31.4l-0.4 -4.7M-54.0 -30.5l-6.7 -5.0M-5.2 -32.5l0.5 -7.0M-2.4 -32.7l1.8 -4.4M-13.7 -28.2l0.7 -4.7M-51.4 32.1l-2.3 10.5M64.1 -6.9l7.3 -7.0M-26.0 32.5l-1.8 10.0M-12.2 -30.6l2.1 -8.8M-59.3 19.5l-4.7 7.0M-27.8 29.5l1.0 7.7M26.7 32.1l-0.8 4.7M25.4 -27.8l-1.7 -8.2M57.9 23.2l9.6 5.4M47.9 -31.7l-1.2 -3.2M-9.3 31.7l-1.3 6.6M0.9 29.5l-0.9 3.8M-19.1 -29.2l-0.1 -3.9M-51.6 30.0l1.3 9.8M-17.0 32.1l-1.9 9.9M-3.0 -28.4l0.1 -4.0M-59.0 20.4l-5.1 2.0M9.7 30.9l-0.2 9.9M26.5 28.6l-2.2 10.6M-62.8 -0.0l-5.2 -6.3M-63.0 12.1l-4.5 0.9M-61.5 -16.4l-10.8 1.1M24.7 -30.5l0.4 -10.6M-51.5 32.5l0.7 9.0M-59.8 -23.9l-3.7 -2.5M56.6 -25.0l2.6 -5.0M58.0 -21.9l6.0 -5.7M3.4 28.2l3.7 7.3M4.0 -28.1l-0.6 -3.0M14.9 31.8l-1.5 4.9M14.8 29.3l0.5 11.0M-58.8 16.7l-8.3 1.2M5.8 -30.7l-1.2 -9.3M38.0 31.9l-1.3 9.4M61.2 -8.2l7.7 -6.6M-31.3 28.5l-1.3 5.8M39.3 -30.1l0.5 -8.0M1.4 -30.3l-1.2 -6.4M-4.0 28.4l-2.7 9.3M-61.5 19.8l-7.9 7.4M61.8 8.5l2.5 2.2M-64.7 -1.6l-3.8 -8.8M2.1 29.9l-0.4 3.5M61.8 -15.8l5.7 -6.4M4.2 30.6l-0.6 3.4M-61.8 18.7l-3.6 7.6M-41.9 -30.5l3.6 -9.4M57.8 -21.3l3.2 -4.9M-21.6 -29.5l-1.2 -4.5M21.0 32.3l0.4 6.7M-12.8 28.7l-0.4 6.3M1.2 -28.7l-2.0 -7.0M-63.0 1.6l-4.0 7.0M-21.2 29.1l-0.5 6.5M-39.3 -32.2l0.4 -6.7M-50.3 -30.2l-0.4 -5.4M-32.5 -29.9l-1.0 -3.1M58.7 -21.4l6.4 -6.9M35.3 -27.7l-2.3 -4.3M-58.4 22.2l-2.4 2.5M38.0 27.8l0.0 5.9M4.7 -31.0l0.8 -3.7M21.2 -31.3l-1.0 -3.0M57.1 -22.1l2.6 -1.8M14.6 32.8l1.0 3.5M-1.6 28.8l1.8 9.1M53.8 27.1l4.6 0.9M6.5 -32.2l-0.5 -3.5M21.2 -27.8l-0.5 -8.8M51.1 -29.7l3.3 -4.2M-1.0 -31.7l3.5 -5.6M-15.7 -27.9l1.7 -4.9M-10.2 30.6l-1.2 7.4"/><path stroke="#555" stroke-width="0.5" d="M-62.4 -3.9l-6.2 -8.0M18.9 31.0l0.6 8.5M54.7 -31.1l4.6 -5.9M26.3 -29.8l4.7 -9.9M61.0 -15.7l3.5 -5.1M-32.7 -30.8l-0.9 -3.8M-24.5 -31.2l1.3 -5.3M41.9 -32.2l0.7 -6.0M32.3 29.1l2.0 8.1M2.6 28.5l0.6 11.0M-0.5 -31.2l-3.5 -9.5M-40.5 28.4l1.6 10.9M6.6 30.7l0.5 3.7M4.7 -29.4l0.3 -7.1M29.8 30.0l0.1 5.6M51.6 28.1l0.3 9.9M-7.3 28.3l1.2 9.1M-32.4 29.7l-3.0 9.8M0.1 -28.1l-3.5 -9.1M-11.7 29.7l1.1 4.6M-2.6 30.2l0.5 8.7M16.1 -30.3l0.8 -8.9M-14.8 29.3l-1.3 7.4M-39.1 -28.5l0.2 -8.3M-40.6 -28.0l-0.5 -7.3M-10.8 30.0l1.6 8.7M-61.4 0.0l-4.2 1.9M-26.0 32.2l-1.2 6.0M-17.2 -30.1l0.8 -7.2M3.1 32.8l-2.1 5.9M-6.2 -29.9l-0.6 -8.0M-58.0 -28.6l-4.5 -4.6M31.2 -29.6l0.3 -8.0M5.1 29.0l-1.0 8.3M-0.3 -32.5l-0.7 -3.1M62.2 15.0l4.5 5.6M38.0 29.9l-0.1 8.7M5.2 30.5l0.0 10.0M-59.9 -24.8l-3.6 -4.2M26.1 29.0l-1.4 7.8"/><path stroke="#444" stroke-width="0.5" d="M-2.0 30.4l2.3 7.2M10.1 -29.4l-0.3 -6.1M-5.7 -30.4l-0.2 -4.8M22.9 -31.9l-0.1 -4.1M-35.4 30.0l-0.8 3.7M24.4 -29.5l-0.1 -3.3M31.0 -27.8l0.3 -4.2M56.2 27.8l6.3 8.9M-17.7 -29.2l0.1 -8.5M-9.5 30.9l-0.6 3.7M55.7 -27.4l3.4 -2.1M12.5 31.4l-0.4 4.6M6.5 28.6l0.9 8.9M-17.4 32.3l0.1 5.3M13.5 29.3l0.5 3.3M23.3 30.6l0.0 8.1M8.9 28.1l-0.4 3.4M16.2 29.4l2.2 9.5M56.3 -26.9l4.8 -4.2M-6.3 27.8l1.4 4.2M-30.9 -29.2l-2.7 -6.0M26.7 29.7l1.0 3.4M60.5 -20.3l8.1 -5.8M30.9 28.1l-0.8 10.4M-59.5 -24.3l-5.7 -6.2M6.5 -28.4l0.0 -7.7M-7.5 -29.6l-0.8 -4.9M21.5 30.9l-5.6 8.0M26.5 30.6l0.6 4.8M62.3 -12.9l2.7 -3.5M17.4 -31.5l-1.8 -9.5M35.0 32.4l-2.1 10.5M-57.5 -28.5l-3.2 -2.7M30.7 28.7l-2.0 7.4M-62.2 -20.3l-2.8 -1.8M53.7 30.0l7.1 8.1M0.8 -28.9l-0.5 -5.3M33.5 -32.3l1.9 -7.4M-9.8 -31.5l-1.6 -8.5M47.8 -32.4l0.1 -4.7"/><path stroke="#3a3a3a" stroke-width="0.75" d="M-2.1 -30.7l-0.9 -4.3M61.4 -10.2l5.2 -3.9M-58.0 27.3l-5.0 8.3M-7.3 27.8l0.1 5.8M21.0 32.5l-0.1 6.9M-26.4 -30.7l-1.0 -5.8M4.3 27.8l-0.6 8.8M-10.3 30.4l0.4 9.8M-14.6 -32.4l-1.7 -9.7M3.4 -29.4l0.8 -3.8M-19.1 29.5l0.5 4.2M-57.2 24.6l-7.7 6.8M19.3 -28.7l2.5 -10.3M6.6 29.2l0.3 9.2M20.0 28.4l0.7 8.5M-1.6 29.4l1.9 7.8M-33.5 27.9l2.7 5.9M-21.6 -31.7l-0.0 -4.2M13.0 -31.4l0.4 -3.6M-61.0 -20.4l-2.0 -3.4M-62.5 14.8l-8.2 1.6M-29.9 29.1l-0.6 9.8M-25.3 31.8l-0.8 9.6M-24.6 28.1l0.1 10.2M-12.8 30.8l0.1 4.1M-54.9 -28.0l-2.6 -2.2M-1.2 -30.4l-1.0 -10.2M26.3 31.5l1.9 4.8M0.9 31.5l-4.9 9.1M41.9 -28.6l-0.4 -8.7M-28.1 31.5l-0.1 4.7M53.1 -29.4l3.7 -3.8M-60.8 11.4l-5.0 -0.2M29.2 32.2l-0.5 4.9M-39.2 29.2l0.0 7.9M-0.4 28.2l-0.2 4.9M-2.7 -29.8l1.1 -6.5M61.7 -15.4l2.8 -2.1M-59.7 -9.6l-10.1 2.1M-11.8 -30.9l-0.0 -5.5M-0.1 32.8l0.1 10.2M3.6 32.0l1.0 9.2M60.6 -22.7l5.1 -2.7M-12.1 -30.3l0.9 -10.9M61.8 10.9l7.5 6.6M24.8 -28.6l-1.4 -3.6M33.6 -31.1l-0.2 -9.0M9.9 -30.3l0.6 -9.2M-29.9 31.9l-0.4 6.7M45.5 29.8l-0.2 5.2M19.3 -29.4l-0.3 -3.3M-13.8 -29.7l0.3 -3.5M-19.9 -29.3l0.8 -6.6M4.8 28.4l0.6 5.0M-19.7 29.4l-1.7 9.8M20.0 -29.1l0.0 -6.4M-61.9 20.8l-3.8 2.8M-17.1 32.0l-1.0 7.7M39.4 27.4l-0.2 10.8M44.4 -28.1l-2.4 -9.0M-43.0 -29.2l-0.6 -7.7M-64.8 1.2l-5.2 3.5M14.6 29.2l-0.7 3.1M-60.3 -5.3l-4.3 -2.0M12.1 28.5l-1.8 8.2M-10.6 29.6l-0.7 3.6M23.0 28.3l-1.8 7.3M-0.8 -29.6l-1.0 -8.1M-62.1 3.7l-7.3 7.6M7.1 28.7l3.2 8.9M10.9 30.1l0.6 3.2M-64.0 -3.5l-4.8 -3.9M32.1 -29.5l-1.6 -5.8M-45.5 31.6l-1.4 9.8M61.1 -20.7l2.4 -3.1M-57.7 25.4l-5.6 9.0M-20.2 31.0l0.9 8.2M-23.2 32.2l-2.1 8.9M-55.8 30.8l-4.4 4.1M-61.6 -19.9l-2.2 -2.1M-46.7 -27.8l0.2 -7.7M20.1 29.1l-0.2 4.7M58.5 22.4l8.1 6.3M-55.4 -26.9l-3.2 -8.0M-31.1 29.1l-0.4 3.4"/><path stroke="#2f2f2f" stroke-width="0.5" d="M22.8 -32.5l0.8 -3.7M2.6 28.7l-2.2 10.5M46.8 28.4l0.1 3.3M-9.8 -28.8l-1.5 -5.6M17.2 31.1l-1.2 8.8M20.2 -29.1l-0.0 -7.7M61.1 -17.6l2.9 -2.9M-4.9 28.1l-1.9 10.2M-44.2 -28.2l2.1 -9.9M-62.0 -8.5l-6.6 -0.7M23.4 -29.0l1.3 -9.0M-0.1 31.7l-0.1 3.0M-15.5 27.7l2.0 6.3M25.2 30.1l-0.0 4.6M10.5 28.0l-1.5 3.7M49.9 29.7l4.5 2.1M7.1 -27.5l1.0 -5.9M-60.9 -16.7l-4.3 -2.5M-38.0 30.5l0.3 5.3M-13.5 30.5l-0.9 6.6M-0.7 31.7l-1.2 4.7M47.8 32.0l0.8 2.9M-5.8 -30.2l1.2 -4.1M-61.3 16.7l-5.7 3.8M35.3 -28.8l-0.5 -7.8M2.7 -29.7l0.5 -10.4M2.8 -32.7l0.8 -3.7M12.9 -32.5l0.3 -6.7M4.8 -32.4l-1.6 -5.7"/><path stroke="#3a3a3a" stroke-width="1.0" d="M-5.9 30.8l-0.5 5.1M-22.0 -32.0l0.9 -9.2M-3.2 -31.4l0.2 -4.1M-24.6 -28.6l0.8 -4.3M54.7 25.7l2.9 4.6M-44.1 30.5l-1.1 3.9M-61.2 15.7l-6.9 0.9M4.5 -28.6l-1.2 -4.5M-13.0 -31.9l1.0 -8.8M63.0 9.3l6.1 4.6M26.6 -31.0l1.8 -9.6M7.7 29.4l1.4 7.3M-62.5 16.3l-8.9 -1.0M1.3 28.0l0.6 5.4M-13.7 -29.8l1.3 -4.7M25.1 -31.2l1.8 -9.8M32.7 -27.9l-0.3 -8.7M58.1 22.0l4.4 1.5M-15.0 32.3l0.7 4.6M29.4 31.3l1.5 6.1M42.9 29.4l-0.1 5.3M4.3 27.8l-0.2 3.4M63.4 9.6l5.0 5.4M17.4 -30.6l-1.1 -10.8M21.2 28.9l2.6 7.9M59.1 23.1l2.4 3.3M-16.2 -29.8l-0.0 -7.2M61.5 -13.9l3.3 -1.8M15.8 -31.3l-0.5 -7.2M-7.0 32.0l2.0 10.6M43.0 30.6l1.3 9.7M-27.6 32.7l1.1 9.8M-59.0 -25.3l-4.3 -8.9"/><path stroke="#2f2f2f" stroke-width="0.75" d="M-63.4 -4.3l-3.7 -4.9M-26.5 32.5l-1.7 7.2M30.6 -32.3l-0.6 -8.6M-34.0 29.2l-0.1 3.5M-58.1 21.9l-5.5 5.4M-57.9 -27.7l-10.0 -3.0M-29.4 -32.1l-0.1 -5.1M-60.5 6.6l-7.0 -1.3M9.5 -31.0l0.8 -10.6M-56.4 26.6l-6.8 4.3M53.2 -30.7l4.5 -4.3M10.5 -30.4l-1.3 -4.9M-62.0 3.1l-7.0 3.5M-46.6 -32.3l0.2 -4.0M22.8 -31.0l-0.6 -7.1M55.5 -26.4l10.2 0.2M-51.4 -30.3l-0.4 -10.2M-10.6 30.8l-1.2 10.6M-13.4 -31.9l-0.4 -3.1M-60.9 -22.0l-7.2 -5.0M53.1 -29.0l2.1 -2.3M51.7 -30.2l0.9 -4.9M21.2 30.0l-0.1 4.3M-17.6 32.5l1.1 10.3M-54.8 -31.4l-6.2 -4.1M-11.9 30.4l0.8 4.0M-5.1 -27.8l0.2 -3.9M-61.2 15.9l-7.3 1.0M-60.5 14.0l-3.6 -0.4M12.4 -28.7l-1.1 -3.9M61.6 -7.5l2.0 -2.6M-35.2 29.5l1.3 7.1M61.1 -16.7l3.2 -1.5M14.7 -28.0l-0.1 -7.5M-62.0 6.0l-5.8 -1.1M-10.5 -28.0l-0.9 -7.0M60.4 17.3l8.0 5.9M-62.0 18.3l-3.2 4.8M-62.5 18.0l-1.4 2.9M-62.2 -10.3l-7.3 -1.3M-29.4 29.9l1.3 8.3M5.3 29.6l-1.4 5.1M23.3 -31.5l-1.8 -5.7M54.4 -27.1l8.4 2.7M7.8 31.5l-1.6 5.5M15.2 29.6l-0.5 4.5M-39.1 27.8l0.6 5.5M19.9 31.2l0.3 7.9M10.7 -28.3l-0.7 -10.7M59.3 19.8l2.1 3.3M-49.2 -31.3l1.7 -6.6M4.4 28.7l-0.2 5.6M-24.5 28.3l-0.1 9.2M2.7 -32.6l0.0 -3.3M-60.3 19.0l-2.7 2.2M-35.4 29.8l-0.5 3.9M59.3 -16.2l2.8 -4.1M-60.7 18.2l-3.0 2.9"/><path stroke="#555" stroke-width="0.75" d="M14.6 -30.8l-0.0 -7.2M33.6 -28.9l-0.9 -4.2M6.2 -30.4l1.1 -7.2M-60.5 15.9l-8.7 -0.2M-10.1 29.7l-1.9 6.3M58.2 -22.4l2.0 -2.3M26.3 31.9l-1.1 8.3M-37.9 -28.3l2.0 -10.2M-12.0 32.0l-0.8 5.3M-9.0 32.1l0.7 5.0M-10.4 28.6l0.7 4.6M59.4 16.4l7.6 7.3M56.9 -26.4l6.6 -4.3M-52.7 32.6l2.2 6.9M0.5 30.5l0.9 6.7M30.8 -30.5l3.2 -6.6M-12.9 29.2l-1.5 6.6M-63.4 9.2l-8.1 2.1M38.1 -27.4l0.8 -3.1M-36.4 -28.8l-1.8 -10.2M26.9 27.3l-0.7 9.6M-6.5 -27.4l3.2 -9.1M51.8 29.9l9.6 4.6M16.8 32.7l-2.2 8.3M-44.1 32.4l-1.3 7.2M21.1 32.7l-0.1 3.3M-46.6 30.4l-0.5 5.6M5.0 -30.3l-0.3 -3.6M-2.8 29.0l2.1 10.3M7.7 30.0l-0.3 7.5M-36.4 28.9l-0.3 9.4M-62.4 -2.9l-2.9 -2.0M-26.8 -28.4l-0.8 -3.8M20.1 -31.7l-0.4 -3.0M15.3 -29.4l0.3 -4.1M-10.5 29.5l1.9 10.0M23.0 -30.5l3.1 -10.5M-33.7 -29.2l0.3 -4.7M-59.8 -17.9l-4.8 1.1M7.6 -31.5l0.7 -7.6M21.1 31.3l1.1 3.1M-21.4 31.9l-1.7 4.6M-24.5 32.1l-1.5 6.8M-33.9 29.3l-0.5 8.3M0.2 -30.3l3.1 -9.7M44.0 31.4l0.1 3.3M-56.3 27.9l-7.8 5.4M-62.7 -0.9l-3.9 -2.3M50.4 -29.3l4.5 -2.5M-37.7 31.5l-0.0 3.5M19.9 -28.4l-0.6 -4.4M41.9 -30.2l0.2 -3.8M-44.2 -32.0l-2.8 -9.0M-62.5 -1.5l-4.5 -2.6M-41.8 30.3l-0.4 4.5M-33.6 29.9l1.8 7.6M17.2 -31.2l-0.2 -5.9M-59.3 -18.3l-4.0 1.8M13.7 -30.0l0.8 -8.4M61.0 -15.8l6.5 -5.2M-60.6 -19.1l-7.9 -6.5M13.3 -27.9l-2.4 -8.5M49.0 28.8l1.4 5.3M-21.3 27.9l3.8 5.3M57.1 26.9l6.1 -0.2M-59.6 -19.8l-6.6 -5.5M37.9 27.7l2.6 8.4M20.0 -28.9l0.2 -3.5M13.2 28.6l-0.8 3.2M-20.1 -27.7l-0.1 -3.2"/><path stroke="#3a3a3a" stroke-width="0.5" d="M-19.8 28.3l2.4 10.1M-4.5 -27.9l-0.1 -6.5M-32.5 -30.8l1.0 -7.1M-60.4 -16.2l-5.7 0.4M-26.3 -28.6l-0.1 -10.4M7.4 -28.6l1.6 -8.0M2.1 32.0l-0.8 10.7M-44.2 31.3l0.4 8.1M58.6 23.1l4.9 4.5M44.2 30.6l-1.5 8.0M-7.1 -30.1l1.5 -4.4M-41.9 -28.3l-1.4 -10.6M-16.0 27.8l0.7 9.9M-59.9 7.0l-3.7 -0.0M-23.2 32.4l-0.9 5.6M3.0 -28.9l-0.9 -3.3M12.0 -32.0l0.2 -8.1M61.9 -8.1l3.7 -4.2M3.1 -32.8l-0.0 -10.9M-59.0 -27.4l-6.2 -4.7M-32.4 32.0l-1.5 3.9M49.5 -32.8l7.2 -5.7M-4.9 29.8l-0.1 7.5M-10.5 -29.1l1.5 -8.2M-0.1 -31.0l-0.2 -8.2M-17.2 -29.5l0.4 -9.7M-63.6 5.4l-7.9 0.8M-33.8 -32.4l0.3 -6.3M-57.0 -28.9l-5.5 -8.2"/><path stroke="#444" stroke-width="1.0" d="M-49.2 -27.7l1.2 -10.7M53.3 -30.0l-1.8 -7.8M41.6 29.7l0.7 7.2M-63.1 -14.4l-9.5 2.4M-61.7 10.5l-10.4 -1.3M40.6 -29.1l-0.6 -10.0M60.2 -21.1l5.8 -4.7M-25.2 30.0l1.7 4.9M-18.3 -28.3l-0.6 -8.1M-33.6 -30.8l-0.5 -3.7M-52.8 -30.9l-3.1 -6.9M13.0 29.7l-0.1 5.8M59.2 -22.4l8.6 -4.4M19.7 -29.3l0.8 -10.4M17.7 31.0l-1.2 9.4M36.4 -29.6l-1.7 -9.6M50.3 30.8l7.0 8.1M29.8 30.0l-2.0 3.6M-46.5 32.9l-1.0 9.9M59.6 20.2l4.4 5.0M26.5 -30.9l0.3 -5.1M2.8 32.8l1.0 5.7M-12.2 -27.9l0.4 -6.7M18.2 -29.7l-0.7 -7.3M-62.4 -5.6l-3.2 0.9M60.2 -13.7l5.3 -6.1M50.9 -31.3l4.9 -6.5M-35.4 -28.7l1.1 -5.3M-44.4 29.8l0.8 9.5M8.8 -32.8l1.7 -6.9M-9.3 -28.0l3.2 -8.0M35.3 -27.7l-0.0 -5.7M5.0 29.4l0.6 7.2M-15.4 -31.6l0.6 -5.1M61.4 -15.8l2.7 -4.8"/><path stroke="#2f2f2f" stroke-width="1.0" d="M26.6 -32.1l0.2 -10.4M19.1 31.6l0.3 7.6M23.2 31.4l-0.7 4.9M25.3 -32.0l-1.0 -10.4M53.0 28.2l6.9 5.4M35.1 28.6l0.2 10.8M49.2 -29.8l1.1 -5.1M36.7 -32.2l-0.1 -4.5M60.8 -21.9l6.2 -3.7M-62.7 10.6l-5.2 0.4M62.2 -10.0l1.8 -2.6M-64.5 -0.7l-8.1 -5.4M-25.0 30.0l-0.8 6.3M8.2 -29.9l0.7 -6.6M9.8 28.4l3.8 9.6M-3.5 -30.0l0.8 -4.7M1.9 -28.7l-0.3 -7.7M-8.3 -28.3l0.5 -9.6M52.9 -29.3l1.3 -6.9M44.0 -31.2l-1.7 -10.5M-5.8 -30.7l-2.7 -10.0M-58.7 -21.8l-5.3 -7.5M-32.1 -28.6l1.0 -5.5M24.9 -30.0l0.4 -4.7M62.5 11.4l3.4 2.3M-20.1 -32.1l-0.8 -4.5M-64.3 -2.1l-5.6 -7.7M-56.7 28.4l-5.4 5.0M-62.5 6.5l-5.7 0.7M57.8 -20.8l3.6 -2.3M21.5 28.8l-0.4 4.1M-12.4 -29.9l-1.9 -7.2M-1.8 -31.2l-1.2 -9.0M4.5 -30.7l2.2 -10.1M-2.7 30.9l1.4 9.6M10.7 -27.6l0.1 -8.3M14.5 -31.4l2.4 -5.9M32.2 29.9l0.3 7.2M-63.3 13.3l-4.7 -0.1M-61.0 -19.0l-5.8 -4.0M59.7 -18.5l6.5 -4.4M-52.2 30.8l-6.3 8.3M62.0 13.2l2.1 3.8M2.3 32.1l0.3 3.6"/><path stroke="#555" stroke-width="1.0" d="M-2.0 29.5l0.2 10.3M-52.7 -29.0l0.0 -8.5M61.9 15.5l4.4 5.5M24.3 -29.9l1.5 -6.1M5.2 -32.4l-1.1 -4.5M17.8 -30.3l-1.8 -8.2M-6.1 -28.1l0.1 -9.1M1.1 28.1l1.7 4.2M-57.5 -26.9l-3.8 -2.4M14.9 32.6l0.4 6.7M-6.6 -30.3l0.1 -5.0M-40.5 -28.8l0.7 -8.5M10.9 -29.1l-0.3 -3.2M1.8 31.1l-0.5 4.6M36.5 -30.0l-0.2 -6.7M-61.2 16.2l-4.9 4.9M47.9 28.5l0.3 3.7M36.3 28.5l1.5 10.0M-9.2 -32.3l0.5 -6.2M-2.1 31.6l0.6 3.6M29.9 -32.2l-2.4 -8.7M43.1 -28.5l0.4 -5.3M9.8 -31.9l0.5 -5.4M14.6 -31.7l-1.4 -7.9M8.3 31.1l-0.2 4.3M26.5 -29.1l-0.6 -3.7M5.2 -32.2l0.2 -7.9M58.4 -20.0l2.5 -9.2M3.5 -28.7l-0.9 -7.3M-23.7 -28.4l1.1 -9.6M62.6 -12.1l3.3 -4.5M54.8 -26.9l6.9 -8.5M-13.3 -27.6l0.1 -6.6M-6.6 30.2l0.3 4.1M26.1 28.5l-0.0 4.0"/></g><g stroke-linecap="round" fill="none"><path stroke="#333" stroke-width="1.0" d="M-59.0 0.0l-5.9 17.6M-59.0 0.0l-26.1 0.9M-59.0 0.0l-4.2 -33.8M-59.0 0.0l-6.7 -30.3M-59.0 0.0l-13.3 17.4M-59.0 0.0l-16.4 28.4"/><path stroke="#777" stroke-width="0.5" d="M-59.0 0.0l-22.1 5.8M-59.0 0.0l-22.4 1.7M-59.0 0.0l3.6 31.1M-59.0 0.0l-16.9 -3.6M-59.0 0.0l-13.0 -28.7M-59.0 0.0l2.2 33.4"/><path stroke="#555" stroke-width="0.75" d="M-59.0 0.0l-9.4 -19.8M-59.0 0.0l-23.6 -7.6M-59.0 0.0l-18.6 2.4M-59.0 0.0l-2.0 32.6M-59.0 0.0l-22.8 10.3M-59.0 0.0l-5.8 -23.1M-59.0 0.0l-9.2 18.7M-59.0 0.0l-14.9 -23.8"/><path stroke="#555" stroke-width="1.0" d="M-59.0 0.0l0.4 20.1M-59.0 0.0l-13.8 -2.4M-59.0 0.0l-14.4 -2.2M-59.0 0.0l-10.1 -15.9M-59.0 0.0l-15.2 22.6M-59.0 0.0l-12.2 -25.9M-59.0 0.0l-2.9 -25.4M-59.0 0.0l-17.5 17.9"/><path stroke="#777" stroke-width="1.0" d="M-59.0 0.0l-7.2 -20.2M-59.0 0.0l-3.2 23.6M-59.0 0.0l-14.7 16.0M-59.0 0.0l-0.1 -20.8M-59.0 0.0l0.1 30.4M-59.0 0.0l1.5 -34.3M-59.0 0.0l0.3 30.8M-59.0 0.0l-17.9 -12.8"/><path stroke="#333" stroke-width="0.75" d="M-59.0 0.0l-13.3 17.0M-59.0 0.0l-23.0 -16.6M-59.0 0.0l-3.8 26.9M-59.0 0.0l-20.1 6.2M-59.0 0.0l-20.8 18.4M-59.0 0.0l-19.7 -14.5M-59.0 0.0l-23.0 8.5M-59.0 0.0l-24.4 9.4M-59.0 0.0l1.6 -22.4M-59.0 0.0l-3.4 -27.7"/><path stroke="#777" stroke-width="0.75" d="M-59.0 0.0l-3.5 -25.3M-59.0 0.0l-15.2 -27.1M-59.0 0.0l-0.6 -26.9M-59.0 0.0l1.3 31.1M-59.0 0.0l-12.1 -18.0M-59.0 0.0l-26.3 -2.9M-59.0 0.0l-14.2 -18.0M-59.0 0.0l-22.5 14.7"/><path stroke="#333" stroke-width="0.5" d="M-59.0 0.0l-4.5 26.1M-59.0 0.0l-14.8 24.3M-59.0 0.0l-15.9 -20.6M-59.0 0.0l-5.0 27.2"/><path stroke="#555" stroke-width="0.5" d="M-59.0 0.0l-13.5 26.1M-59.0 0.0l-1.0 -28.8"/></g><ellipse cx="-57.0" cy="0" rx="4.5" ry="3" fill="#b0b0b0"/></g><g transform="translate(1281,108) rotate(-41.5)"><defs><linearGradient id="hbr5" x1="0" y1="0" x2="0" y2="1"><stop offset="0" stop-color="#6a6a6a"/><stop offset="0.3" stop-color="#cfcfcf"/><stop offset="0.6" stop-color="#8a8a8a"/><stop offset="1" stop-color="#4a4a4a"/></linearGradient><linearGradient id="bbr5" x1="0" y1="0" x2="0" y2="1"><stop offset="0" stop-color="#3a3a3a"/><stop offset="0.5" stop-color="#484848"/><stop offset="1" stop-color="#5a5a5a"/></linearGradient></defs><rect x="63.2" y="-8.5" width="44.8" height="17" rx="5.1" fill="url(#hbr5)"/><ellipse cx="105.0" cy="0" rx="3.5" ry="8.0" fill="#c8c8c8"/><path d="M-52.0,-29.0 L58.0,-29.0 A14.0,29.0 0 0 1 58.0,29.0 L-52.0,29.0 A20.0,29.0 0 0 1 -52.0,-29.0 Z" fill="url(#bbr5)"/><g stroke-linecap="round" fill="none"><path stroke="#888" stroke-width="0.5" d="M18.7 16.0l-7.3 1.3M-62.1 -10.5l-2.3 8.2M47.5 -24.3l1.8 3.2M-56.0 10.2l-0.5 8.4M2.2 27.6l2.5 4.3M11.2 0.0l0.1 5.8M52.8 -21.3l1.9 4.5M-34.8 9.5l7.8 0.6M-27.1 10.4l-4.4 6.3M-13.1 20.3l-0.8 3.7M-0.7 -0.5l-2.4 3.3M4.1 24.2l1.9 7.5M64.1 -18.8l-0.6 4.1M7.1 2.1l1.1 4.1M-49.1 2.4l1.9 4.7M51.4 10.6l-3.2 2.2M21.1 -18.9l7.4 4.1M-7.7 1.2l2.1 8.5M0.2 7.5l2.9 6.7M-57.8 -21.5l6.6 1.4M-6.3 -18.4l-5.4 0.8M41.8 15.5l1.6 2.7M-39.6 -24.7l5.0 5.6M-22.1 -19.6l-4.0 6.7M50.8 17.7l-0.4 3.0M42.7 25.6l2.2 5.3M23.0 -10.4l1.9 6.2"/><path stroke="#888" stroke-width="0.75" d="M22.6 26.5l1.6 6.1M-38.6 21.1l-0.0 6.1M-26.4 27.5l-0.6 4.9M-7.1 12.0l-4.9 6.4M38.5 11.2l-6.8 2.3M-44.3 1.1l6.5 6.0M-18.5 16.6l0.2 4.2M-64.2 -3.4l-0.5 5.3M-60.4 17.7l1.3 8.8M-9.4 20.0l0.6 7.7M-8.5 0.2l-2.4 3.4M2.1 18.2l-0.8 3.4M65.5 6.3l3.2 4.8M40.6 -2.0l-3.9 6.4M28.2 6.1l4.2 7.4M-50.3 7.0l1.2 7.9M9.1 7.0l0.6 5.8M3.0 16.9l-0.2 6.1M65.2 -14.7l-0.7 7.0M-41.5 -0.8l0.4 8.8M-23.2 -10.2l1.3 4.1M-9.8 5.3l-2.0 3.9M36.4 12.6l3.5 6.1M-17.0 17.8l1.0 7.3M63.2 -24.5l3.2 7.3M-26.3 2.9l-2.7 3.8M47.1 -14.7l4.6 2.6M10.4 -27.1l2.5 7.2M-45.9 -4.1l-3.1 8.0M-54.5 14.9l-4.1 2.6M19.2 -0.5l1.6 6.6M42.5 -2.4l2.0 5.3M-20.6 9.3l-0.5 3.1M-45.6 -24.8l4.9 6.0M38.5 24.8l-0.5 6.3M-25.9 -1.9l0.1 8.1M48.9 -15.8l4.1 5.0M-53.6 -17.1l0.7 8.1M-13.1 18.0l-7.4 3.9M-45.8 -6.3l0.5 6.0M-49.4 15.7l-3.7 0.7M-28.3 -21.8l1.6 5.5M68.3 -11.3l-4.3 7.7M-46.3 4.7l1.3 6.2M-36.4 23.9l2.5 4.8M-17.6 -18.7l2.2 4.6M-34.8 19.9l3.4 7.4M7.7 6.2l-0.3 8.5M-66.2 9.2l1.1 5.9M-0.8 16.9l2.8 6.2M-30.6 12.2l5.0 7.0M40.3 -9.1l0.6 8.8M-12.6 18.2l-6.3 5.2M-50.8 -18.2l1.8 6.2M-33.5 8.0l-4.5 1.3"/><path stroke="#3a3a3a" stroke-width="0.5" d="M35.1 -6.1l-0.4 8.2M-67.3 5.0l-3.5 1.4M-58.0 -12.1l0.7 5.6M40.5 -27.2l2.2 2.6M41.0 -5.7l-7.3 4.4M-64.3 -8.9l2.2 2.2M7.9 21.8l-1.1 5.0M51.1 6.2l-1.0 3.6M-28.1 -20.1l-1.3 3.5M63.9 -17.6l1.0 4.2M-33.7 -4.2l5.9 0.1M65.3 -18.0l0.7 8.3M-1.4 -6.9l-2.8 4.1M67.0 14.6l-1.9 7.0M5.8 -16.0l3.4 1.2M21.3 -7.6l-2.1 2.9M7.1 15.7l-8.4 2.1M-9.1 -2.0l-2.8 6.7M61.7 -1.4l0.8 3.8M24.5 -23.4l4.5 1.6M-58.9 20.5l0.8 3.6M-5.3 -4.1l-0.1 5.3M20.6 -15.3l1.2 3.2M39.0 -27.3l2.5 6.9M26.7 -10.8l-0.2 6.9M-46.6 -9.2l-3.3 6.0"/><path stroke="#666" stroke-width="1.0" d="M45.2 -23.8l-0.1 8.2M21.0 19.9l-1.7 6.2M-40.2 22.0l5.3 7.1M-42.1 -25.3l-3.9 6.9M-58.1 11.1l1.0 3.8M-48.0 -9.1l-2.9 7.1M18.7 19.8l-2.6 6.0M43.7 5.2l-0.6 3.3M-26.7 22.6l-5.0 7.4M-50.5 -27.1l1.8 6.5M5.4 -1.4l-2.2 7.8M-44.8 -17.4l-2.0 6.2M43.5 -5.2l2.9 1.0M-56.2 16.3l0.6 4.6M-41.3 -19.5l1.8 7.2M-22.5 12.9l0.2 3.1M-57.8 -23.2l-0.5 5.1M12.6 9.3l-1.9 5.0M-11.3 22.2l-2.0 3.8M-34.8 -9.0l0.5 4.2M29.7 -20.8l0.5 4.0M-29.6 -0.2l-0.3 3.7M-17.4 15.5l3.2 2.0M52.4 -21.3l-1.1 3.6M1.1 -20.2l-0.6 4.6M-54.9 19.3l0.7 8.4M6.5 26.5l0.2 3.4M12.0 4.3l1.6 8.2M63.2 -5.7l8.2 1.8M-52.6 -3.6l-0.7 3.0M-9.5 -17.2l3.3 8.3M6.4 -18.3l-2.2 6.0M37.7 -19.5l1.8 4.1M57.7 9.4l2.2 4.2M62.7 6.4l-2.7 8.3M66.2 0.9l-1.6 6.8M-50.2 3.2l2.8 7.5M38.7 12.9l3.0 6.2M50.0 19.1l0.4 8.2M47.9 -15.7l0.6 6.3M-5.0 -25.9l4.2 0.0M-42.4 7.6l5.3 3.2M-53.7 0.7l2.0 7.5M-57.8 -0.1l2.9 7.1M43.6 25.0l-3.2 3.9M-58.4 -25.8l-2.1 4.7M54.5 -12.6l-1.1 3.1M-19.9 -25.1l5.9 6.6M-42.5 26.2l-0.2 5.8M1.4 -1.7l3.9 6.9"/><path stroke="#666" stroke-width="0.5" d="M-50.7 -12.3l-0.1 8.3M43.7 -8.8l-0.4 4.1M-58.9 21.3l-2.8 7.7M48.4 -5.3l-2.3 4.7M50.7 -3.6l-1.1 8.2M-54.9 -1.1l3.7 4.0M21.3 -4.1l0.4 5.4M14.6 -2.8l-4.2 3.8M41.0 5.8l-1.8 8.7M51.1 -7.8l0.7 4.1M14.8 -7.6l1.4 6.2M-13.2 27.4l1.0 5.9M-9.6 13.9l-4.0 5.0M57.0 -20.3l0.2 6.7M-58.3 9.3l0.4 7.2M-30.8 -27.1l2.4 7.5M52.6 -21.3l-3.0 3.0M21.1 -10.4l-0.7 4.4M-22.5 -17.9l6.4 1.3M19.0 -8.2l-1.5 4.5M31.5 1.8l2.8 4.2M29.7 -5.2l-2.0 4.4M44.8 7.5l4.7 7.0M-0.1 25.9l0.4 3.4M-1.4 -18.0l1.9 6.9M-2.5 -25.3l0.1 7.9M-56.6 0.2l-2.7 7.3"/><path stroke="#777" stroke-width="0.5" d="M66.2 -15.6l-1.2 6.5M-18.2 7.4l0.4 4.4M28.2 -0.7l1.6 3.5M20.0 0.4l-1.2 6.6M-8.8 20.9l-3.7 6.2M46.9 20.7l-0.6 5.9M14.6 -16.9l1.7 3.0M-43.1 -5.2l-1.2 5.7M23.1 2.6l2.6 5.2M-62.4 -18.5l0.1 5.6M-51.5 8.8l1.6 7.7M5.6 -21.7l2.5 3.6M-42.4 -2.9l-1.5 8.8M-60.1 3.9l4.6 4.2M-18.7 -2.7l-1.9 4.3M-41.5 -26.4l-1.5 7.5M-44.5 12.8l2.5 8.4M-60.0 22.7l-2.2 3.8M8.3 -10.7l-2.1 4.4M0.1 18.7l-7.2 2.9M-24.1 22.0l3.3 1.1M-35.3 17.8l-0.3 6.1M56.0 14.4l-1.8 3.9M-63.4 21.9l-0.6 8.2M-33.4 -16.8l0.0 4.9M67.7 -4.9l1.9 5.4M25.3 13.6l4.3 7.4M41.2 -0.9l2.0 3.8M23.0 7.5l0.6 3.6"/><path stroke="#3a3a3a" stroke-width="1.0" d="M-22.0 -12.8l1.7 3.7M-5.6 5.9l1.9 4.4M-14.3 -17.3l1.2 7.9M-7.1 -0.8l0.3 4.7M-42.7 12.3l0.0 3.3M-0.6 -5.6l0.5 8.9M-10.7 20.3l1.2 7.0M-57.0 6.2l-0.3 8.3M-59.6 2.0l4.2 7.6M-18.8 8.3l-4.7 1.3M16.1 8.6l-0.3 7.6M25.5 -22.4l0.1 3.8M-33.2 27.8l-4.2 4.1M-43.7 -12.8l2.0 3.4M-66.7 -1.0l-4.9 0.7M64.9 -17.9l-3.4 7.3M-65.0 17.1l2.2 3.0M38.1 -20.1l0.4 3.8M40.4 -9.2l2.4 3.8M-16.9 8.5l0.8 4.5M6.7 13.6l-5.0 5.2M2.0 -26.8l-1.1 4.0M3.6 14.7l0.9 8.6M23.1 2.6l-3.5 1.7M27.3 -23.7l-4.3 6.8M-1.9 11.9l0.3 8.7M-40.0 18.8l3.5 0.9M-20.1 9.9l3.8 0.2M-4.0 26.2l-0.5 4.4M68.0 3.3l-7.2 5.2M-57.5 -24.7l1.4 3.0M-24.3 -18.0l1.5 8.2M11.7 -11.7l-0.6 5.0M19.8 3.5l-0.0 5.8M-38.5 27.9l0.7 5.9M-8.9 13.6l0.0 3.5M-24.4 14.9l1.3 5.0M39.1 -18.8l-2.2 2.6M-61.7 -8.5l-1.0 4.6M6.3 -17.9l-1.0 4.2M-47.2 15.2l-4.8 3.8M-16.8 7.1l-1.6 5.5M52.8 2.6l-0.4 7.9M41.0 19.7l-0.1 7.6M-1.4 19.8l-1.0 3.3M67.5 2.8l-2.7 6.7M45.9 20.4l0.9 7.4M-38.1 -19.7l0.5 3.1M-42.3 -22.4l-0.5 5.4"/><path stroke="#777" stroke-width="1.0" d="M28.3 -12.8l-2.8 6.8M-34.6 18.6l3.3 7.0M24.9 17.1l-4.9 5.3M-24.3 -21.2l0.6 7.6M-30.2 -13.5l-3.7 7.9M-24.9 -13.4l0.6 5.8M-35.4 -27.4l-3.2 8.0M52.0 -18.5l-1.9 3.3M-18.9 22.2l-3.7 7.7M56.1 24.3l1.3 7.8M11.4 10.3l4.1 7.4M9.5 6.8l-1.2 6.8M-59.0 -10.8l-0.2 5.6M-12.0 -17.3l-1.5 3.1M32.9 -17.4l-0.6 7.1M9.8 4.4l0.1 8.3M-52.4 -18.7l-0.8 3.4M-43.1 -17.2l2.1 5.9M-58.3 17.8l-2.0 3.0M-15.3 -26.3l-6.4 5.0M-14.8 -3.2l-2.8 7.1M32.5 -3.7l-0.3 5.0M-34.5 1.7l-2.3 3.7M60.6 8.9l-6.2 2.1M55.6 -1.1l5.3 7.1M-21.3 7.1l4.4 4.2M-45.2 8.6l0.7 2.9M-49.1 -20.0l2.0 5.5M38.4 -10.4l1.8 2.7M41.4 3.1l0.3 3.9M-23.9 8.0l0.1 3.2M-37.0 -3.1l1.0 4.4M66.1 -20.1l6.6 1.6M43.2 15.6l-0.4 7.6M-54.5 14.3l-0.4 8.3M-42.7 23.2l-3.3 8.1M20.4 21.5l1.3 3.2M59.8 15.6l1.8 3.2M32.0 19.6l4.3 5.9M16.0 -3.9l-0.1 4.6M-58.3 8.3l1.2 5.8M-9.3 25.2l0.0 5.0M15.5 22.3l-2.5 5.7M-66.7 5.9l-0.6 5.0M7.1 23.1l-0.4 3.3M-63.7 16.1l-1.2 3.6M-49.2 -26.0l2.5 2.4M19.7 -1.5l3.3 6.5M19.7 25.7l-1.2 5.6M60.9 -11.5l-5.0 5.4M2.1 7.2l-1.0 4.5M-8.2 -7.0l-0.5 5.3M-67.7 15.2l2.4 5.0M9.0 10.1l-2.0 4.5M53.0 9.1l0.9 3.3"/><path stroke="#3a3a3a" stroke-width="0.75" d="M43.8 -26.0l-3.2 2.3M-5.6 20.9l-0.7 6.8M35.0 -21.7l-1.8 6.8M-50.8 25.9l-2.4 5.8M-35.3 -22.8l4.0 5.3M-46.3 -0.7l-2.5 4.5M35.0 8.2l-0.8 5.1M16.8 0.9l-0.2 6.3M10.0 21.8l-3.6 4.1M8.1 -4.5l-1.7 4.1M-59.1 9.5l-1.5 5.0M-55.7 -1.2l7.6 0.2M-30.5 25.0l2.0 6.7M-33.1 -11.0l5.0 2.2M59.3 17.5l-1.9 3.0M-4.6 -3.8l-2.2 4.1M-6.6 -22.3l1.2 8.0M43.4 10.6l2.2 8.6M26.2 1.4l-0.2 3.7M70.0 -2.1l-0.6 8.4M31.9 -23.9l4.2 5.3M18.4 23.3l0.1 5.5M38.4 -5.6l-1.6 5.5M-57.0 12.1l-0.5 4.1M57.4 14.9l3.7 4.1M27.8 -4.7l-0.5 7.7M-38.9 8.4l-0.8 8.8M27.9 4.1l-1.8 5.2M-25.6 -24.8l-1.0 8.3M-46.7 9.2l-2.2 5.4M-18.0 -27.6l2.6 6.1M62.0 -25.6l-0.3 5.1M51.4 17.7l-0.2 4.3M62.1 3.0l-6.2 6.1M-2.6 -5.1l-3.7 8.1M63.0 0.2l-2.3 7.1M32.2 -16.4l-2.0 5.7M-30.3 3.2l1.6 7.7M-41.8 -3.7l-2.0 6.2M-66.2 -5.3l-6.2 0.6M30.9 18.8l-2.5 7.0M51.7 -26.4l-7.7 0.2M27.0 -4.7l0.1 3.1M28.8 25.9l-0.8 4.4M-1.7 21.7l-2.2 7.3M-37.5 -15.5l0.3 6.0M-62.7 17.7l0.9 7.4M-49.5 21.3l-3.7 6.8M5.3 11.2l-1.9 7.5M-34.7 11.5l3.1 1.1M-5.9 25.1l-1.3 6.1M-42.5 -24.1l0.1 4.3M-61.4 8.1l-0.0 4.1M7.6 23.3l-0.5 5.9M17.2 -15.1l0.8 4.2M51.6 15.5l-1.8 5.5M35.0 11.0l0.7 8.1"/><path stroke="#777" stroke-width="0.75" d="M52.1 24.4l2.7 8.4M55.2 25.1l3.8 0.2M-18.5 14.7l1.2 8.7M8.8 -4.0l0.9 3.6M-65.5 9.4l7.0 2.8M-1.3 12.4l2.5 3.0M33.9 -8.6l4.3 4.8M38.8 26.7l0.8 3.4M-27.0 -7.1l3.4 6.9M52.0 27.3l1.6 7.1M-26.1 -27.2l-0.6 3.8M-54.9 -11.4l1.0 3.3M-23.1 7.8l7.4 3.7M42.7 -7.4l2.4 3.2M59.5 -27.3l-0.4 8.2M58.7 0.6l0.3 3.8M-3.6 -23.5l2.5 6.8M-12.2 19.4l-1.3 3.6M-35.9 1.8l6.7 4.2M15.9 26.8l2.4 7.8M-28.9 -7.8l3.3 6.0M-12.2 1.9l-3.8 5.5M-25.8 27.5l-0.4 7.6M-9.6 -16.8l1.4 3.2M51.6 0.6l-2.3 4.9M37.0 -17.5l-5.6 6.4M-19.3 3.1l-0.7 8.1M9.8 -2.3l6.5 4.3M45.6 25.6l-1.3 7.9M16.0 19.6l0.4 7.0M-16.0 -13.1l1.1 8.1M-17.4 -24.5l-3.0 5.4M50.1 -19.7l-2.5 3.2M-28.3 15.7l2.9 1.0M28.1 7.0l2.0 4.5M60.7 11.6l1.8 6.2M-8.5 -16.9l4.4 6.1M25.4 3.0l2.7 7.2M-43.4 -3.4l-3.3 3.9"/><path stroke="#2e2e2e" stroke-width="1.0" d="M4.5 -22.0l-5.8 1.1M7.5 -0.2l-2.1 7.6M-23.7 16.6l0.2 3.3M26.7 -14.2l-0.1 3.2M50.4 -0.7l0.3 4.0M-20.9 6.2l1.0 3.3M48.0 -22.0l0.6 8.0M20.3 17.8l6.9 1.7M-8.6 24.5l2.8 1.3M-36.0 -14.8l-3.1 3.3M4.7 -3.8l1.2 6.1M-31.4 -25.9l2.0 4.1M-19.3 6.4l1.2 7.0M50.9 7.5l-6.0 3.0M50.8 -11.5l3.8 1.0M-63.7 -11.5l1.1 3.0M-23.9 -19.2l-0.9 5.7M-39.7 -17.4l3.0 2.5M-13.3 -14.6l0.1 4.0M-12.6 -22.6l0.5 4.5M55.5 3.9l-4.6 6.9M48.1 -11.5l-0.0 5.6M39.5 -10.6l1.7 6.9M48.7 22.1l0.4 4.6M-37.3 14.2l-0.2 3.1M-30.4 17.1l-4.9 4.8M-31.5 -8.4l2.9 7.7M-67.7 -5.2l0.5 7.5M11.2 6.0l2.6 5.4M37.5 -9.0l7.5 0.1M13.3 -0.7l2.2 4.1M-46.3 -13.9l3.3 4.2M-9.2 -21.3l5.7 2.1M-63.0 7.0l1.1 5.9M-39.5 27.4l1.7 5.7M14.8 13.4l3.2 5.5M-0.0 26.0l1.8 8.5M27.6 11.9l0.2 8.4M40.7 27.8l-1.4 3.9M-42.9 27.2l-0.4 6.4M36.0 15.2l1.4 8.1M-26.4 13.0l5.5 3.6M59.7 -22.5l-0.5 4.4M-44.0 -20.3l-2.6 3.1M53.9 -6.6l-0.5 6.0M61.8 -24.5l1.2 2.8M-6.7 -9.2l3.7 5.7"/><path stroke="#888" stroke-width="1.0" d="M8.1 24.2l-1.5 6.3M1.3 -6.4l-0.9 3.5M41.2 0.0l-6.8 1.3M-34.1 5.5l2.1 7.8M33.3 6.1l0.4 6.1M-29.5 23.5l2.7 4.0M-2.8 -13.3l-2.8 6.6M-57.4 17.4l2.4 5.4M67.4 -12.4l-2.7 4.8M56.4 27.5l1.8 6.7M48.4 10.5l1.3 5.8M56.5 8.5l-1.1 5.7M67.8 16.9l-1.3 7.5M60.1 -5.0l-0.8 4.5M41.8 -4.7l-5.2 4.5M-35.7 -11.2l-2.8 5.1M37.7 -26.4l-0.8 7.0M-64.0 -8.5l-1.4 8.4M-25.5 11.0l-3.8 5.7M11.7 19.1l0.7 8.5M44.1 12.6l1.6 5.8M-25.4 14.9l-0.8 5.8M4.1 10.7l-2.1 2.5M7.8 -26.1l2.3 7.7M46.2 -13.8l0.7 3.9M23.5 13.4l1.0 8.1M40.8 -1.2l-2.9 6.0M-32.1 -27.3l-4.8 3.0M17.1 -24.1l-1.8 6.2M-25.9 25.1l-0.4 3.6M-22.6 13.9l1.5 2.7M-35.9 -10.1l0.7 8.4M15.3 22.9l0.8 4.1M-11.6 7.8l-2.8 8.3M0.8 -20.9l7.9 3.1M-59.1 -7.2l1.6 3.8M-48.0 9.3l-4.3 6.7M-51.6 1.0l-5.3 1.0M-40.9 0.4l1.2 5.0M-62.7 19.8l-0.3 3.1M36.5 -14.7l0.9 5.9M-32.8 -3.3l0.7 3.1M-7.7 -0.7l-1.0 4.6M-10.5 -25.2l-0.2 3.4M-31.6 1.7l-7.6 1.8M2.4 12.8l0.7 4.0M-63.0 -6.4l-0.3 6.2M-22.6 16.5l-0.2 7.5M30.7 22.3l1.9 5.7M42.1 18.2l1.7 7.4M17.9 6.1l-0.5 4.0M27.8 -14.5l-0.4 8.3M33.8 -24.7l-3.0 7.5M-66.9 16.0l-1.4 5.2M48.5 -12.6l0.9 7.3"/><path stroke="#2e2e2e" stroke-width="0.75" d="M-14.4 -14.6l-2.5 4.6M-17.8 -1.5l-0.8 7.9M-55.3 -7.1l1.4 5.7M51.9 -1.6l0.8 5.7M-9.4 -20.9l1.3 7.7M67.0 9.6l0.1 8.9M60.6 -0.6l4.4 0.7M-63.5 -16.8l1.8 4.1M-38.2 13.4l-7.8 3.0M49.6 -4.2l3.7 7.9M-10.8 -9.1l-3.6 7.1M16.8 24.0l2.4 8.5M46.2 14.1l-6.7 0.9M47.8 -20.1l1.8 3.6M67.1 -2.2l-2.9 2.4M56.0 -27.8l6.4 4.5M49.3 -0.4l6.5 0.8M20.7 14.8l0.9 3.5M-61.6 15.7l1.7 5.5M-31.9 -25.9l-1.5 8.5M-58.5 -12.8l0.3 7.9M-9.5 -15.0l3.3 5.9M25.1 -26.6l-1.4 7.0M-38.4 -8.7l0.3 8.0M26.8 9.2l-0.9 8.6M-24.7 -20.2l-1.8 6.6M15.8 -5.2l3.1 2.6M68.0 13.8l6.5 5.4M42.9 14.2l3.1 5.1M34.9 -9.4l-1.8 3.7M1.2 -4.7l-1.1 3.0M29.6 -14.9l-1.2 6.4M30.5 13.7l-1.0 5.4M-25.4 -23.0l0.6 3.1M-65.2 -0.6l0.8 7.7M59.5 13.6l-2.4 5.6M10.1 19.6l2.1 8.1M-4.8 16.1l2.3 4.1M-28.1 7.7l3.7 0.2M-17.9 16.3l1.2 6.3M30.4 -16.4l-2.7 6.4M24.0 7.4l2.7 7.6M-58.8 -10.2l-1.1 7.0M56.0 22.7l0.8 6.0M0.7 18.4l1.2 3.1M57.2 -11.1l1.7 4.3M56.6 16.6l0.5 3.1M-28.5 18.3l-2.5 6.0M-63.5 9.4l-3.6 8.1M53.5 -0.7l0.2 4.0M24.2 7.4l1.1 8.8M55.8 -5.9l-5.4 1.4M46.7 27.0l2.8 4.3M29.4 21.8l1.3 6.3M43.6 -27.8l-0.9 5.2M25.9 -17.3l0.2 3.3M-14.3 -24.6l-1.0 6.8M-34.8 -11.8l-3.1 1.5M68.6 -12.2l3.6 1.2M-23.6 6.2l3.9 2.7M5.4 -12.9l0.4 4.4M-55.8 -10.1l2.8 5.6M17.5 14.1l-1.8 6.2M61.3 -5.1l0.1 3.4M23.8 16.1l-1.1 6.1"/><path stroke="#666" stroke-width="0.75" d="M-10.4 -18.1l-2.9 8.3M12.5 9.8l3.3 3.6M-28.3 16.7l-1.7 8.2M46.4 4.1l0.8 4.8M62.2 -17.4l2.6 5.2M-45.4 4.1l-0.0 7.5M58.6 -20.0l-2.7 6.0M-24.3 15.3l0.9 7.7M-11.3 -2.4l0.6 4.1M56.5 -7.2l5.0 1.9M57.9 21.9l-1.6 5.2M8.3 -26.5l1.2 2.8M-37.2 -21.8l-0.5 3.4M46.5 -8.0l5.3 1.1M14.9 -19.7l4.1 4.4M17.7 7.5l-3.4 6.4M25.4 24.1l0.5 8.6M36.1 20.5l1.2 8.4M62.3 -4.8l-1.4 3.4M-15.9 4.2l1.6 4.6M-48.1 5.3l1.3 4.5M-56.4 20.8l-3.9 3.6M30.6 -8.2l-2.5 7.2M-17.6 24.6l2.3 4.0M-24.5 21.6l0.0 4.5M23.4 0.7l0.6 5.0M-34.5 27.7l2.0 6.0M7.3 23.7l1.6 8.2M-9.8 -18.9l2.5 8.1M-24.9 18.2l0.3 5.4M-29.6 9.4l-0.7 4.4M-35.5 -19.5l5.9 5.2M22.1 13.8l-0.1 6.6M55.6 -22.7l0.4 4.2M-23.1 9.1l1.2 2.8M35.3 0.4l-0.2 4.2M-63.9 -4.1l0.7 4.4M64.1 -20.2l2.4 5.0M-55.6 26.6l2.4 8.0M-28.0 -14.7l0.1 4.2M-8.6 -6.6l4.3 2.7M15.5 16.5l-1.9 5.3M32.8 -25.7l-0.0 7.1M32.8 -14.5l-1.9 7.1M-21.3 17.0l2.3 8.4M19.5 20.1l-1.6 4.4M-24.3 16.0l-2.8 3.3M66.3 6.7l2.2 4.8M59.3 25.9l0.8 6.8M1.7 9.0l6.0 5.6M-51.9 -27.5l1.0 8.0M-48.1 -9.1l-1.5 7.8M37.7 -3.2l1.1 6.9M43.7 -14.0l-1.1 7.7M37.4 6.5l0.3 6.7M49.9 18.8l-2.8 3.8M-37.0 -25.2l1.8 5.7M-66.8 9.1l7.0 5.2M-6.0 -11.1l-2.8 2.9M-45.0 25.8l0.6 7.4M-22.5 -11.4l-1.8 5.5M13.1 -21.6l-1.9 7.4M-6.0 -26.2l2.1 7.4M-24.6 8.1l-0.7 5.3M-5.6 -17.7l-0.3 4.3M-49.8 -25.3l-1.4 8.8M-35.1 -6.7l0.7 6.2M-14.1 -9.4l-3.5 7.3M-17.3 -11.3l-3.9 2.1M60.8 2.1l7.9 2.9M15.5 8.9l-3.4 1.6"/><path stroke="#2e2e2e" stroke-width="0.5" d="M-7.1 -7.3l-2.0 6.1M14.1 4.8l1.2 3.4M59.2 7.9l-2.6 5.2M-63.0 -14.6l-3.4 5.0M41.5 -13.9l2.3 8.4M-51.4 22.5l1.0 6.9M-44.4 13.7l-3.8 7.5M34.0 -14.8l4.3 6.4M58.3 -27.6l-3.9 5.2M-15.0 -26.5l-0.2 4.9M-37.9 12.3l-2.5 5.4M-20.5 -25.7l0.4 5.2M-38.5 5.5l2.2 6.8M13.1 -9.1l-0.2 3.6M40.0 20.3l-0.1 4.4M19.3 10.1l-2.7 7.1M-50.6 -11.5l-4.7 6.9M62.4 14.0l2.2 3.6M40.2 -22.1l4.0 0.9M-38.8 0.4l-2.1 7.2M6.4 -13.0l-2.6 2.7M-0.4 -1.2l0.3 5.2M-19.9 -13.1l1.3 3.8M-21.9 -12.5l-1.0 4.1M-2.8 24.4l0.3 4.5M-38.4 -22.9l-4.4 6.2M49.9 25.0l-6.2 0.6"/></g><g stroke-linecap="round" fill="none"><path stroke="#2a2a2a" stroke-width="0.75" d="M-51.5 27.6l-5.7 5.1M14.3 -29.6l-2.3 -7.3M16.4 -28.4l0.7 -4.2M-2.7 25.6l1.9 6.8M65.2 22.6l6.0 2.9M-6.8 -27.0l1.3 -9.6M-67.4 -14.8l-8.1 -0.2M-64.2 21.2l-2.8 1.8M18.2 25.3l-0.3 3.9M3.8 26.1l1.1 7.0M-11.5 29.0l-1.4 8.6M68.1 -13.9l2.6 -2.5M20.9 29.2l-0.7 4.6M54.4 25.7l-0.3 3.2M28.3 -24.9l-0.3 -5.1M-61.8 -22.2l-6.4 -6.0M16.7 27.8l0.1 7.3M67.4 19.7l4.1 0.8M-10.6 -25.5l-0.8 -5.4M-58.4 25.7l-6.3 4.1M28.0 -27.9l-0.8 -6.0M69.7 15.6l4.3 3.2M12.1 27.9l1.6 7.1M-20.7 24.9l0.3 4.7M-44.1 27.5l-4.0 8.2M64.7 20.3l5.6 4.8M-31.3 -24.8l0.7 -10.5M24.1 28.7l-0.9 3.5M-24.1 -26.3l2.0 -9.2M-1.8 -25.0l-0.7 -4.9M-42.6 -27.8l-1.9 -9.2M9.1 25.6l0.1 4.0M13.1 -27.8l-0.8 -4.1M9.4 -27.1l3.1 -6.0M-60.5 -21.6l-6.1 -7.7M-5.5 26.8l0.6 3.3M-51.1 29.1l0.8 2.9M-67.9 4.6l-6.0 -0.5M4.0 25.2l0.6 10.5M16.5 26.8l-0.9 5.1M67.2 20.8l5.2 4.9M7.3 -28.1l1.5 -5.0M8.6 27.9l-1.9 9.1M28.4 -28.2l-0.0 -5.4M40.2 25.3l2.6 5.2M5.8 -24.9l-0.1 -4.2M62.7 26.5l2.2 2.5M-69.7 -7.4l-9.7 3.9M4.1 28.7l0.6 7.0M-67.7 -7.0l-7.8 -0.5M5.5 27.5l-0.0 5.8M32.4 27.8l0.5 5.9M-53.4 -26.5l0.9 -5.9M7.1 26.3l-1.0 9.5M-69.3 3.0l-8.1 -0.6M67.5 19.8l5.2 0.7M-4.7 -25.3l0.2 -8.1M-58.7 26.8l-2.9 5.4M9.0 -28.6l-0.2 -5.5M23.5 -27.0l-0.1 -7.4M67.2 13.2l9.6 -2.3M-12.0 29.6l-1.8 8.3M-25.5 27.7l-0.7 5.8"/><path stroke="#3a3a3a" stroke-width="1.0" d="M-26.5 27.4l0.7 4.6M0.9 -28.1l1.3 -4.4M-34.0 -27.4l-2.1 -9.8M-41.4 28.6l1.1 5.6M64.1 -18.8l7.0 -1.1M26.6 28.1l-1.0 4.8M-52.3 28.1l-6.2 3.5M17.2 24.6l-2.8 9.3M-20.5 -28.8l-0.1 -10.3M37.7 29.0l-2.0 7.9M5.0 -28.8l0.4 -4.4M64.1 22.6l3.6 2.3M65.5 -19.7l5.5 1.1M-70.8 -4.6l-6.1 -2.6M33.8 -26.4l1.3 -7.3M17.2 25.3l1.6 4.3M-28.6 25.7l-0.9 3.1M-41.4 28.5l1.3 5.1M-69.9 -1.6l-5.6 0.8M-26.7 -25.0l-1.4 -7.8M-13.2 -27.0l2.6 -4.2M9.7 29.4l0.3 6.3M-50.7 -28.1l-3.1 -2.0M68.3 14.9l6.9 8.1M23.9 -29.0l0.6 -10.0M-64.0 -21.6l-2.8 -3.7M66.1 -17.6l4.2 -8.8M32.2 25.7l-1.5 6.2M42.7 28.5l0.8 3.9M55.4 25.2l-0.8 4.7M18.5 -28.3l-2.6 -8.1M-6.7 -24.5l-0.4 -4.3M-4.8 29.5l-0.9 10.9M25.3 29.4l1.2 4.6M-59.8 23.9l-1.9 2.7M26.8 24.8l-0.9 6.0M58.5 29.2l8.0 6.5M68.4 -19.0l7.4 1.2M-5.1 26.0l0.3 6.6M-18.6 -29.1l0.2 -5.9M69.0 11.7l7.7 7.1"/><path stroke="#2a2a2a" stroke-width="1.0" d="M1.0 -28.1l-0.5 -5.6M9.5 24.9l0.9 3.9M-15.2 27.6l0.2 5.6M-9.8 -28.3l-0.2 -6.7M-71.4 -4.7l-9.3 -3.5M-52.9 -27.9l-5.8 -4.1M-50.1 -26.8l-3.8 -4.3M-68.7 13.9l-10.5 2.0M26.7 -27.7l1.6 -6.5M8.2 26.3l-0.5 3.3M15.2 -27.5l0.3 -3.6M34.0 -29.3l0.6 -6.9M-63.5 -19.5l-7.4 -8.1M-65.7 17.5l-4.3 5.8M55.5 -28.6l0.8 -3.9M-68.7 -15.0l-5.9 -4.3M-10.4 -26.1l-0.0 -4.3M24.2 26.3l-1.4 9.3M11.5 -26.3l2.6 -10.3M-28.2 -29.3l3.3 -9.0M28.4 29.2l1.4 7.3M5.9 25.9l0.4 7.2M-0.5 -27.3l-1.7 -3.3M-0.3 -28.3l1.7 -10.3M16.7 25.9l0.2 9.2M69.5 -14.4l6.1 0.2M-19.3 28.2l0.7 9.4M2.2 29.6l0.1 7.8M66.8 10.1l6.6 0.3M-69.7 0.8l-8.5 -0.6"/><path stroke="#4c4c4c" stroke-width="1.0" d="M-33.6 -29.5l2.9 -8.0M18.5 28.4l-3.9 5.2M-2.7 28.5l-1.0 6.3M-12.5 -27.4l2.0 -5.8M48.7 -28.7l0.2 -3.1M16.7 25.3l0.6 10.4M-17.0 -29.4l1.6 -5.6M20.3 25.2l-1.0 7.9M-41.6 -29.3l-0.2 -8.6M57.8 -27.4l4.9 -4.9M61.9 -23.4l7.7 -7.0M8.5 26.0l-3.2 8.4M66.8 -10.7l8.8 0.5M-15.4 27.1l-1.3 7.3M55.5 -29.7l-0.2 -3.6M-15.0 27.4l-0.4 3.3M1.2 29.7l0.6 4.2M-18.1 27.4l-2.4 7.3M-57.8 -25.3l-3.2 -3.2M-1.7 -27.0l-2.2 -9.6M21.0 27.1l-0.2 3.8M-8.0 -29.7l-0.6 -9.4M-69.0 6.0l-5.3 0.7M-4.4 26.3l0.3 5.0M-57.1 -24.4l-7.2 -7.4M-66.2 15.0l-4.2 4.0M69.0 9.6l4.8 0.6M63.5 22.1l6.4 8.7M58.9 -28.0l5.2 -7.8M8.3 -27.5l-0.5 -4.6M-36.3 29.0l-1.0 10.0M11.2 -29.7l-1.1 -10.9M-17.3 27.1l-1.7 8.4M-56.5 -26.2l-4.2 -5.9M59.9 25.9l3.0 3.7"/><path stroke="#4c4c4c" stroke-width="0.75" d="M-69.0 8.6l-3.9 3.6M-6.4 25.3l1.2 9.4M-32.6 -25.8l0.2 -3.8M-32.4 29.6l0.7 3.0M-14.9 24.6l-1.1 8.0M-22.2 -24.8l-0.6 -7.9M37.6 29.5l1.8 6.4M22.2 -29.5l0.4 -4.0M0.5 -29.5l-0.6 -5.4M20.9 25.9l-0.6 4.7M-4.3 -26.6l-1.4 -5.7M-44.9 28.8l-1.0 4.2M37.8 -28.9l1.9 -4.8M-32.4 -27.7l0.1 -3.8M11.3 -25.4l-1.3 -9.3M20.8 28.5l1.6 9.2M-0.2 25.1l0.5 9.4M49.7 29.0l-0.4 7.2M30.0 26.5l0.3 3.1M-4.7 -28.9l-0.2 -8.0M-67.7 8.4l-3.9 0.3M-7.1 -24.3l2.4 -9.9M-52.2 -27.1l2.5 -7.8M48.6 -27.2l-1.5 -7.4M67.1 -11.6l4.5 0.7M-67.5 12.0l-5.2 4.5M-71.6 -4.7l-4.2 0.4M28.7 24.6l0.9 3.3M-68.4 11.2l-4.8 9.5M-21.7 29.6l-0.9 3.9M12.4 25.6l-4.4 9.2M-64.7 -18.6l-2.3 -2.0M-2.7 29.2l-0.9 10.3M57.4 29.4l6.3 6.2M23.8 26.2l0.6 9.0M15.5 -27.0l0.2 -3.1M-67.0 -12.5l-2.2 -3.5M3.1 -25.7l2.5 -10.4M-3.7 29.4l0.8 3.3M8.3 27.8l0.3 5.5M-62.0 22.2l-3.6 3.4M-68.0 -3.6l-7.5 3.3M-68.8 6.8l-8.5 0.4M4.0 -26.5l0.2 -6.6M-67.0 18.5l-6.5 8.4M7.5 25.6l-0.4 6.6M-24.1 28.4l-0.5 8.4M-4.7 26.5l-0.6 7.6M-68.7 -8.9l-7.9 0.2M1.0 -30.0l0.8 -7.1M-60.2 -23.0l-2.2 -3.4M45.0 25.2l-0.0 9.4M-8.6 -25.4l-2.0 -10.0M-60.2 -23.6l-3.2 -5.9M69.8 -9.6l3.3 0.7M-64.8 -18.5l-5.8 -4.7M13.9 28.1l-0.3 7.1M20.1 26.3l-0.0 5.9M-59.8 -24.5l-4.5 -3.9M68.0 -9.9l5.0 -1.8M-13.8 27.4l-1.6 6.0M-1.8 27.3l-0.6 4.8M-42.8 27.8l-0.2 4.5M-50.0 29.8l-2.1 2.9M67.3 -11.9l4.9 -4.2M-9.1 27.7l1.7 8.5M2.3 -27.7l-0.6 -10.0M-2.2 26.6l0.9 3.4M61.6 -24.4l1.4 -4.5M19.0 26.5l1.5 7.0M29.9 26.8l0.9 9.4M-57.0 25.4l-5.4 6.4M64.9 -22.2l2.7 -3.1M-32.3 25.4l0.9 5.6M-53.6 27.3l0.4 4.7M-64.6 -16.3l-2.7 -3.9M-68.5 -13.6l-4.7 -0.9M25.2 -24.7l-2.1 -4.7M7.9 27.2l-0.6 9.7M-21.9 -26.6l1.5 -7.4M29.5 26.3l-1.0 7.5M48.6 -28.5l0.3 -5.7M-37.7 -28.9l0.2 -8.7M2.4 -27.7l0.1 -3.5M63.6 -22.0l5.3 -5.7M-15.4 -24.3l-0.2 -4.9M-10.0 24.5l1.3 10.3M-56.9 -25.2l-4.6 -9.2M19.0 27.0l-0.4 3.7M-70.0 -6.1l-7.6 0.1M-55.4 -26.0l-3.7 -2.0M-58.9 26.7l-8.1 6.4M-33.6 25.5l-0.6 3.5M-41.6 25.2l3.2 10.2M43.8 -28.3l-1.7 -2.9M17.0 -25.5l0.3 -5.1M64.4 23.6l4.6 5.7M-14.3 -27.0l-0.4 -6.5M-65.1 17.8l-4.3 2.7M-20.1 -27.0l-0.8 -8.9"/><path stroke="#3a3a3a" stroke-width="0.75" d="M9.2 -25.0l-1.0 -7.3M-60.1 22.4l-1.0 3.2M15.4 27.0l2.1 9.1M-36.7 -27.3l-1.5 -5.4M-69.8 -5.2l-6.3 0.4M52.2 26.0l0.4 3.5M6.7 25.7l-0.3 3.2M61.5 -24.7l3.9 -6.9M16.0 -28.2l1.6 -9.8M-20.8 25.3l0.1 10.7M-8.2 29.1l-1.4 6.5M-9.9 26.1l0.7 9.4M-0.6 25.4l-1.4 9.9M-69.2 -9.3l-2.8 -4.8M-69.2 14.3l-2.8 1.4M44.9 -25.5l1.4 -9.6M26.8 26.4l-0.8 6.9M23.4 27.1l-0.1 8.8M-69.1 11.1l-6.0 9.2M67.4 -12.0l5.7 -9.3M1.7 -27.1l0.4 -7.6M-18.7 28.2l-0.2 7.3M17.1 -27.3l-0.9 -8.3M1.0 -27.8l0.5 -6.6M36.2 -27.6l-1.8 -7.3M63.8 23.2l9.0 5.8M11.9 25.1l2.4 8.4M-71.0 8.7l-5.5 -2.7M-70.5 4.0l-6.2 0.2M-9.0 -26.1l-0.6 -6.4M-9.2 -28.4l-3.1 -10.1M18.2 -26.3l1.0 -8.8M-68.6 8.2l-4.8 1.1M-38.9 -28.1l0.8 -3.6M-14.7 24.8l-0.0 3.0M24.1 28.7l-0.0 8.0M-25.6 -26.4l-1.5 -7.7M50.9 -26.2l-0.7 -3.0M-69.3 3.0l-6.7 1.8M68.3 -12.9l9.7 0.7M-6.4 25.3l1.9 9.7M20.3 29.3l-1.4 9.5M-28.1 26.8l-1.7 7.1M8.8 26.2l-1.4 10.9M-16.8 29.2l1.1 7.0M-64.5 -22.4l-3.1 -3.2M16.9 27.3l1.0 5.8M-32.3 26.7l1.3 4.0M36.4 29.5l-2.0 7.7M2.3 29.5l0.1 9.2M-10.1 28.9l0.2 3.9M-61.9 -20.6l-6.9 -7.1M-6.6 24.8l-0.5 6.0M-42.7 25.6l0.4 3.2M-20.5 28.7l-1.0 4.5M55.6 24.8l0.6 9.6M-2.1 -26.9l1.3 -3.8M-5.5 28.5l-2.0 7.1M25.1 -26.9l1.5 -9.6M6.7 -29.0l-0.0 -8.2M66.5 14.5l3.3 -0.4M13.9 -26.1l0.8 -9.8M-6.6 -27.1l1.3 -6.7M12.1 28.1l1.7 10.3M-21.0 -26.5l3.0 -10.0M10.6 -24.6l-0.1 -8.1M22.5 24.4l-0.9 6.3M-5.8 -25.7l0.5 -3.1M-30.8 -25.9l-2.0 -10.3M-4.4 -27.6l1.2 -7.4M12.9 29.1l-1.3 9.5M-54.7 28.1l-5.0 8.3M4.5 28.7l0.9 9.5M-25.7 -26.9l-2.0 -5.5M-63.2 -23.0l-4.2 -7.3M57.9 -26.4l-0.6 -2.9M-12.0 29.2l1.8 5.5"/><path stroke="#606060" stroke-width="1.0" d="M32.7 -27.8l-0.6 -3.9M-33.9 26.8l1.3 5.0M-18.3 -27.9l-0.7 -5.1M52.1 26.6l0.1 3.9M-70.7 -7.9l-6.2 0.1M-17.3 -26.0l-0.8 -9.3M22.3 25.7l-1.6 9.8M-6.7 -26.5l0.6 -4.6M-62.5 -20.0l-8.2 -7.0M67.2 14.4l5.3 0.3M-10.6 26.3l-0.3 6.1M-8.2 -28.3l-3.3 -7.1M-29.5 -29.1l2.1 -9.1M-18.3 -25.7l0.0 -3.1M-10.1 28.9l1.8 4.2M42.8 -29.2l0.4 -11.0M68.5 12.2l10.1 -2.6M-1.0 -25.9l-0.6 -6.1M22.6 26.2l-0.4 6.4M25.3 27.8l-1.0 4.2M-25.7 27.7l4.0 8.8M-66.7 -17.7l-4.4 0.4M48.5 29.0l-0.1 5.2M-13.0 27.6l-0.9 6.2M26.5 -29.4l0.1 -6.8M-10.5 -28.0l0.1 -7.5M-49.9 25.4l1.5 4.4M-47.3 -25.7l-0.7 -5.2M-71.0 9.5l-5.2 7.1M-6.8 -25.7l0.8 -8.3M-21.9 -28.1l-0.8 -4.5M-60.1 -21.5l-5.1 -2.8M-8.8 -28.9l1.6 -9.0M-25.4 -27.6l2.8 -8.3M61.6 25.1l8.7 5.8M6.6 26.4l0.1 3.8M-69.3 -9.0l-4.2 -3.9M67.5 21.4l7.6 6.8"/><path stroke="#2a2a2a" stroke-width="0.5" d="M-47.3 -26.1l0.2 -7.5M8.3 -29.0l0.7 -9.8M-14.3 28.3l0.5 6.3M-18.8 26.9l-2.2 10.4M62.7 -25.4l2.0 -2.5M49.9 28.5l-0.5 5.6M61.7 -27.2l5.7 -4.0M2.6 29.5l-0.4 5.6M-1.2 -27.2l-1.5 -6.6M-33.7 -24.9l1.6 -10.4M-67.5 -2.7l-7.7 -0.1M69.8 11.6l5.4 0.2M46.4 -25.7l0.6 -4.9M-3.7 24.9l-1.1 7.9M-13.8 28.4l-0.5 4.2M-54.6 -25.9l-8.2 -2.4M-18.7 28.9l0.6 7.1M20.8 -24.9l1.4 -6.5M5.6 26.0l0.1 6.1M-69.5 -8.9l-10.9 1.4M-32.4 -27.1l0.0 -10.0M-14.6 -27.8l-1.6 -8.3M64.2 20.6l5.8 5.8M16.8 27.6l-0.0 4.8M-10.5 25.5l0.4 3.0M66.5 -19.4l4.5 -4.2M-42.8 29.2l-1.0 7.3"/><path stroke="#606060" stroke-width="0.5" d="M-7.4 25.9l1.2 6.2M-71.0 -8.2l-8.0 1.0M0.3 -26.2l0.9 -8.9M-13.3 -25.0l-3.7 -8.4M-9.6 -28.7l1.4 -9.6M5.8 29.0l2.3 5.4M-58.1 23.6l-7.3 6.4M23.4 -25.4l-0.7 -4.6M-29.4 -29.2l-1.4 -3.2M36.6 26.0l0.4 5.4M-25.1 29.6l1.3 10.1M67.9 13.4l7.9 -2.1M66.7 15.5l5.2 3.9M22.4 -29.4l0.2 -5.2M-15.0 -25.8l-1.0 -8.5M-67.6 16.5l-3.7 4.8M-14.9 27.5l1.3 7.8M-1.0 -29.2l-0.5 -3.7M-15.3 -25.2l2.9 -5.8M-50.2 -26.5l-4.3 -6.4M6.7 28.0l-2.5 7.7M-67.1 -0.4l-7.3 -0.0M-68.0 8.7l-2.2 3.0M4.0 27.8l-2.4 6.3M-52.1 27.6l-1.5 8.7M52.2 -27.5l0.8 -4.4M-36.2 -28.9l-2.0 -4.9M28.3 25.8l1.2 5.5M6.2 28.5l0.6 8.8M6.7 -27.3l-0.4 -6.0M-4.0 27.8l-0.2 10.9M-42.8 29.0l-0.9 7.3M-6.5 25.1l0.1 5.4M-4.7 27.9l-0.1 7.7M3.0 29.2l-0.3 8.6M-10.4 -28.0l0.4 -4.9M46.4 -26.4l-1.2 -9.0M-69.7 -5.5l-4.7 -0.2M31.1 -25.0l0.8 -3.5M-68.0 9.0l-3.5 4.8M31.0 26.1l-0.7 5.8M-59.3 -22.3l-5.9 -8.4M41.6 28.3l1.5 10.8"/><path stroke="#4c4c4c" stroke-width="0.5" d="M-42.8 27.5l0.3 9.2M-64.0 22.1l-6.5 7.4M-40.4 -25.5l0.5 -9.1M32.3 -29.4l-1.0 -3.6M49.7 27.7l0.8 6.3M9.8 28.4l0.7 5.0M-2.5 -28.6l-1.2 -6.3M-2.0 27.1l1.4 5.5M-70.6 -11.9l-4.8 -5.6M-14.4 26.1l2.0 8.5M-17.1 24.6l-1.3 5.8M-70.9 11.4l-7.9 5.5M-65.4 -14.6l-6.2 -0.4M-10.0 -26.7l-0.8 -9.7M-39.1 25.2l1.6 5.4M65.9 -20.1l3.8 -3.0M-5.3 -24.6l-0.0 -6.8M-20.0 28.9l1.0 6.2M-23.6 -25.9l1.8 -8.5M-60.7 19.7l-7.5 7.0M-57.9 -25.0l-3.6 -5.0M37.6 -29.3l0.8 -9.4M6.7 -26.1l-0.0 -10.8M28.0 -26.5l0.8 -6.0M36.7 25.4l-1.4 4.4M48.6 -25.3l-1.6 -7.4M-8.8 -25.8l-1.2 -5.1M29.8 -26.9l0.9 -7.7"/><path stroke="#606060" stroke-width="0.75" d="M-3.8 29.7l1.7 9.2M5.5 26.1l0.5 3.6M-68.0 13.2l-7.1 6.9M29.6 -25.0l-0.0 -7.3M16.7 28.7l-1.2 9.8M-35.3 -27.2l1.6 -9.8M-48.8 -26.7l-2.5 -2.3M10.8 -27.6l-0.1 -7.8M-9.2 24.7l-1.2 5.0M26.6 -28.6l-0.9 -5.5M42.5 -28.0l1.2 -5.0M-20.2 27.0l-0.5 6.9M-6.4 -26.5l3.6 -10.1M61.0 -24.0l3.1 -2.6M30.0 29.4l0.0 4.0M42.7 -24.9l2.9 -9.3M7.3 -27.7l-1.1 -3.0M-23.9 -24.6l1.6 -10.7M-1.7 28.4l-0.7 3.4M-61.9 23.0l-3.0 1.6M-29.7 -28.9l1.9 -5.9M-60.7 -24.3l-3.2 -3.9M-18.3 -25.7l-2.6 -4.7M-18.8 -24.9l0.8 -5.4M41.3 25.1l0.4 6.5M48.5 27.8l0.1 7.5M8.0 26.3l0.1 5.0M18.6 25.6l-1.8 5.4M4.3 -25.5l0.5 -7.1M5.6 -25.3l-1.0 -8.2M-12.6 -26.7l-0.2 -10.6M53.3 27.5l-1.2 5.1M-65.1 17.9l-5.4 4.8M31.1 26.2l-0.0 5.1M-15.0 -28.2l-0.3 -6.3M16.6 28.8l2.0 7.1M-45.0 -27.8l1.3 -9.7M38.9 29.6l0.9 3.7M-7.2 25.4l0.4 3.1M-12.7 26.9l0.6 3.6M68.1 -18.0l4.4 -6.1M-67.4 6.5l-3.7 -0.1M36.3 27.1l-3.0 7.6M7.0 -26.9l-2.7 -8.8M-66.9 7.5l-4.7 0.0M16.2 -28.7l-1.8 -10.1M-69.2 -10.7l-6.0 -5.1M21.0 -25.8l-1.0 -9.6M-55.8 23.7l-1.8 4.7M-5.1 -28.5l0.9 -4.1M10.5 25.8l-3.2 6.6M-12.8 -25.8l1.6 -4.8M-7.5 24.4l0.1 7.4M28.2 -26.6l0.2 -8.0M-6.1 27.6l1.6 3.6M5.4 -28.9l0.3 -4.4M-9.1 27.4l0.0 5.6M56.9 -28.7l8.5 -6.6M-5.8 28.6l-0.4 3.3M14.8 26.5l-0.7 9.6M-52.2 27.6l-2.4 7.8M-66.8 -16.7l-3.8 -4.0M-67.7 -4.1l-10.6 -2.8M18.4 25.4l-0.1 5.0M-62.3 21.0l-2.9 2.5M-54.5 26.8l-5.3 5.4M20.0 -28.8l0.6 -8.0M5.5 28.1l1.8 6.3M-2.7 -25.1l-2.3 -9.1M-23.5 25.4l1.0 7.8M51.0 -25.5l0.8 -8.9M23.8 25.9l-0.1 3.6M-12.6 26.2l0.8 3.4M-52.1 -28.5l0.8 -10.0M9.9 28.3l1.7 9.1M14.9 25.3l-3.0 7.9M-6.7 -27.2l0.5 -5.0M57.9 26.2l3.7 5.5M0.6 -28.4l0.9 -8.3M-69.4 -14.5l-8.5 -1.7M-16.2 27.3l0.2 9.6M59.6 -25.7l4.9 -4.8M-20.1 -28.8l2.6 -7.5M66.2 19.1l8.8 6.1M-8.0 -28.1l-0.0 -4.0M65.3 -23.8l4.3 -3.1"/><path stroke="#3a3a3a" stroke-width="0.5" d="M69.8 13.9l2.2 2.5M40.1 -26.1l1.6 -10.7M46.2 29.8l-0.9 3.9M56.8 -24.6l0.2 -9.4M26.8 -27.0l0.4 -6.3M65.9 13.5l6.6 -0.7M23.7 25.7l1.4 4.5M37.6 -25.7l-0.1 -7.2M14.2 -29.8l-1.7 -10.8M23.7 29.6l-0.5 7.5M-1.4 -29.7l-1.1 -6.1M-12.1 27.6l0.6 4.4M-4.6 26.8l-0.2 8.2M-57.6 -24.4l0.9 -4.9M23.6 -25.9l-1.8 -7.8M62.8 -24.8l2.5 -5.7M24.0 -26.8l-1.5 -9.1M-5.7 27.2l1.5 10.4M-4.3 -28.9l-1.2 -3.9M4.3 29.1l0.5 6.4M-22.3 27.0l0.7 7.8M-37.6 28.5l0.2 5.7M-54.7 28.3l1.4 6.8M-28.1 26.7l1.4 8.5M-53.2 27.5l-3.8 3.0M-22.6 26.4l0.4 3.1M5.0 -25.3l-1.7 -9.0M62.2 -25.6l3.8 -4.0M-12.7 28.2l0.9 9.3M49.7 28.4l-2.3 7.6M23.6 -27.0l0.7 -4.4M-17.1 25.1l-0.3 5.3M-64.5 17.8l-5.3 -1.0M-52.3 -27.7l0.4 -3.2M-64.8 19.5l-4.6 6.0M-17.4 -24.9l2.4 -9.4M3.8 29.1l2.1 8.0M34.0 27.0l-1.1 3.6M-65.0 19.7l-3.5 2.0M-7.0 27.1l-1.8 4.5M17.0 26.6l3.6 9.6M-29.8 -25.9l1.6 -4.7M-6.9 25.1l-0.3 9.5M24.2 -26.6l-0.1 -10.7M3.3 -26.5l0.4 -3.6M-5.2 28.5l0.3 3.1M-37.6 26.8l-0.1 7.9M-14.8 -25.1l1.7 -9.4"/></g><g stroke-linecap="round" fill="none"><path stroke="#555" stroke-width="0.75" d="M-56.2 0.0l-13.7 16.0M-56.2 0.0l-0.6 -17.7M-56.2 0.0l-25.4 -22.7M-56.2 0.0l-23.0 30.6M-56.2 0.0l-18.6 -1.6M-56.2 0.0l-22.9 -23.2M-56.2 0.0l-23.6 15.3M-56.2 0.0l-15.8 11.1M-56.2 0.0l-9.6 20.9"/><path stroke="#555" stroke-width="0.5" d="M-56.2 0.0l-29.1 19.5M-56.2 0.0l-5.0 -28.0M-56.2 0.0l-29.7 -14.9M-56.2 0.0l-9.8 -22.4M-56.2 0.0l-22.0 -25.1M-56.2 0.0l-3.1 -18.9M-56.2 0.0l-28.8 -30.0M-56.2 0.0l-14.7 -32.2M-56.2 0.0l-7.4 13.9"/><path stroke="#444" stroke-width="1.0" d="M-56.2 0.0l-15.3 -3.2M-56.2 0.0l-11.0 -18.7M-56.2 0.0l-22.2 -32.8M-56.2 0.0l-23.9 30.4M-56.2 0.0l-15.7 12.7M-56.2 0.0l-18.4 -8.9M-56.2 0.0l-22.8 26.0M-56.2 0.0l-34.3 13.9M-56.2 0.0l-27.6 -6.7M-56.2 0.0l-1.9 21.4M-56.2 0.0l-18.6 -0.4M-56.2 0.0l-6.0 23.5M-56.2 0.0l-12.1 9.5M-56.2 0.0l-2.9 23.7"/><path stroke="#2a2a2a" stroke-width="0.75" d="M-56.2 0.0l-3.3 18.2M-56.2 0.0l-4.9 -22.0M-56.2 0.0l-5.4 -27.2M-56.2 0.0l-3.5 18.6M-56.2 0.0l-17.5 34.0M-56.2 0.0l-17.9 -29.7M-56.2 0.0l-15.3 -5.0M-56.2 0.0l-20.9 -8.5M-56.2 0.0l-15.5 10.9M-56.2 0.0l-4.8 -20.0M-56.2 0.0l-7.1 -44.0M-56.2 0.0l-22.8 -32.6M-56.2 0.0l-16.7 -21.9M-56.2 0.0l-26.6 4.5M-56.2 0.0l-27.4 -2.6"/><path stroke="#2a2a2a" stroke-width="0.5" d="M-56.2 0.0l-12.9 45.9M-56.2 0.0l0.5 -31.1M-56.2 0.0l-12.8 17.6M-56.2 0.0l-12.6 3.1M-56.2 0.0l-32.1 11.3M-56.2 0.0l-28.2 23.5M-56.2 0.0l-16.8 -9.4M-56.2 0.0l-11.5 9.5"/><path stroke="#2a2a2a" stroke-width="1.0" d="M-56.2 0.0l-2.8 18.7M-56.2 0.0l-5.0 16.8M-56.2 0.0l-24.9 -35.2M-56.2 0.0l-29.8 21.9M-56.2 0.0l-31.2 3.0M-56.2 0.0l-9.2 18.4M-56.2 0.0l-10.3 -25.4M-56.2 0.0l-17.3 31.1M-56.2 0.0l-4.7 19.7M-56.2 0.0l-19.2 12.6M-56.2 0.0l-11.0 -18.7M-56.2 0.0l-26.5 -30.1M-56.2 0.0l-7.5 16.5M-56.2 0.0l-19.4 41.1M-56.2 0.0l-5.1 -19.1M-56.2 0.0l-16.7 3.8"/><path stroke="#444" stroke-width="0.75" d="M-56.2 0.0l-17.0 16.8M-56.2 0.0l-10.0 -13.1M-56.2 0.0l-19.7 20.3M-56.2 0.0l-16.2 18.5M-56.2 0.0l-9.2 24.8M-56.2 0.0l-19.1 22.6M-56.2 0.0l-31.3 -13.1M-56.2 0.0l-5.3 -37.5M-56.2 0.0l-7.3 -40.6M-56.2 0.0l-14.4 10.1M-56.2 0.0l-29.4 12.0M-56.2 0.0l-7.5 16.9M-56.2 0.0l3.3 -34.8M-56.2 0.0l-6.6 32.6M-56.2 0.0l-14.0 -25.7M-56.2 0.0l-35.9 11.0M-56.2 0.0l-26.6 -20.0"/><path stroke="#555" stroke-width="1.0" d="M-56.2 0.0l-9.6 21.0M-56.2 0.0l-2.9 -24.8M-56.2 0.0l-12.4 0.8M-56.2 0.0l-12.1 -42.8M-56.2 0.0l-13.7 35.1M-56.2 0.0l-11.9 11.9M-56.2 0.0l-13.2 23.2M-56.2 0.0l-20.7 -37.8M-56.2 0.0l1.4 -47.9M-56.2 0.0l-18.8 16.4M-56.2 0.0l0.5 -25.0M-56.2 0.0l-8.4 12.5M-56.2 0.0l-4.0 20.6M-56.2 0.0l-13.0 -31.6M-56.2 0.0l-26.7 -14.3M-56.2 0.0l-17.6 7.8M-56.2 0.0l1.9 -31.3"/><path stroke="#444" stroke-width="0.5" d="M-56.2 0.0l-22.0 24.8M-56.2 0.0l-19.0 -23.3M-56.2 0.0l-22.3 18.2M-56.2 0.0l-0.7 -23.1M-56.2 0.0l-19.0 -23.4"/></g><ellipse cx="-54.2" cy="0" rx="4.5" ry="3" fill="#c0c0c0"/></g><g transform="translate(1095,391) rotate(-47)"><defs><linearGradient id="hbr3" x1="0" y1="0" x2="0" y2="1"><stop offset="0" stop-color="#6a6068"/><stop offset="0.3" stop-color="#cfcfcf"/><stop offset="0.6" stop-color="#8a8a8a"/><stop offset="1" stop-color="#4a4a4a"/></linearGradient><linearGradient id="bbr3" x1="0" y1="0" x2="0" y2="1"><stop offset="0" stop-color="#b38f42"/><stop offset="0.5" stop-color="#c9a550"/><stop offset="1" stop-color="#dcc07a"/></linearGradient></defs><rect x="50.8" y="-7.0" width="39.2" height="14" rx="4.2" fill="url(#hbr3)"/><ellipse cx="87.0" cy="0" rx="3.5" ry="6.5" fill="#c8c8c8"/><path d="M-40.0,-41.0 L44.0,-41.0 A22.0,41.0 0 0 1 44.0,41.0 L-40.0,41.0 A26.0,41.0 0 0 1 -40.0,-41.0 Z" fill="url(#bbr3)"/><g stroke-linecap="round" fill="none"><path stroke="#a88840" stroke-width="1.0" d="M-36.7 4.0l1.3 3.1M46.7 6.7l1.1 4.9M-31.0 -0.9l2.4 8.4M47.1 6.7l3.8 7.0M-19.5 -27.8l-1.0 3.6M56.2 13.7l2.0 8.7M62.2 -14.5l3.0 5.3M-44.6 4.8l0.6 4.6M48.8 -4.7l-0.7 5.4M-13.5 -29.9l-1.0 5.9M-56.8 -2.3l0.9 3.6M-21.7 -36.6l-1.3 2.7M-4.6 23.3l-1.7 7.9M-33.4 15.5l0.2 3.2M-12.1 35.9l-3.8 6.1M-53.9 -18.4l-3.7 7.8M-61.8 5.4l-0.2 3.1M41.3 -21.6l4.9 6.4M32.2 8.5l-1.5 4.0M28.3 -39.8l-7.5 4.1M56.9 27.1l1.0 6.4M-27.8 -8.5l1.9 8.5M11.8 19.4l2.5 5.0M8.4 28.2l0.1 6.6M4.2 7.9l4.1 6.4M0.4 26.0l4.0 8.0M-36.5 -11.2l5.0 7.1M-27.5 33.3l-0.3 3.1M3.7 20.9l0.7 5.3M14.9 21.9l0.6 8.8M9.5 -17.0l0.3 5.2M-4.2 -7.2l-2.4 5.2M0.5 -32.9l-5.3 6.9M-32.1 -25.7l3.1 4.8M-1.5 14.7l1.4 6.2M27.5 -37.7l2.7 6.3M-4.8 38.1l-1.1 3.8M17.2 -35.4l3.5 6.1M23.2 -18.5l0.7 3.4M-63.4 -8.4l-3.0 4.0M-21.2 -6.4l-2.5 7.9M-30.0 15.5l-0.7 4.0M-44.7 -1.7l-4.5 5.6M-34.0 14.3l-4.9 7.5M-8.5 -23.1l-2.9 8.4M48.6 38.3l-0.7 4.8M25.8 32.7l8.6 0.5M-3.1 -0.3l1.6 3.0M-29.5 39.7l1.1 8.0M-36.7 -15.0l4.9 2.5M-16.5 22.3l2.0 2.3M50.4 -11.5l-3.7 3.3M22.9 -17.6l4.4 6.1"/><path stroke="#eedeb0" stroke-width="0.75" d="M-4.3 4.6l2.1 7.0M-59.2 9.0l2.7 3.2M-32.0 -20.8l-1.0 5.5M49.6 -37.2l0.6 5.1M-62.6 11.5l4.8 7.3M-35.7 3.2l-1.1 3.2M-44.7 -38.0l-2.5 5.1M13.9 39.5l6.4 6.0M2.2 39.1l-0.9 7.6M38.4 -32.1l0.4 6.6M54.6 14.0l-0.9 4.9M-2.5 -28.0l0.4 5.0M15.7 38.8l5.7 6.2M24.5 37.1l2.7 2.7M-5.6 1.9l-8.0 3.8M26.0 2.3l6.0 1.8M-58.1 -24.1l0.2 8.1M49.1 -2.0l6.6 4.9M34.7 -18.8l1.3 4.9M7.3 -34.4l1.3 4.5M-26.0 39.7l0.9 8.6M25.3 -36.4l2.1 6.9M-0.1 -1.8l-1.0 2.9M-3.2 -26.8l-1.6 6.3M-11.0 6.9l-1.1 7.8M-52.0 -7.0l6.3 3.4M17.7 1.3l2.2 4.6M8.1 -34.5l-0.6 3.3M-17.5 -12.5l-2.5 5.3M-62.6 -10.9l1.3 7.4M-25.4 -18.6l2.8 7.7M8.4 -13.5l2.4 4.7M-20.1 21.9l-1.6 8.8M-2.0 14.3l0.8 4.3M62.2 2.4l-2.3 3.5M0.9 -4.2l2.1 7.6M14.6 21.9l8.5 2.2M-63.3 -4.1l2.4 4.2M-22.7 19.6l0.2 4.3M2.2 17.9l1.7 7.1M7.7 8.8l3.4 6.4M-35.2 29.2l-0.6 6.1M-41.4 7.2l0.5 8.5M32.6 38.5l2.3 7.1M9.0 -36.3l2.6 7.3M18.9 -35.9l-0.6 3.1M-44.2 15.1l1.1 6.1M-42.3 17.5l-0.3 6.2M-60.0 -16.2l-3.8 7.3M-32.7 15.8l0.6 6.5M35.0 3.9l2.7 5.4M27.0 -20.6l1.2 7.6M-9.7 11.0l-2.5 6.6M-35.9 10.4l-1.7 7.1M-10.9 38.9l-2.9 1.3M27.0 -8.4l3.8 7.1M21.6 -24.5l3.1 8.3M-30.0 -12.1l0.6 3.2M-14.2 2.7l1.9 4.1M19.1 -26.0l1.1 3.0M57.4 -26.3l-1.2 5.6M-32.7 26.7l-0.1 3.4M35.5 7.6l-3.0 7.1M29.3 15.6l-2.1 3.4M-32.1 -33.4l-0.9 7.2M42.9 32.9l-2.3 2.5M10.5 -13.6l0.9 8.6M6.8 -6.2l0.1 4.3M-48.1 -33.0l3.9 0.4"/><path stroke="#a88840" stroke-width="0.5" d="M50.5 -24.1l-0.9 2.9M56.5 17.4l-8.0 2.7M5.7 28.0l-0.3 8.3M20.6 -3.8l0.3 4.0M62.3 -4.7l5.8 1.3M-33.8 -11.7l-0.4 3.9M35.4 37.4l3.3 8.0M38.3 -8.4l-4.6 1.2M-17.7 -12.7l-6.0 6.1M18.1 -31.6l-0.9 8.7M-34.9 -21.3l1.3 4.9M41.3 25.1l1.1 7.4M-5.6 -5.9l0.1 7.6M10.3 -31.7l0.5 5.1M-64.1 -8.0l-1.3 5.4M-6.4 12.2l1.7 5.9M39.5 29.0l4.9 6.3M27.4 -23.2l0.4 5.0M-39.5 -11.5l3.4 0.9M53.7 -29.3l-1.3 6.6M23.3 -39.0l-8.4 2.8M31.8 -24.0l-3.2 5.5M-55.9 28.0l0.6 3.1M20.1 31.1l-0.2 7.9M-24.0 -0.0l2.2 7.6M13.0 17.0l1.1 6.7M27.0 -15.4l4.1 5.8M-16.2 27.8l1.0 6.7M-48.9 -13.0l-1.5 6.6M-7.8 5.3l-3.3 1.2M-6.0 27.4l0.5 4.2M-52.9 -8.7l-0.1 8.2M-37.4 -10.9l1.8 4.3M54.4 3.8l-1.7 2.8M-35.2 27.0l-3.3 1.5M-24.2 11.5l-7.3 4.9"/><path stroke="#eedeb0" stroke-width="1.0" d="M39.2 29.1l1.0 6.5M18.8 -18.9l-1.4 3.9M44.7 32.1l3.3 0.5M-16.8 -37.8l2.5 7.3M8.3 33.3l2.2 7.1M-13.9 34.9l3.0 5.2M12.6 16.3l-1.0 7.1M-41.7 -22.5l7.8 0.7M-5.0 20.5l0.6 5.0M-7.8 36.8l-1.9 3.8M-32.6 -33.3l-0.4 6.7M49.6 -10.4l1.7 3.9M57.8 11.8l6.2 3.3M50.4 7.6l-0.5 5.7M55.8 16.7l-2.1 4.6M-22.5 -27.3l-0.8 4.5M34.7 -26.5l-0.2 4.6M-41.9 38.0l0.7 8.4M-23.2 -18.8l-1.2 7.6M35.6 -5.8l2.8 5.4M19.7 2.7l5.9 5.9M33.9 31.3l6.9 1.9M-44.9 -2.4l-1.3 7.8M-2.0 -27.4l6.4 5.3M-27.8 12.2l-2.8 7.7M55.8 28.8l1.1 7.6M-25.8 -38.9l-2.0 7.0M3.8 -32.0l-1.1 4.5M-6.9 -16.5l-2.1 7.7M-1.8 37.2l1.5 5.9M-33.7 -38.0l3.0 4.0M24.6 -11.8l-0.3 4.1M-53.3 26.0l-2.2 7.8M-36.3 22.6l8.1 3.7M-0.5 -5.7l2.1 7.9M-36.6 -8.2l2.8 3.5M-29.7 -2.8l-1.8 3.3M5.8 -33.5l-2.4 6.4M11.3 -1.9l-7.8 0.1M4.1 -36.2l2.6 2.3M38.6 -17.0l0.5 7.8M-57.8 14.2l0.4 5.8M10.7 28.8l-6.2 2.5M-46.9 -17.0l4.3 5.2M27.4 3.1l3.1 6.1M48.4 25.3l1.3 5.8M48.2 -9.2l4.3 7.2M48.8 12.0l1.2 8.5M-26.9 5.0l-2.8 1.9M1.0 19.1l0.2 5.1M54.0 24.1l-1.7 5.3M60.9 1.9l-0.9 4.3M13.5 -30.6l-2.8 4.7M6.0 5.7l-1.7 4.2M34.2 23.8l0.6 4.4"/><path stroke="#c4a050" stroke-width="0.5" d="M59.0 -9.5l1.5 8.5M28.7 32.3l5.7 5.9M-57.3 26.9l-3.1 3.4M-17.6 24.5l4.2 5.6M52.1 -4.5l-3.3 3.7M42.9 8.8l8.2 2.7M34.3 -20.2l2.4 7.1M-31.0 -22.0l-3.0 5.4M7.0 -1.1l-0.9 7.2M-16.5 -35.4l1.3 8.8M-62.8 -7.4l1.4 6.5M-47.3 37.4l3.1 7.8M-14.6 -30.2l-5.5 6.8M-60.5 19.9l-0.5 4.1M44.6 28.6l0.7 7.2M-17.3 0.5l2.1 6.6M-8.4 -11.3l-0.8 6.4M-17.1 -2.9l2.3 5.4M29.5 23.7l0.7 3.1M54.9 -21.1l0.6 6.1M-45.4 -5.5l0.2 6.8M-22.1 -4.5l-1.6 4.1M-18.7 -28.5l-2.2 6.0M61.3 9.3l2.4 5.3M-19.2 -36.0l-0.3 5.8M-50.5 33.3l0.0 3.5M-43.2 19.5l-0.4 8.0M-33.0 14.4l1.1 3.4M21.8 -36.7l5.3 5.7M-39.2 -34.9l5.2 6.1M-23.8 -14.1l-3.3 7.8M60.7 -0.4l-1.7 2.8M-14.6 21.2l2.1 8.0"/><path stroke="#c4a050" stroke-width="0.75" d="M-51.0 -25.5l1.3 6.6M-17.1 -3.6l1.8 6.1M30.8 -23.6l3.2 8.3M16.2 11.9l1.9 6.8M-21.7 -33.3l-4.4 6.4M59.8 -25.0l-6.1 3.4M-51.0 26.3l0.8 3.2M-28.9 31.5l-2.0 4.9M-4.9 -25.0l-2.4 6.4M18.5 -18.6l-1.5 3.3M-64.7 -1.3l2.0 4.2M-35.6 -13.1l0.3 7.2M33.5 2.8l1.0 5.4M12.7 -25.3l0.5 6.4M28.4 24.4l3.4 6.3M-52.8 0.1l3.3 6.0M-9.6 33.1l2.0 4.4M53.9 -26.2l-0.2 7.4M-50.4 -26.7l2.1 6.2M4.0 -26.8l-0.9 6.1M-27.5 -29.4l1.9 7.6M-53.9 -7.3l4.4 2.2M18.9 11.1l-6.5 0.5M-8.2 -6.5l4.2 3.6M36.1 0.4l-6.5 3.4M-19.3 -0.0l0.7 7.0M-44.6 -36.2l-0.6 6.0M-50.7 24.9l6.1 2.5M6.3 -15.0l6.1 5.8M-45.1 -27.0l0.9 6.3M-43.1 1.5l0.5 4.9M-17.1 -35.5l-2.5 4.5M52.8 -7.8l-7.9 1.1M9.1 -1.1l4.1 5.4M-20.7 13.5l-0.4 7.7M-3.4 32.6l-1.5 4.7M-0.3 16.6l0.6 7.9M-19.7 22.3l-0.3 3.3M5.1 -5.1l-1.4 4.7M-62.3 17.3l2.3 6.2M-25.4 -26.3l5.4 3.7M-43.6 20.0l-2.2 6.0M12.1 26.7l7.2 3.7M60.5 -6.4l-2.2 7.7M59.0 -18.2l-1.6 6.0M-7.4 32.3l3.7 4.3M-57.3 -13.4l-3.9 5.3M46.2 4.8l4.4 0.0M24.3 -35.1l0.6 4.2M-31.7 21.7l0.2 6.8M49.6 0.8l-1.3 5.9M2.7 -39.7l1.2 5.7M20.6 -23.4l-1.5 4.9M44.5 -24.8l-3.0 7.5M-59.3 -21.4l3.5 6.6M6.6 -11.7l-0.1 7.1M4.9 20.6l3.3 2.3M-27.8 24.9l-1.5 8.6M60.8 -0.2l-1.0 3.5M-39.2 -3.9l-1.2 7.9M-13.2 19.3l-0.4 5.0M4.7 12.3l-1.0 4.6M-37.3 -5.3l-0.2 4.6M-46.0 -35.0l7.0 4.7M12.4 -15.6l-1.5 7.9M42.8 18.4l-6.1 5.6M18.7 -24.9l6.4 2.4M-3.7 23.8l1.4 4.2M-59.0 0.9l0.7 6.1M-39.7 -2.6l-2.8 4.8"/><path stroke="#e2ca8c" stroke-width="1.0" d="M-47.2 32.5l-6.1 1.9M-33.1 17.1l2.5 4.5M-14.0 21.0l0.4 4.4M-9.7 -37.4l0.5 4.0M-21.6 13.8l1.1 3.1M-45.4 22.6l-0.2 6.2M-33.8 -13.7l-2.1 3.0M18.0 5.7l1.6 3.3M5.0 39.2l-2.2 5.2M21.0 -34.8l-0.8 4.4M31.6 -20.5l1.3 4.2M-53.0 -27.1l0.8 5.3M-14.2 0.7l1.7 7.8M44.8 -38.6l-0.5 8.8M39.6 -11.8l5.2 6.2M28.7 21.9l-0.2 3.1M-50.9 20.6l-4.2 2.0M-21.7 22.6l2.7 4.5M16.9 -4.6l2.7 2.5M49.6 29.0l1.6 4.2M-5.0 -36.3l-2.3 7.9M11.8 -19.0l6.4 1.5M-12.4 -35.6l4.4 5.7M30.1 35.9l-3.0 0.6M24.6 13.7l-4.3 2.1M42.4 -9.1l-1.1 5.9M54.9 9.3l3.5 2.8M-7.1 24.1l8.7 1.4M-1.8 32.7l-0.0 3.7M-22.6 13.0l1.5 8.7M-0.8 25.2l-2.4 7.8M-44.9 -8.8l0.7 8.2M29.3 -10.6l-1.2 4.3M-38.5 14.5l6.4 4.2M56.1 -14.7l0.1 5.8M20.8 32.4l4.9 1.0M-14.6 25.9l0.8 3.0M10.5 18.6l-6.9 1.0M-39.2 -36.8l-0.9 4.9M-9.2 29.2l-0.6 6.0M-12.7 24.5l3.1 7.2M-26.8 17.4l-1.5 2.6M19.9 -16.4l-2.0 7.9M42.2 -27.8l3.2 1.3M-47.7 6.4l1.6 6.3M60.0 6.1l1.3 6.9M41.6 10.1l-1.1 4.3M-10.9 -6.5l0.5 5.9M11.0 38.3l1.5 3.9M-38.1 -23.3l-2.0 3.2M53.7 -21.9l-0.9 2.9"/><path stroke="#c4a050" stroke-width="1.0" d="M-52.6 -1.6l-0.8 5.8M-34.8 -3.9l0.7 4.8M-53.9 -1.6l0.9 4.6M1.6 19.4l0.0 3.4M-64.1 0.4l-0.8 7.6M-16.4 4.7l0.6 6.8M47.5 24.8l-0.9 3.4M64.6 -1.0l0.7 3.1M39.0 -8.7l-4.8 2.2M-17.8 -30.5l2.5 5.7M-30.6 17.9l1.0 3.0M-61.9 0.7l0.5 3.0M-15.3 -3.1l-2.2 7.1M-61.0 4.8l1.3 6.1M23.8 34.1l-7.0 1.6M-16.3 17.5l-1.3 3.7M-21.8 -38.2l3.5 5.6M-21.3 23.2l-1.7 6.6M-54.2 6.3l-8.2 2.4M40.2 2.3l-3.8 1.7M35.8 -38.2l0.9 2.9M9.6 25.3l-0.3 5.9M-7.7 -18.5l1.5 4.9M-25.6 -17.4l-3.4 6.9M4.9 17.6l-0.5 8.4M-8.4 21.5l1.0 5.6M1.5 28.3l-0.4 6.4M35.8 -10.3l-0.1 3.0M49.7 -5.6l0.7 4.0M6.5 -35.9l-1.0 4.4M23.2 30.5l4.1 6.7M17.8 -14.6l-4.4 5.2M63.6 -13.0l-3.5 6.0M-50.1 23.4l-0.9 4.6M-46.6 28.2l-5.0 6.2M-40.2 14.3l2.1 7.6M-17.5 -31.9l-0.3 7.4M-3.8 9.8l-0.5 7.3M-53.0 -4.8l-4.0 7.9M-14.0 23.2l0.9 3.3M-31.3 30.1l-5.6 5.3M15.9 -20.4l-2.5 3.9M34.1 -25.5l-4.2 5.2M48.5 -34.5l2.6 7.8M-22.2 20.2l-0.6 3.3M-38.4 -7.1l0.5 6.1M55.8 3.1l-6.8 3.7M-51.9 8.3l0.2 5.1M35.6 3.0l-0.8 4.5M29.0 -11.1l4.0 6.6M23.5 -5.5l5.0 6.7M-15.8 33.6l4.5 3.6M56.7 -20.9l5.5 2.1M-9.9 -27.6l3.8 5.4M-40.1 3.3l5.6 2.1M60.2 20.4l-4.0 6.4M43.5 4.4l-1.3 5.3M-27.5 -6.0l0.6 6.5M-44.7 25.6l-0.1 3.0"/><path stroke="#a88840" stroke-width="0.75" d="M-12.5 -31.4l-0.3 3.3M12.1 4.6l2.8 3.4M-38.8 27.3l-1.0 7.1M32.7 5.7l4.5 4.7M-37.0 -10.0l2.4 4.7M-6.7 21.1l-1.6 5.0M39.5 -25.9l-8.4 2.0M-41.3 -39.3l0.4 4.9M48.3 18.5l1.4 5.7M22.6 25.0l-1.8 4.9M37.8 -3.1l-6.9 5.5M-36.6 -20.1l-5.8 3.3M46.3 4.7l1.2 3.8M47.4 11.8l4.7 0.1M33.2 29.6l-5.4 1.5M26.8 -37.5l-0.1 3.4M57.9 -9.3l0.5 4.1M-44.6 -18.4l3.9 7.0M12.0 -10.1l1.7 3.6M33.0 1.9l0.4 7.8M-27.3 -2.5l0.4 6.7M4.3 24.2l0.7 7.0M52.0 -14.1l0.4 4.9M-23.4 27.0l0.9 5.6M-32.6 -17.5l-1.2 3.9M12.5 -4.6l3.3 6.7M7.7 33.8l1.1 3.0M17.9 -31.0l0.6 7.0M22.4 36.8l-3.2 2.1M11.3 -38.7l0.6 3.0M-50.9 -8.7l-0.0 3.4M-26.2 26.0l0.7 4.3M-4.2 -17.6l-2.6 3.9M-42.3 37.1l-2.6 2.5M33.5 -29.4l-1.1 3.3M-11.4 -12.6l0.4 3.5M-33.1 25.3l-0.6 5.8M14.9 11.5l-1.9 8.4M51.1 18.9l-5.4 2.2M6.4 -0.4l1.4 4.5M-29.7 -11.4l1.0 3.9M32.4 -15.7l-6.7 4.1M20.8 -29.9l-2.8 7.5M40.2 -17.7l-1.2 6.2M-30.4 14.1l-0.2 6.0M-20.6 17.0l-1.9 7.2M23.6 -23.1l0.7 4.5M25.1 0.5l2.2 5.2M-47.5 -5.0l-1.3 6.2M9.5 -25.1l2.0 2.5M0.9 20.0l1.5 5.5M-9.9 21.4l1.3 6.3M15.9 -24.3l-1.0 4.9M-14.0 4.2l-4.6 3.6M4.5 -25.6l-1.5 7.4M-10.3 33.2l-0.9 5.1M-58.9 -14.5l-2.0 5.9M48.3 17.2l0.2 3.1M-10.1 -1.5l0.9 4.3M-39.2 13.5l1.3 3.4M24.2 36.5l0.9 5.4M34.5 24.4l1.9 8.0M23.7 -8.9l3.7 3.2M-13.5 -12.9l-1.9 5.4M-53.3 -9.4l-7.4 2.0M-57.6 -18.0l-3.1 2.6M41.6 -11.2l1.0 8.3M21.1 19.6l1.0 6.4M-45.7 -36.6l0.7 4.4M45.5 16.9l-0.7 8.5"/><path stroke="#e2ca8c" stroke-width="0.75" d="M-33.0 25.9l-2.3 7.5M33.9 -25.4l0.3 3.2M54.5 -17.3l-0.5 6.4M-52.0 9.7l-5.1 3.7M-10.9 13.4l2.9 4.5M-13.6 -16.4l-1.0 7.2M-19.2 -7.7l-0.3 4.6M20.9 -23.3l-0.6 3.9M8.7 -7.2l-2.5 7.3M59.4 16.8l-0.2 6.1M23.6 -11.6l-4.4 5.2M62.1 -16.4l2.4 4.0M56.8 -29.0l-3.6 5.9M-44.8 11.4l0.4 3.9M4.8 30.0l1.2 6.5M-45.7 34.4l-0.6 5.9M-38.4 -16.0l-0.7 6.1M-8.1 -40.0l-5.4 2.5M-49.4 -11.8l0.5 8.7M33.5 -1.4l5.6 2.8M-21.7 -24.3l-1.6 6.2M-49.3 1.7l-0.7 6.1M48.3 9.4l2.5 5.8M-23.3 21.5l4.3 6.8M18.8 -39.4l6.8 5.9M-10.7 -22.5l6.1 6.2M-42.9 17.5l-0.9 4.2M-60.1 -22.2l5.9 2.2M0.3 -23.7l1.1 8.1M-26.7 12.6l2.6 7.1M-23.4 -35.9l0.9 5.0M24.6 -14.5l1.5 4.4M55.6 -28.9l-2.1 3.2M37.2 -23.4l1.4 4.9M61.6 13.7l0.1 4.4M-51.6 17.7l-4.4 7.2M-43.6 13.6l-3.0 6.5M29.4 -18.1l-0.7 3.2M21.0 19.0l-1.5 6.1M25.6 20.9l1.3 3.9M-4.0 32.5l2.5 6.6M38.4 5.8l0.8 3.1M-8.1 12.3l-3.5 2.0M35.0 -29.5l-1.1 6.3M61.1 8.7l-0.3 6.6M60.4 -9.4l-1.4 3.0M42.2 0.1l2.5 5.6M48.8 23.9l0.2 7.5M-25.4 -22.1l1.5 6.8M-14.3 19.1l-2.1 8.0M-18.4 -3.2l-0.2 4.7M-10.4 -38.5l1.4 4.6M-46.5 -36.4l0.9 6.7M9.5 -34.5l-1.6 4.1M51.6 -13.0l1.8 5.5M6.4 28.4l3.2 6.4M8.5 1.8l3.5 3.7M9.6 18.5l-3.6 3.1M20.9 14.8l-2.7 7.2M-57.0 14.2l-1.8 7.4M-12.0 -0.2l-0.4 8.3M40.0 14.3l-7.8 0.3M3.9 -12.4l-0.1 3.7M31.6 2.1l2.7 4.1M26.9 26.2l-1.7 5.0M-47.0 -34.2l1.0 5.8M21.3 -4.6l2.5 5.3M28.1 -22.0l5.3 3.1M-38.6 7.0l-5.5 4.9M25.4 -17.5l5.2 6.0M-19.8 -7.3l1.4 3.2M34.9 -11.3l3.2 3.4M-37.4 -22.6l0.5 4.7M-10.7 36.3l-4.0 7.7"/><path stroke="#e2ca8c" stroke-width="0.5" d="M62.9 15.7l-2.7 7.4M54.6 32.5l-3.7 0.3M2.4 -5.1l3.8 2.5M38.8 -38.8l0.1 7.7M25.0 6.0l0.6 6.9M0.8 -0.1l0.8 5.0M-29.5 5.4l0.9 5.8M-25.6 30.6l0.6 6.7M-17.8 13.7l-1.0 3.7M59.9 -24.8l-0.4 4.8M-35.4 34.2l0.2 5.2M-62.3 -1.6l0.6 6.0M-38.4 -3.9l3.9 6.5M-27.3 -24.0l-0.2 7.0M51.6 11.0l1.5 3.1M-43.2 28.9l-0.9 4.4M49.7 -11.8l-0.7 4.6M-47.8 22.7l-5.9 6.2M50.3 -24.4l1.2 4.7M36.1 -5.2l-2.5 4.4M13.9 -18.8l-2.6 7.3M53.3 -22.9l-3.5 4.9M54.8 28.1l-0.2 6.9M39.2 7.9l1.2 8.0M42.1 -25.7l1.0 4.3M38.1 36.0l0.5 6.8M60.4 -16.2l-0.8 7.5"/><path stroke="#eedeb0" stroke-width="0.5" d="M34.3 -29.5l-0.6 7.0M40.8 38.0l-2.6 1.6M34.6 -30.5l-0.1 6.1M-15.3 4.0l-0.3 4.6M-43.3 12.1l-0.0 4.0M-3.0 -13.4l2.8 6.2M-42.7 25.8l2.4 4.3M-56.6 20.0l-2.5 5.6M18.1 -0.6l3.0 2.0M-46.9 29.5l-7.6 0.2M47.7 17.9l-1.0 6.8M-36.4 15.9l0.9 7.7M-32.6 -33.7l-7.3 2.6M-16.0 29.9l-0.5 3.4M-30.5 -19.3l3.0 0.7M34.4 -17.8l0.3 4.5M-4.2 0.7l-0.4 6.2M-54.8 14.5l-2.7 6.8M31.0 -8.9l7.0 1.5M-26.9 24.7l1.5 3.9M-49.8 31.2l-1.0 7.8M58.0 -1.2l-1.2 6.5M-0.3 -13.7l-0.3 5.4"/></g><g stroke-linecap="round" fill="none"><path stroke="#e2ca8c" stroke-width="1.0" d="M20.6 41.0l-0.8 9.5M62.1 19.3l2.5 4.0M62.9 18.1l6.7 7.5M7.9 -37.2l3.0 -10.5M-46.1 39.0l1.3 10.4M16.5 -38.6l-1.6 -9.1M-15.0 -40.8l-1.3 -9.3M-62.8 15.4l-5.9 2.5M4.9 40.7l2.9 8.7M-60.5 23.2l-2.4 4.5M25.4 -41.3l0.3 -9.7M63.8 15.5l3.1 4.7M39.1 -39.2l2.1 -9.7M-49.9 34.3l-6.9 5.9M-59.1 22.2l-3.3 6.3M-52.8 -33.2l-7.9 -5.6M-62.0 1.0l-4.9 0.9M-11.5 -37.5l-0.9 -7.2M61.7 13.8l6.5 5.2M61.4 18.2l4.4 4.9M-61.7 -7.8l-5.2 -0.3M3.4 40.9l-1.0 11.1M-31.0 -40.4l-0.6 -4.0M61.2 23.5l7.2 9.5M60.9 23.2l3.7 6.1M-36.1 37.9l-3.6 8.6M-15.7 -38.2l1.1 -5.4M-19.9 38.1l0.7 4.0M-27.6 -40.8l3.3 -8.9M-57.1 23.8l-3.8 6.6M-46.3 39.1l0.5 6.3M-60.1 11.4l-10.5 1.8M-58.7 -22.0l-7.7 -6.9M-64.1 3.9l-6.5 -1.3M-6.4 41.3l2.7 10.2M30.7 39.7l2.8 11.6M34.0 38.0l0.6 8.4M-65.0 -8.9l-8.8 -0.2M-62.5 5.6l-11.8 -0.1M17.8 37.2l-1.1 9.3M58.0 28.2l6.8 0.4M18.8 -41.4l0.2 -5.1M19.4 37.1l-1.2 8.4M-2.0 -38.2l1.1 -10.6M-54.2 29.6l-3.2 3.3M55.6 -31.0l5.4 -3.5M-20.4 -37.2l0.1 -5.4M-15.6 -37.8l-1.3 -10.6M62.3 13.1l2.9 5.0M52.0 -36.9l5.0 -5.8M-5.5 -39.4l-0.6 -7.1"/><path stroke="#ecdaa6" stroke-width="0.75" d="M62.4 -18.1l3.8 -5.1M26.0 -39.0l-0.4 -8.4M-28.2 38.9l-1.0 7.2M60.0 24.9l9.1 1.7M-32.6 -41.1l1.4 -5.3M63.0 5.3l5.9 3.5M-64.4 11.2l-7.0 -1.4M7.2 37.2l-1.0 6.8M62.5 18.4l3.1 4.4M20.5 37.2l-0.8 7.9M-26.2 40.2l-4.0 7.7M37.8 -39.5l-0.6 -9.3M55.5 -31.8l10.0 -6.2M-28.0 39.3l0.4 5.1M24.0 37.4l0.6 6.9M-20.5 -37.7l0.8 -6.0M-28.2 38.8l-4.8 8.6M-61.7 -13.4l-4.6 0.0M46.4 -40.1l7.3 -5.5M-22.6 36.4l4.6 10.8M-65.4 -5.5l-5.0 -2.6M5.6 37.9l-0.8 6.9M64.7 -7.6l8.8 -5.3M52.5 34.4l7.0 4.6M-15.0 39.4l0.6 7.5M27.9 39.9l-0.9 5.4M65.6 9.2l3.0 4.0M45.8 38.3l3.3 3.1M-26.0 -37.1l-0.4 -6.6M55.7 32.8l4.0 2.0M13.4 -41.0l-0.6 -11.8M60.7 17.6l6.8 6.6M3.8 -37.5l-1.7 -10.3M-51.7 35.1l-4.0 7.0M54.3 -30.9l2.9 -6.1M3.7 38.3l1.9 9.2M-11.4 40.0l-1.3 7.0M63.3 -17.9l5.2 -3.8M-27.3 40.1l1.5 9.7M-35.7 -38.1l0.7 -8.5M-64.3 -4.1l-8.6 -0.2M-11.2 -36.8l-0.1 -11.3M-10.7 41.2l-1.3 10.3M-4.6 40.4l0.2 6.5M-60.8 7.2l-9.7 3.8M65.0 5.5l6.2 6.6M59.3 -22.5l5.4 -2.4M-60.4 23.6l-4.4 9.7M32.5 41.8l-2.1 10.6M-29.5 37.2l3.2 9.6M8.2 -39.4l0.3 -4.3M53.8 -30.5l9.0 -0.5M-62.2 9.9l-9.6 -1.1M50.6 -37.4l3.4 -2.8M-3.5 38.4l-0.6 5.3M35.9 -40.1l-1.7 -7.9M53.8 -31.3l5.4 -3.6M15.4 39.6l-1.1 11.0M16.2 37.7l-0.4 4.2M-58.6 -24.3l-3.4 -5.5M-61.4 11.9l-4.9 2.7M-18.8 -38.2l-0.6 -6.1M-11.2 -37.6l-4.0 -10.1M-29.9 36.7l-1.1 11.7M37.2 37.1l0.9 4.9M62.4 11.8l4.6 4.6M-51.2 32.6l-7.2 4.7M55.5 -29.4l3.1 -3.5M-24.6 37.4l-0.6 11.6M-62.1 20.3l-10.9 2.0M-61.4 -19.4l-5.0 2.0M-59.5 20.3l-4.3 0.9M10.6 -39.4l-1.4 -6.8M34.5 -41.4l-0.8 -7.0M-33.2 -38.9l0.4 -8.8M14.7 -36.6l1.1 -10.9M-19.5 39.8l-0.4 5.0M64.6 -13.5l5.9 -4.4M37.5 -39.3l0.4 -9.2M-5.8 -39.2l-0.4 -5.2M7.6 36.7l-2.1 5.9M53.1 -35.6l3.0 -6.4M-59.5 23.7l-4.2 6.7M-50.7 -34.3l-2.5 -4.5M61.2 -26.4l5.3 -9.2M-30.7 37.9l-0.2 5.8M36.0 -37.3l-1.2 -9.7M-56.6 -29.6l-4.4 -7.5M27.4 39.3l0.2 4.6M62.8 15.2l4.2 3.0M-64.2 -15.4l-11.8 -0.2M-60.6 -23.2l-8.6 -7.1M58.5 26.3l3.3 3.1M31.6 -38.3l-2.4 -8.7M-1.6 -41.7l2.4 -10.1M9.8 -38.8l0.3 -8.5M55.5 -30.2l3.1 -3.3M-27.4 -38.4l-0.6 -8.8M-57.2 -30.2l-4.1 -4.4"/><path stroke="#e2ca8c" stroke-width="0.75" d="M-60.4 -22.5l-4.0 -4.8M20.2 37.7l0.1 7.0M-10.0 -37.5l1.9 -7.8M62.7 21.8l7.3 6.8M-57.0 27.5l-3.5 7.3M-62.4 -16.3l-5.1 0.7M50.2 36.6l4.0 4.6M24.2 40.4l-1.6 5.3M-16.2 40.5l0.4 5.0M-46.4 35.4l-4.3 5.2M-29.7 37.3l0.1 9.6M58.6 25.2l3.7 3.1M56.3 27.9l10.0 -2.9M54.7 32.1l4.4 2.0M55.8 -29.5l7.5 -8.0M46.9 37.5l2.2 3.4M9.6 -41.8l-4.6 -5.6M-51.4 33.7l-4.9 4.4M-61.8 8.2l-6.1 0.2M-19.4 37.9l-0.5 5.0M-58.5 19.3l-4.2 0.6M62.7 8.8l9.8 6.0M41.7 -37.0l-0.5 -7.3M-59.1 17.5l-4.3 0.4M-64.1 9.9l-7.3 1.6M-54.0 29.4l-4.3 7.9M22.2 -36.6l0.3 -4.5M-40.5 -40.1l-2.3 -6.5M61.7 -20.9l7.0 -5.3M-29.0 -38.3l3.0 -10.7M-13.6 40.2l-1.0 8.8M62.7 14.8l5.5 4.7M-12.0 36.6l-0.7 11.9M60.5 26.3l7.1 6.9M1.8 38.0l0.6 8.7M-60.2 -20.3l-5.4 -3.5M-31.7 41.0l-0.0 7.2M14.8 40.7l-1.2 7.6M-25.4 41.2l0.3 8.2M-27.7 38.1l-2.5 8.8M64.2 -15.0l7.7 -6.4M-59.2 18.5l-4.5 2.4M-11.8 38.9l1.7 5.3M64.0 9.9l6.8 9.5M52.9 32.5l5.4 5.7M-44.6 39.4l-8.6 6.7M-60.1 -13.7l-9.9 -0.6M-7.4 -36.7l-0.2 -6.0M-43.7 37.3l-5.5 4.6M-9.4 40.4l-1.0 8.5M10.3 41.3l-0.4 11.8M19.1 40.4l2.9 6.5M16.7 40.4l-0.5 5.7M-4.9 40.3l1.1 5.3M-39.2 36.8l1.7 7.9M-44.8 -36.4l-4.3 -7.1M34.6 -40.5l-1.0 -6.9M-40.4 -41.6l-6.3 -5.9M-1.4 -38.7l-0.4 -7.0M-42.4 37.6l-0.9 8.9M-61.3 19.7l-4.0 8.6M-31.4 40.9l-1.1 6.7M-1.8 37.3l1.8 6.2M34.3 36.9l1.5 5.8M48.7 39.7l-2.0 7.5M-5.1 37.6l1.4 7.7M47.4 -38.7l6.5 -6.5M25.7 -38.1l-1.5 -11.9M62.4 -20.3l2.6 -5.1M6.3 38.1l-0.9 6.0M3.7 -39.5l-0.8 -5.6M-58.5 -23.7l-5.6 -8.3M47.9 -38.2l5.4 -6.4M-3.7 41.4l-2.3 6.4M52.6 -36.9l3.9 -9.2M56.2 -30.6l2.4 -4.9M56.3 30.4l7.9 0.1M-9.4 38.0l0.0 10.0M-31.2 -39.4l-1.4 -11.3M43.2 -38.3l0.4 -5.7M7.0 38.7l-0.9 4.0M8.1 -40.7l-1.3 -9.1M-58.3 -21.1l-3.9 -5.6M13.4 -37.3l2.5 -6.0M15.6 -40.4l0.5 -6.9M5.2 -39.4l2.4 -10.4M-59.3 22.6l-10.1 4.5M-42.5 -37.0l-1.7 -8.3M-37.7 36.9l-1.4 5.9M-7.0 39.3l-0.1 6.4M20.5 39.9l-0.2 7.8M13.8 -37.3l-0.4 -6.3M40.1 37.2l-0.4 8.0M51.2 -32.5l8.8 -3.3M-31.7 -41.1l0.1 -9.4M-57.4 27.6l-2.7 3.1M19.9 -38.5l0.5 -5.5M34.6 -38.1l0.2 -5.5M46.9 -39.7l0.8 -7.5M18.8 -39.4l-1.7 -8.7"/><path stroke="#e2ca8c" stroke-width="0.5" d="M-50.3 -33.4l-8.9 -6.4M-6.8 40.3l1.7 8.4M41.5 39.9l4.7 6.2M1.6 41.2l-1.1 11.8M54.4 -35.2l8.1 -4.4M-52.0 -31.7l-9.9 -2.7M28.3 37.8l-0.1 9.4M48.4 37.9l5.2 2.9M8.1 -40.3l0.4 -9.9M-13.8 -37.2l3.2 -8.0M-50.5 35.4l-5.9 7.2M-48.7 -35.8l0.6 -7.0M51.3 -34.7l8.1 -7.5M21.7 -36.7l0.2 -4.3M-50.9 -34.3l-8.0 -5.6M62.9 18.7l8.5 6.1M17.1 39.2l-1.0 4.3M14.5 -38.0l2.0 -5.3M-14.4 41.5l1.8 7.6M22.5 -39.5l-1.6 -6.8M-59.8 -23.6l-4.9 -10.7M49.3 -38.0l2.7 -3.5M-24.1 -38.7l1.0 -8.6M-0.8 -37.6l1.5 -4.4M64.5 -6.2l3.7 -1.9M64.0 -11.1l4.1 -2.8M61.9 22.6l8.7 5.3M-29.9 38.2l1.6 4.0M2.7 -41.6l-0.5 -11.3M-10.6 40.0l-1.1 5.5M17.4 36.7l0.4 6.7M-31.7 -39.7l2.3 -10.1M-56.0 -30.4l-4.5 -5.9M54.5 32.6l8.8 7.6M7.5 41.2l-2.3 9.6M4.3 41.7l2.0 7.6M-31.7 -39.6l-0.6 -6.0M-25.4 40.7l-1.1 7.6M-56.8 29.9l-4.2 4.9M25.7 -40.0l-1.1 -11.8M51.2 35.3l7.5 7.3M-39.2 38.4l-0.2 5.9M-5.6 41.1l0.5 9.1M-16.4 -37.1l2.1 -7.6M55.5 31.8l4.9 8.6M48.0 37.5l7.0 5.9M5.2 37.8l1.2 8.3M13.5 39.6l1.8 9.7"/><path stroke="#d2b266" stroke-width="0.75" d="M-41.3 40.9l-8.3 6.2M-32.7 -40.5l-2.3 -7.2M-59.3 16.8l-9.5 2.6M-53.6 -33.6l-5.3 -3.6M22.2 39.2l-0.1 8.6M-13.6 -38.2l1.8 -6.0M-59.7 17.0l-4.4 -0.6M7.6 38.1l0.1 11.4M-10.3 -39.0l0.7 -6.9M-60.6 7.6l-4.4 -0.4M-45.5 -37.6l-6.7 -5.4M-6.2 -38.1l0.5 -4.0M-44.0 38.2l-0.8 11.1M65.5 5.2l2.2 4.1M-64.1 -10.7l-11.4 -2.8M1.6 -39.5l-0.0 -6.2M-24.1 -38.1l-1.1 -11.0M-10.5 -38.2l-1.9 -10.4M13.3 -39.6l-0.7 -4.3M-31.2 38.1l0.1 5.8M24.1 -39.6l-0.7 -4.0M25.5 -39.1l-4.6 -9.2M46.9 -39.4l8.5 -5.9M-64.7 -12.4l-4.2 -1.4M-62.2 -10.0l-4.6 -0.4M60.5 -23.6l3.8 -2.7M62.7 10.5l3.1 3.5M14.9 39.0l-1.5 5.6M6.2 -38.3l0.1 -8.2M-21.1 37.9l1.3 7.4M-21.8 37.8l0.6 4.3M-57.9 25.0l-7.0 7.4M60.3 -25.0l3.7 -3.5M-34.6 -36.5l0.1 -6.0M-42.1 40.7l1.3 5.9M-8.6 37.2l1.4 6.8M-40.5 -37.1l-0.7 -7.4M-64.5 -5.4l-11.2 -0.5M-20.5 -41.1l1.6 -5.4M-47.4 -38.9l-6.4 -2.2M0.2 -41.6l-4.1 -8.9M1.4 41.1l-2.2 11.3M13.5 38.2l1.5 6.1M-60.8 -21.0l-10.8 -2.8M61.9 -18.1l3.9 -6.5M-25.3 40.3l0.6 5.8M-63.8 0.5l-5.7 0.8M62.5 16.9l6.9 9.3M-7.0 -37.2l1.3 -10.2M2.5 -41.7l-1.2 -5.7M6.4 -38.7l2.8 -6.2M-12.5 36.3l0.5 8.3M-10.6 -36.8l-1.9 -6.2M63.7 -17.3l4.5 -3.8M37.7 -38.3l-1.1 -10.3M63.2 -8.6l7.2 -5.6M-6.2 -38.7l2.9 -6.9M58.6 23.0l4.8 4.3M9.8 -37.9l1.2 -8.6M6.4 37.6l0.5 5.3M-54.2 28.9l-5.3 -1.0M35.8 37.7l-1.8 8.6M21.6 -37.4l-2.9 -8.8M54.1 -31.4l5.6 -4.5M-23.6 -38.2l-0.9 -7.5M-61.7 18.2l-5.7 -1.4M-59.7 -17.5l-8.7 3.6M39.2 -39.0l1.6 -6.8M-59.3 20.6l-4.3 -0.9M-45.8 37.7l-3.4 5.6M-51.6 -33.9l-3.2 -4.2M4.0 -38.6l0.4 -8.5M-60.8 21.0l-7.6 0.1M64.7 -10.0l3.8 -3.1M-28.0 -39.0l-0.5 -5.0M-29.2 40.2l-0.6 9.2M-5.2 38.5l0.8 9.3M15.5 -37.8l-0.2 -11.4M-29.6 38.3l0.9 7.2M6.4 38.9l1.8 4.9M65.9 9.2l4.8 5.9M60.9 19.0l2.6 5.2M-12.8 -40.5l2.0 -10.8M-5.7 40.5l1.2 11.4M65.4 -11.9l8.9 -4.6M-6.2 -38.8l-2.8 -11.1M-14.7 40.6l-1.2 3.9M-48.5 -36.1l-5.5 -7.2M-63.7 -14.7l-4.8 0.9M-31.0 -40.9l0.2 -7.1M64.9 -7.7l4.2 -4.0M16.6 40.0l-0.7 10.0M-32.8 -37.3l0.4 -4.3M41.7 -40.2l7.4 -7.1M63.5 19.6l4.5 6.5M61.0 18.7l3.5 3.6M-60.7 14.6l-10.5 -1.5M59.1 -22.3l3.1 -4.1M-23.3 -41.1l-0.3 -11.4M-42.4 40.9l-3.8 1.5M-61.1 -6.8l-4.0 -2.4M-22.3 -41.2l1.2 -7.0M-60.8 -8.3l-4.3 -0.2M-65.0 4.1l-9.6 6.3M11.1 -40.9l1.0 -10.0M-50.0 -33.5l-5.3 -5.4"/><path stroke="#b89248" stroke-width="0.75" d="M23.7 -38.8l0.8 -4.4M13.7 41.4l1.3 8.9M-47.2 -37.1l-6.5 -3.4M62.2 17.4l3.8 2.5M33.0 39.1l2.1 11.0M-4.5 -37.4l1.7 -5.6M-46.3 35.1l-2.6 4.7M61.2 23.8l3.4 5.0M-58.8 24.8l-5.9 2.1M-46.2 36.6l-8.0 8.7M-60.6 20.4l-11.0 -0.8M-61.1 -19.1l-7.2 -7.4M19.6 37.7l-1.0 11.5M-50.8 32.4l-5.4 4.9M5.5 37.7l-1.9 7.1M-11.0 38.6l1.4 9.4M63.4 10.7l3.8 3.2M-42.0 -39.4l1.8 -10.1M-63.3 -6.7l-10.1 2.1M47.3 37.5l8.8 6.9M13.6 -41.7l-0.4 -6.4M-29.9 37.7l0.9 5.5M16.9 40.5l1.3 5.3M63.8 -17.1l7.0 -9.5M62.6 20.2l5.0 4.1M-11.9 -40.4l-0.1 -8.1M2.2 -39.5l2.8 -7.5M-40.5 -39.8l-5.6 -3.2M-62.4 13.8l-4.4 -0.7M-16.2 41.5l-1.9 7.7M-15.1 39.0l-1.2 6.6M6.8 -39.9l-2.2 -11.4M19.0 37.9l1.0 8.9M60.7 19.2l5.8 6.2M-5.1 38.9l2.0 5.9M-38.8 -38.1l-0.2 -10.7M-61.7 -16.3l-7.4 -0.6M-55.0 -30.0l-3.2 -3.9M-5.9 -37.1l0.6 -11.9M-23.7 -38.3l-0.5 -11.6M-29.6 -40.1l-0.1 -4.0M-64.3 -7.1l-9.7 -3.6M46.7 -37.3l-4.4 -9.5M61.1 -24.1l8.7 -7.2M-61.8 1.4l-6.6 -0.8M41.9 -41.1l-0.3 -6.3M-44.9 -37.3l-4.8 -5.1M12.7 37.4l0.1 6.5M65.8 5.4l5.6 4.1M29.3 39.0l-0.7 5.1M29.7 -37.4l3.6 -10.3M-63.6 -5.3l-4.7 0.0M15.0 39.6l-2.8 8.8M-10.1 39.2l1.3 10.0M-8.8 37.3l1.3 10.1M-19.3 40.0l0.1 7.4M62.3 -18.9l2.8 -4.0M-8.2 39.4l-1.9 7.9M-4.8 38.6l-0.4 6.1M17.3 39.5l-1.0 6.6M20.0 36.5l-1.6 6.9M56.4 32.2l3.7 3.5M34.5 39.7l0.6 11.9M61.6 -15.3l7.2 -6.3M23.5 -38.2l2.7 -8.6M-42.1 38.4l0.0 9.9M1.1 38.0l-0.2 7.4M-64.7 -1.7l-7.9 -0.7M-39.3 39.1l4.1 7.8M46.3 -38.0l6.0 -5.1M-55.0 28.2l-2.7 4.9M44.3 41.1l7.2 6.4M-49.8 35.5l-2.5 3.2M-15.0 -36.8l0.5 -10.2M47.8 38.3l4.4 3.2M-63.3 1.3l-9.4 0.2M34.1 41.0l-5.5 9.2M-11.9 39.3l0.2 5.7"/><path stroke="#d2b266" stroke-width="0.5" d="M-16.4 38.1l0.8 3.9M62.8 -18.4l7.3 -8.1M8.6 -37.5l0.8 -9.7M-52.5 33.0l-3.0 3.3M30.7 -38.7l-0.3 -8.6M54.6 -32.2l5.5 -4.7M-63.5 -2.3l-6.2 2.1M-26.4 -38.1l0.0 -5.0M-4.5 38.7l-1.6 11.8M-24.0 -39.8l0.7 -9.0M-46.2 -37.2l-7.0 -5.0M45.1 36.7l1.5 6.2M19.7 39.8l0.3 10.1M22.1 39.6l-2.1 9.5M-50.4 32.6l-5.9 8.7M-23.9 -38.7l-1.9 -3.8M-42.5 39.9l-1.8 10.6M-10.9 -39.2l-0.9 -10.6M-19.8 40.0l1.6 10.5M1.2 -37.9l-1.5 -4.2M-60.4 16.3l-10.8 3.3M-17.2 37.1l-1.1 7.6M-64.0 3.1l-6.5 1.8M40.1 40.5l0.6 9.4M61.9 -20.1l7.3 -4.6M59.7 19.9l3.2 4.2M-58.8 -19.1l-8.4 -2.0M-59.0 24.5l-4.0 4.3M-61.7 -6.6l-11.4 -0.2M43.4 37.9l1.2 8.6M-18.0 -40.8l-1.2 -8.3M54.2 29.6l7.5 2.6M1.3 40.8l1.7 6.8M19.2 -38.8l2.6 -11.7M-0.8 37.7l-0.9 6.7M-64.8 -0.4l-6.3 1.8M-48.8 36.0l0.5 4.2M-61.8 7.7l-4.6 1.4M-47.7 37.9l-4.3 4.1M-5.9 -40.9l0.4 -4.3M56.5 31.9l1.6 4.6M-62.6 1.9l-9.2 1.3M5.7 40.1l-3.1 7.3M-27.9 -36.6l-1.3 -9.8M65.3 9.0l5.8 4.9M62.5 17.3l9.2 7.5M21.9 -36.7l-0.4 -7.6M10.0 37.2l-0.6 6.4M-49.1 -36.0l-3.5 -3.5M0.1 37.3l-0.2 10.3M61.8 -17.8l7.3 -8.0M0.8 -37.6l2.6 -10.7M8.7 41.0l-0.3 7.4M-41.0 -37.8l-5.7 -0.0"/><path stroke="#ecdaa6" stroke-width="1.0" d="M62.0 21.7l6.4 5.8M12.2 -39.6l-1.8 -11.0M52.5 -34.7l8.5 -8.3M-10.7 -41.0l-1.5 -7.1M-59.9 18.4l-10.3 3.0M-1.1 39.5l-2.5 7.5M12.4 -38.3l1.5 -7.6M-48.7 36.2l0.9 9.8M9.4 -40.2l-4.2 -10.6M63.3 7.3l5.0 6.5M-24.0 -41.2l1.5 -4.2M-61.7 7.8l-6.5 -0.1M-0.0 -41.9l-3.2 -6.7M50.8 -35.2l3.5 -5.1M48.6 -37.1l-0.6 -4.7M15.3 -38.4l0.4 -9.8M62.1 15.0l7.4 4.8M-51.1 -34.0l-5.1 -3.1M-62.2 7.4l-8.9 0.1M56.4 -29.5l7.5 -1.3M-64.5 7.3l-11.9 -0.1M-46.3 -38.5l1.5 -11.0M5.0 39.3l2.2 9.7M-48.7 34.1l-4.5 5.3M-51.8 -34.3l-6.0 -7.2M45.4 -39.4l5.1 -2.7M16.5 40.3l3.0 10.0M-21.7 -39.2l-2.5 -10.3M-19.5 -40.3l0.7 -11.2M-42.6 -38.7l-3.6 -3.3M54.4 31.1l4.5 5.9M53.7 34.4l6.2 5.4M-16.4 41.6l2.3 4.7M-51.6 -32.0l-5.5 -3.4M57.4 -28.5l9.3 -1.6M47.6 38.1l2.9 3.3M-11.9 -36.9l0.0 -5.7M48.8 37.6l-2.8 7.0M31.5 -36.8l0.9 -9.2M-55.7 27.0l-7.4 3.7M-3.0 -39.3l-1.1 -6.4M-12.4 -36.4l0.3 -10.1M-49.9 36.2l-6.4 7.6M50.2 -36.8l9.3 -3.2M-63.1 -1.7l-5.1 0.2M39.1 -39.3l-4.0 -9.3M36.3 38.2l0.9 4.8M22.5 40.4l-0.7 8.3M-51.1 -32.8l-5.7 -7.1M17.7 -40.9l0.1 -10.7M-57.3 25.8l-3.4 6.3M0.1 -37.5l1.3 -5.5"/><path stroke="#d2b266" stroke-width="1.0" d="M29.8 -41.1l-0.7 -7.6M17.9 39.5l1.3 4.4M-36.2 38.4l0.3 4.3M-62.1 -20.8l-5.6 -0.9M-11.0 -40.5l-1.7 -6.0M-47.3 -38.8l-6.6 -4.3M-36.3 -38.1l0.1 -5.3M-58.9 -24.5l-6.6 -9.1M-59.7 -21.8l-8.7 0.3M48.7 35.5l-0.0 4.0M61.5 -24.7l3.0 -8.9M-56.5 29.8l-8.1 7.3M-9.8 37.7l4.9 8.3M-61.2 12.6l-5.1 0.3M-39.6 39.0l-10.6 5.4M46.6 -39.8l-0.1 -4.7M34.2 -40.6l1.7 -5.2M-11.2 -39.4l1.3 -5.2M-6.5 39.6l-1.1 5.3M-23.5 -39.8l-1.4 -7.9M62.7 -18.6l8.1 -5.6M-38.3 -40.5l-9.3 -5.5M63.4 -9.0l5.5 -4.8M63.2 10.4l5.0 9.6M29.6 -37.0l2.6 -11.5M-62.7 1.3l-11.2 -3.4M-21.5 38.6l-1.6 7.8M-59.1 20.4l-7.1 0.5M7.1 36.4l0.3 6.0M-20.2 -39.7l-2.6 -9.2M-35.8 -40.1l1.0 -5.5M30.9 -41.3l2.1 -5.4M-14.3 -40.5l-0.3 -6.1M4.1 37.4l0.7 4.3M-18.0 37.4l0.7 8.9M-60.4 13.8l-11.6 0.6M29.2 -39.0l2.7 -10.9M6.7 40.2l-0.9 11.8M65.8 10.5l4.3 4.5M-52.2 -31.7l-4.6 -4.6M-60.8 22.9l-4.5 2.6M63.2 -9.9l5.3 -6.2M-22.7 -37.9l1.0 -6.9M-61.9 -8.0l-8.8 -1.2M-53.7 -31.0l-8.2 -7.5M35.8 -39.1l-0.1 -4.8M10.7 -40.3l4.2 -10.8M-61.2 10.5l-10.7 -2.5M-63.8 10.8l-6.6 -1.0M-22.6 36.8l-0.2 9.3M-64.5 -9.3l-4.1 -0.8"/><path stroke="#b89248" stroke-width="0.5" d="M5.6 -40.5l-1.0 -9.6M46.4 -39.3l-1.1 -7.0M13.9 -41.3l1.9 -4.1M9.7 -41.1l-0.7 -6.4M10.9 41.2l-0.1 7.7M62.8 9.2l9.0 7.6M41.5 38.1l-0.1 10.5M61.8 -16.7l5.5 -5.1M-60.6 20.9l-3.5 3.9M33.1 -40.8l-4.4 -10.1M-62.3 -8.3l-9.4 0.1M-34.7 40.3l-0.2 8.8M53.3 -34.8l3.6 -4.0M-10.9 -39.4l0.4 -9.2M6.4 -38.4l1.1 -6.7M65.5 -9.9l7.0 -4.4M-1.9 40.9l-2.2 10.3M-16.8 37.1l1.9 8.6M15.0 39.0l0.6 4.2M-48.8 -38.1l-3.1 -3.9M-29.3 37.5l1.6 8.4M-60.2 -23.9l-7.6 -6.5M-0.3 -37.9l2.6 -9.2M-9.9 39.0l0.0 6.8M-55.1 30.5l-6.0 5.1M-27.7 41.0l2.3 7.4M-60.4 25.1l-6.5 7.5M28.1 36.6l1.5 10.2M-25.7 -41.4l-1.2 -10.1M-48.8 37.8l-1.9 10.6M-20.5 -38.7l-1.9 -8.5M57.8 -30.2l8.8 2.4M46.6 -38.5l2.8 -7.1M-16.7 -39.1l0.9 -5.4M-1.8 39.9l0.5 7.8M-54.0 30.7l-3.9 4.0M-36.9 40.5l-9.6 6.2M-63.9 -3.4l-7.6 0.7M21.7 -38.8l-0.5 -4.0M26.3 -39.2l-1.8 -11.4"/><path stroke="#ecdaa6" stroke-width="0.5" d="M-60.8 -18.8l-12.0 0.2M25.7 41.4l0.6 8.7M15.7 -38.6l1.7 -9.1M20.0 -41.0l2.0 -6.6M5.1 40.1l0.4 4.2M51.9 -36.6l3.8 -1.3M5.1 39.1l1.7 6.3M-8.5 40.0l-0.9 11.3M59.6 24.0l3.1 5.9M-64.5 -6.0l-5.8 -3.0M-35.7 41.5l-5.0 6.0M-18.0 41.0l1.5 8.7M20.6 -36.7l-1.2 -4.6M-36.9 -40.8l-5.0 -4.0M54.0 -36.0l5.1 -5.7M-25.6 37.0l0.1 11.2M-54.1 27.8l-4.8 4.8M6.2 40.4l0.1 4.9M32.8 -37.5l0.4 -5.7M22.7 -38.1l-1.7 -9.2M34.4 36.9l2.0 10.0M-11.1 -37.9l-0.8 -10.1M-43.8 38.8l-4.6 4.2M-8.8 39.8l0.8 8.7M-59.4 -22.8l-6.7 -5.7M19.7 -39.3l-2.6 -5.3M65.4 11.3l7.0 5.6M-48.3 33.6l-6.9 9.6M52.1 32.9l5.8 5.9M3.3 -38.5l-1.2 -10.5M-63.7 1.1l-5.1 -1.0M5.5 41.3l0.3 10.1M-9.8 -36.9l0.1 -7.4M23.3 -41.9l-1.5 -6.6M-65.5 -2.9l-10.1 -0.3M-65.9 2.1l-11.8 -0.1M22.0 40.5l-0.5 4.7M19.4 40.9l0.0 5.4M7.4 38.6l0.3 7.9M-62.6 14.3l-9.2 -0.5M-14.2 -40.9l-1.8 -10.0M-16.7 38.6l-0.8 11.8M53.0 -34.9l4.6 -3.7M37.7 -37.9l-0.9 -10.5M-39.1 37.5l-2.7 11.0M25.7 -38.7l3.3 -9.8M64.4 9.3l4.4 3.6M62.6 -18.2l4.8 -2.9M2.5 -37.4l-0.5 -5.9"/><path stroke="#b89248" stroke-width="1.0" d="M-38.7 39.6l0.6 6.2M-28.2 38.2l-1.6 7.8M21.9 38.7l0.5 4.6M-4.9 37.8l1.0 7.1M12.2 -39.0l0.5 -4.4M-36.0 -37.5l0.8 -5.1M-46.6 38.5l-5.4 4.0M64.4 13.9l4.7 5.6M40.3 40.5l-0.0 4.5M55.8 30.5l3.9 7.2M-59.3 -19.3l-4.9 -0.4M-1.0 -39.8l-3.0 -11.5M-37.4 -39.0l-1.0 -11.8M6.2 -39.3l1.0 -5.8M30.0 -39.4l1.0 -4.2M19.0 -38.8l-1.3 -8.5M29.5 -40.3l-0.2 -10.0M32.5 -41.1l1.7 -5.6M-35.6 -39.1l0.1 -4.3M-1.1 41.6l0.1 9.0M0.3 39.9l-1.2 5.5M-4.7 37.9l0.6 8.9M-27.2 41.6l1.1 7.2M22.4 -40.5l1.6 -9.3M-42.2 37.9l-9.6 4.6M-16.6 39.7l-3.6 10.1M-34.0 -38.0l-1.1 -7.4M39.0 -38.0l4.0 -6.1M-61.1 -11.5l-6.9 1.5M34.7 -39.0l0.1 -4.8M-32.7 -40.6l0.1 -9.8M64.4 7.4l7.9 7.7M-24.0 -40.4l0.8 -10.2M-61.0 2.8l-8.0 0.7M23.9 36.7l-3.5 8.3M59.0 -28.1l6.4 1.0M-11.9 -38.3l-0.1 -7.8M-5.1 -39.3l1.3 -7.9M-63.5 8.3l-10.4 2.1M-6.4 41.5l0.3 6.6M-32.7 -38.9l0.9 -7.1M2.5 -41.2l3.9 -5.5"/></g><g stroke-linecap="round" fill="none"><path stroke="#c8a860" stroke-width="0.5" d="M-44.8 0.0l-10.4 30.1M-44.8 0.0l-26.0 36.6M-44.8 0.0l-7.0 -27.0M-44.8 0.0l-0.3 22.7M-44.8 0.0l-17.0 22.3M-44.8 0.0l-17.3 -42.9M-44.8 0.0l-28.2 -30.4"/><path stroke="#d6bc78" stroke-width="0.75" d="M-44.8 0.0l-6.2 45.1M-44.8 0.0l-28.4 1.8M-44.8 0.0l-31.8 4.1M-44.8 0.0l-23.0 -22.0M-44.8 0.0l-20.6 -31.4M-44.8 0.0l-18.7 30.2M-44.8 0.0l-15.3 -48.2M-44.8 0.0l-4.0 -32.3M-44.8 0.0l-9.2 20.3M-44.8 0.0l-11.4 20.4M-44.8 0.0l-11.9 18.6M-44.8 0.0l-7.2 35.2M-44.8 0.0l3.5 38.8M-44.8 0.0l-9.3 -33.8M-44.8 0.0l-35.7 22.4M-44.8 0.0l-35.6 -14.6M-44.8 0.0l-33.2 22.3M-44.8 0.0l-35.1 -4.3M-44.8 0.0l-1.4 -42.9"/><path stroke="#f0e2b8" stroke-width="0.75" d="M-44.8 0.0l2.2 31.5M-44.8 0.0l-15.7 33.0M-44.8 0.0l-24.5 -12.1M-44.8 0.0l-22.2 3.8M-44.8 0.0l-15.7 -46.3M-44.8 0.0l-26.4 -9.6M-44.8 0.0l-25.7 19.2M-44.8 0.0l-19.2 -17.5M-44.8 0.0l-30.5 -32.9M-44.8 0.0l-18.1 -1.1M-44.8 0.0l-22.3 0.5M-44.8 0.0l-17.5 14.9M-44.8 0.0l-9.4 41.5M-44.8 0.0l-24.6 -23.4M-44.8 0.0l-20.2 -41.2M-44.8 0.0l-6.9 43.3M-44.8 0.0l-24.3 22.0M-44.8 0.0l-4.0 38.1M-44.8 0.0l-34.1 3.7M-44.8 0.0l4.2 -40.3"/><path stroke="#e8d6a0" stroke-width="0.5" d="M-44.8 0.0l-13.4 -37.9M-44.8 0.0l-14.2 45.2M-44.8 0.0l-27.4 -17.3M-44.8 0.0l4.5 42.2M-44.8 0.0l-26.4 -18.0M-44.8 0.0l3.7 -36.9M-44.8 0.0l-19.5 -2.2M-44.8 0.0l-0.8 -42.7"/><path stroke="#c8a860" stroke-width="1.0" d="M-44.8 0.0l-19.9 45.5M-44.8 0.0l-16.9 7.0M-44.8 0.0l-24.9 19.8M-44.8 0.0l0.7 -25.3M-44.8 0.0l3.0 26.8M-44.8 0.0l-8.8 23.5M-44.8 0.0l-19.8 4.4M-44.8 0.0l-2.4 -38.2M-44.8 0.0l-20.6 -14.2M-44.8 0.0l-19.8 -9.8M-44.8 0.0l-1.1 31.6M-44.8 0.0l-33.4 -19.1M-44.8 0.0l-33.3 -9.3M-44.8 0.0l-19.6 -3.8M-44.8 0.0l0.1 48.9M-44.8 0.0l-15.1 10.3"/><path stroke="#c8a860" stroke-width="0.75" d="M-44.8 0.0l-22.3 -12.7M-44.8 0.0l-21.5 -27.5M-44.8 0.0l-17.3 -27.2M-44.8 0.0l-22.0 -4.6M-44.8 0.0l-4.2 -39.0M-44.8 0.0l-19.0 17.0M-44.8 0.0l2.0 27.6M-44.8 0.0l-1.3 -46.7M-44.8 0.0l-32.7 2.5M-44.8 0.0l-37.3 1.9M-44.8 0.0l-31.1 -25.4M-44.8 0.0l-5.4 26.8M-44.8 0.0l-20.5 46.0M-44.8 0.0l-7.1 25.0M-44.8 0.0l-37.1 20.0M-44.8 0.0l-5.8 -53.0M-44.8 0.0l3.3 -37.9M-44.8 0.0l-10.5 32.8M-44.8 0.0l-3.3 52.8"/><path stroke="#e8d6a0" stroke-width="0.75" d="M-44.8 0.0l-22.8 -17.3M-44.8 0.0l-28.5 4.2M-44.8 0.0l-22.2 -44.2M-44.8 0.0l-39.1 -12.6M-44.8 0.0l-3.7 -27.4M-44.8 0.0l-15.9 29.0M-44.8 0.0l-26.5 -33.2M-44.8 0.0l-15.3 23.1M-44.8 0.0l-34.7 12.7M-44.8 0.0l-33.3 -8.8M-44.8 0.0l-7.2 -51.9"/><path stroke="#d6bc78" stroke-width="1.0" d="M-44.8 0.0l-18.7 -26.1M-44.8 0.0l-36.0 -11.3M-44.8 0.0l-35.7 -5.3M-44.8 0.0l-21.0 27.9M-44.8 0.0l-11.3 -25.9M-44.8 0.0l-12.0 -49.5M-44.8 0.0l-2.4 27.5M-44.8 0.0l-20.1 15.8M-44.8 0.0l-33.2 8.1"/><path stroke="#d6bc78" stroke-width="0.5" d="M-44.8 0.0l-20.0 -31.8M-44.8 0.0l-22.7 -18.4M-44.8 0.0l-11.7 33.5M-44.8 0.0l-27.1 -36.2M-44.8 0.0l-9.6 23.4M-44.8 0.0l-13.1 49.4M-44.8 0.0l-20.3 11.6M-44.8 0.0l-21.8 38.1M-44.8 0.0l-28.6 10.0M-44.8 0.0l-27.5 8.3"/><path stroke="#f0e2b8" stroke-width="0.5" d="M-44.8 0.0l-9.2 30.3M-44.8 0.0l-10.4 -17.7M-44.8 0.0l-16.2 -11.3"/><path stroke="#e8d6a0" stroke-width="1.0" d="M-44.8 0.0l-16.3 27.1M-44.8 0.0l-21.0 19.1M-44.8 0.0l-3.3 45.2M-44.8 0.0l-15.9 -39.2M-44.8 0.0l-32.3 4.7M-44.8 0.0l-6.5 -36.4M-44.8 0.0l-33.2 12.1M-44.8 0.0l-31.7 3.4M-44.8 0.0l4.1 39.8M-44.8 0.0l-28.6 -37.5M-44.8 0.0l-29.0 1.8M-44.8 0.0l-21.5 -3.2M-44.8 0.0l-24.0 -34.9M-44.8 0.0l-23.9 -4.1M-44.8 0.0l-30.7 4.6"/><path stroke="#f0e2b8" stroke-width="1.0" d="M-44.8 0.0l-19.6 23.6M-44.8 0.0l2.4 -23.8M-44.8 0.0l-39.2 12.1M-44.8 0.0l-10.3 -48.4M-44.8 0.0l-24.5 -5.9M-44.8 0.0l-16.1 28.0M-44.8 0.0l-5.8 45.1M-44.8 0.0l-35.8 12.8M-44.8 0.0l-24.3 23.8M-44.8 0.0l-22.3 -27.1M-44.8 0.0l-33.0 28.1M-44.8 0.0l-6.9 46.8M-44.8 0.0l-0.6 -26.9"/></g><ellipse cx="-42.8" cy="0" rx="4.5" ry="3" fill="#4a4040"/></g><g transform="translate(1262,390) rotate(-44)"><defs><linearGradient id="hbr4" x1="0" y1="0" x2="0" y2="1"><stop offset="0" stop-color="#6a6a6a"/><stop offset="0.3" stop-color="#cfcfcf"/><stop offset="0.6" stop-color="#8a8a8a"/><stop offset="1" stop-color="#4a4a4a"/></linearGradient><linearGradient id="bbr4" x1="0" y1="0" x2="0" y2="1"><stop offset="0" stop-color="#e4e4e4"/><stop offset="0.5" stop-color="#ebebeb"/><stop offset="1" stop-color="#efefef"/></linearGradient></defs><rect x="44.8" y="-8.0" width="44.2" height="16" rx="4.8" fill="url(#hbr4)"/><ellipse cx="86.0" cy="0" rx="3.5" ry="7.5" fill="#c8c8c8"/><path d="M-36.0,-54.0 L38.0,-54.0 A22.0,54.0 0 0 1 38.0,54.0 L-36.0,54.0 A24.0,54.0 0 0 1 -36.0,-54.0 Z" fill="url(#bbr4)"/><g stroke-linecap="round" fill="none"><path stroke="#f2f2f2" stroke-width="1.0" d="M-33.8 -46.0l-0.4 5.4M-20.7 -12.5l3.1 7.5M-43.9 12.8l-0.3 5.4M6.5 43.9l1.2 8.3M13.8 -41.9l-0.1 3.1M55.0 -2.5l-2.3 5.9M19.4 20.3l-2.9 7.4M-34.5 -20.1l-3.7 4.0M7.8 37.8l0.4 6.1M4.8 -22.9l-0.5 8.9M10.1 35.1l-0.8 7.7M-42.7 -29.7l8.3 3.1M13.0 -0.5l-2.5 5.0M13.4 5.1l-0.6 3.3M21.5 15.1l1.7 3.0"/><path stroke="#dadada" stroke-width="1.0" d="M33.9 -32.3l-0.5 4.6M55.6 -24.3l-2.3 4.6M34.9 -9.6l1.6 4.6M-8.5 41.5l8.1 1.7M-16.4 -37.7l-2.0 5.8M39.3 52.6l2.2 6.0M13.3 -21.8l-0.2 4.5M-47.1 30.0l-0.7 3.5M13.7 -15.7l3.7 2.2M4.6 -45.0l0.9 8.9M-39.5 37.7l-5.9 1.2M-43.3 20.3l-0.7 5.0M-28.1 16.5l-0.7 7.5M40.8 -34.6l-8.7 2.2"/><path stroke="#dadada" stroke-width="0.75" d="M-30.5 51.4l0.8 4.6M2.4 17.2l6.3 3.1M-42.3 32.9l0.6 4.7M-37.5 48.3l-3.3 5.7M42.4 -0.2l-0.1 4.5M-14.4 -8.1l-2.0 8.4M47.4 21.8l1.8 5.0M14.5 -6.7l-0.3 7.0M37.6 20.3l6.7 1.6M24.0 44.2l1.2 5.8M7.7 22.5l-1.0 5.9M1.0 45.1l-3.0 1.7M24.4 33.5l0.8 4.0M26.2 19.5l4.0 1.4M38.4 35.1l-2.4 4.5M-21.1 4.4l3.7 3.6M42.1 -49.4l-0.4 6.3"/><path stroke="#d2d2d2" stroke-width="0.75" d="M16.3 26.9l-3.3 1.3M5.9 9.6l-0.7 3.1M19.0 -44.0l-2.8 7.2M-23.9 -7.2l0.1 4.5M-32.6 29.2l-0.6 4.6M-18.3 49.9l2.0 7.2M-3.1 52.8l2.8 1.7M12.5 -29.0l-4.4 7.2M-2.8 -41.2l-2.2 8.1M16.9 -11.3l0.8 6.0M-21.6 47.4l-5.3 1.2M-31.5 -32.9l0.1 7.6"/><path stroke="#d2d2d2" stroke-width="1.0" d="M-14.3 -29.1l1.0 4.6M-43.4 -22.6l3.2 0.4M-38.4 -34.6l1.4 5.5M20.1 34.7l-1.2 6.8M21.5 -52.8l8.1 3.4M-7.7 -48.8l1.0 3.5M5.6 47.5l-1.8 8.4M49.9 23.4l-4.1 7.7M52.6 3.7l1.1 7.3M-15.4 40.3l-1.0 3.5M-20.6 38.8l-7.8 2.7M-28.2 -48.0l-0.0 6.7M10.5 -40.5l-4.4 7.8M32.8 34.9l0.3 6.8M30.7 4.8l0.8 8.0M22.7 34.9l4.2 0.4M58.4 2.3l0.4 3.4"/><path stroke="#f2f2f2" stroke-width="0.75" d="M26.2 -21.8l4.5 3.2M35.2 -10.4l-2.9 7.3M-53.1 5.0l3.2 7.0M33.1 41.2l-5.0 6.0M-25.8 0.9l0.2 4.0M-44.4 -32.6l1.4 6.6M36.3 26.9l0.1 3.7M38.4 -42.0l0.9 4.0"/><path stroke="#d2d2d2" stroke-width="0.5" d="M-38.1 15.4l1.7 4.6M-12.4 46.5l-4.7 6.1M-41.4 -40.7l1.9 8.2M-54.3 -29.5l3.3 6.8M-44.5 -39.8l-3.7 2.3"/><path stroke="#dadada" stroke-width="0.5" d="M-22.6 39.4l4.2 5.0M-3.0 12.0l-0.4 3.8M-27.2 -9.6l5.0 6.3"/><path stroke="#f2f2f2" stroke-width="0.5" d="M50.4 -24.1l1.1 6.3M13.5 20.3l1.5 4.5M37.2 21.0l0.5 8.7"/></g><g stroke-linecap="round" fill="none"><path stroke="#888" stroke-width="0.5" d="M50.2 -40.4l8.1 -9.8M-51.7 -33.3l-9.0 -1.8M-59.0 15.4l-10.1 1.0M-20.4 -51.8l2.2 -12.1M39.7 49.2l6.5 10.2M18.6 51.0l2.1 12.2M55.9 -14.6l8.7 1.2M-58.5 -6.3l-11.7 2.5M-58.0 10.4l-7.0 -0.6M-53.6 -25.5l-12.6 2.2M12.3 -53.2l2.9 -8.2M-58.6 -4.1l-4.7 -0.2M44.1 50.4l6.2 6.6M-9.0 -53.4l2.5 -8.6M-12.1 -53.8l1.3 -12.1M-28.8 54.5l-2.2 9.5M53.3 24.3l6.1 0.2M29.2 50.4l4.4 10.8M-25.4 -50.3l0.8 -6.1M16.8 54.2l-0.9 11.7M55.0 28.2l5.1 8.5M-45.5 -47.5l-6.8 -6.7M-51.7 -37.9l-7.8 1.0M13.4 -51.1l-0.4 -4.4M11.6 52.8l-1.3 4.6M58.2 -11.1l6.5 -1.5M-33.1 -52.1l-2.2 -4.9M57.4 -18.3l11.9 -1.0M13.7 -50.7l-1.8 -7.2M11.5 50.4l2.5 4.4M-58.5 19.9l-4.4 -0.3M-54.2 31.6l-11.1 -0.4M-51.6 31.5l-5.7 -0.1M-55.9 7.3l-10.5 -3.2M54.8 -27.0l5.7 -1.1M24.8 49.7l-1.7 11.7M-31.3 50.5l-0.2 9.5M55.0 -12.5l4.9 0.1M-26.7 51.7l3.4 9.3M-44.3 -47.5l-7.0 -3.6"/><path stroke="#888" stroke-width="0.75" d="M-55.0 -32.7l-9.0 1.8M-55.7 26.4l-3.8 5.6M34.7 51.9l-2.3 12.4M-33.1 -50.8l-1.7 -6.6M-54.9 25.3l-10.6 -1.0M-53.6 -28.4l-6.8 -6.8M41.4 48.5l5.4 5.4M45.8 -47.7l4.4 -4.5M46.1 -46.5l4.2 -3.6M-31.7 -52.6l-0.0 -11.1M-9.3 -53.9l2.1 -5.3M-50.9 40.4l-5.2 5.3M28.9 -51.7l-0.2 -4.8M-52.8 25.9l-12.3 2.0M12.2 -51.8l-1.7 -6.6M-9.2 -53.3l-0.9 -8.3M-21.8 54.0l2.1 8.5M56.6 -25.7l4.3 -4.3M-41.3 -51.9l-3.3 -6.1M57.4 -25.8l9.5 -1.9M-55.9 -11.3l-11.1 -4.2M-9.9 -49.5l-3.4 -9.8M-41.1 50.4l-2.7 3.5M31.9 53.5l2.6 7.7M-55.9 -19.6l-7.9 0.3M-54.7 -27.4l-2.5 -4.4M-43.8 48.5l-6.4 4.6M53.6 35.6l9.9 -1.1M28.1 -49.4l-0.6 -4.5M57.3 -19.4l11.9 3.4M57.6 -14.9l5.1 -4.4M42.2 48.8l4.9 4.2M-10.0 50.6l-1.6 9.1M18.6 53.9l-1.4 10.5M-0.6 50.1l-1.8 10.6M-6.6 50.9l-1.6 7.3M-38.1 -53.9l4.9 -7.6M-56.6 -20.2l-5.6 -0.4M47.1 42.7l3.2 11.5M46.4 -45.4l5.2 -3.3M10.3 -49.1l-0.4 -9.4M11.9 -50.1l-4.2 -9.8M-58.9 11.5l-5.4 -0.5M-52.9 -32.9l-3.2 -3.7M-57.7 2.1l-3.7 -5.7M52.0 -31.5l11.4 -2.2M-55.8 -10.7l-7.7 1.2M-3.0 -54.8l-0.2 -4.2M-51.9 32.8l-11.0 -0.1M3.8 -52.0l3.9 -8.6M-31.9 -53.3l0.9 -9.6M-12.1 54.2l1.9 5.2M-12.9 49.7l-0.9 5.6M46.2 44.3l6.3 -2.9M52.7 25.5l6.0 1.1M57.6 -15.0l8.4 -0.7M40.3 -52.0l-3.6 -8.0M25.7 53.7l-0.2 4.7M12.0 54.0l1.0 7.3M-56.3 -10.4l-8.8 -0.5M-60.0 -0.5l-10.3 0.4M-52.9 31.6l-8.9 -1.7M-19.8 50.0l0.4 10.9M-11.4 54.4l-2.4 4.3M43.7 50.7l6.6 5.2M-58.0 -11.4l-12.4 -2.6M-42.1 50.4l-5.3 4.4M-54.5 -21.4l-6.3 -3.7M-57.7 -7.5l-5.2 -0.5M-57.0 14.3l-11.2 -0.1M54.5 -32.3l10.5 -7.6M-1.2 51.2l1.1 10.8M48.8 -43.9l7.2 -6.2M-55.1 -30.7l-4.9 -5.4M37.2 50.7l0.4 5.3M-56.7 13.6l-2.6 3.9M-58.5 15.5l-7.1 -2.0M52.3 -31.7l3.9 -1.1M-29.4 49.8l-0.6 5.3M40.4 -51.4l-0.2 -4.2M-57.1 -13.7l-4.6 0.6M39.7 -49.9l2.4 -8.3M-17.4 -50.4l2.4 -9.5M-39.0 -50.5l-4.9 -4.3M-51.9 -35.2l-3.4 -2.4M40.9 54.1l4.0 5.4M-26.5 53.9l-1.9 11.2M-38.2 -52.5l-7.6 -6.7M-19.0 -51.0l-1.2 -4.5M-52.2 32.1l-11.1 5.1M-59.0 8.4l-8.6 1.8M-48.9 -36.5l-8.3 -0.3M50.5 41.5l3.2 4.8M54.6 -31.1l11.4 -1.9M-58.8 -13.5l-8.0 1.7M4.0 -51.9l-1.6 -8.6M52.8 35.7l10.0 -1.6M38.7 53.1l5.0 7.3M-58.7 -5.3l-6.9 0.8M54.1 35.4l9.8 7.7M54.0 19.3l11.4 1.2M-54.0 32.6l-10.3 -0.3M58.3 9.9l10.0 -0.5"/><path stroke="#b8b8b8" stroke-width="0.75" d="M0.8 52.3l-1.1 9.6M57.3 -14.4l9.7 -3.4M-1.9 53.2l1.2 7.5M27.4 52.9l0.7 7.4M46.8 44.6l5.1 5.5M51.3 -38.7l7.8 -7.9M-51.0 37.9l-5.5 4.8M-22.7 -50.2l3.0 -6.1M50.4 -40.4l5.6 -5.2M39.1 51.4l5.0 5.3M45.2 47.9l9.8 6.0M-53.5 29.0l-2.5 6.1M45.1 47.0l8.2 8.3M-52.7 -26.4l-7.5 -2.5M4.8 -53.9l-0.0 -9.6M-14.3 51.2l0.4 5.9M-39.9 -52.2l-8.0 -7.6M-0.6 54.6l0.6 6.6M-54.4 -33.1l-3.8 -4.5M-54.4 -28.4l-3.8 -2.2M-50.8 -40.3l-2.8 -3.0M-8.1 52.1l0.5 4.9M34.8 -50.3l-0.0 -10.3M-10.7 -54.2l-0.8 -5.6M-60.0 10.1l-7.1 2.0M56.1 9.8l12.6 1.0M-7.3 -54.2l-0.7 -8.5M-41.0 -48.3l-2.8 -3.2M55.7 29.1l8.1 10.1M-38.1 50.4l-0.7 9.7M16.6 53.5l-2.9 10.6M-13.6 -50.8l-1.5 -5.0M54.5 35.2l8.7 0.2M-46.4 -46.7l-10.5 -6.5M-22.9 -51.6l0.3 -8.5M52.3 -36.6l3.8 -2.6M-49.4 -43.3l-8.0 -6.3M16.7 54.4l-1.1 9.3M-51.6 -32.9l-4.5 0.2M-26.9 54.0l0.6 9.1M-53.1 33.4l-7.3 9.8M2.5 -51.9l1.1 -8.1M42.3 -51.0l4.2 -3.7M-52.7 -32.2l-10.7 0.7M37.5 52.0l-0.3 9.9M-3.5 -49.9l0.9 -9.8M50.8 37.1l6.9 8.6M5.1 -52.1l-1.9 -6.3M48.0 -45.2l4.2 -5.4M11.3 -51.2l2.8 -6.2M50.8 -34.9l6.5 -10.1M-52.8 33.7l-2.0 3.9M43.8 46.8l7.9 9.3M-21.7 50.5l0.9 5.6M12.0 -53.2l-4.1 -5.9M-52.1 38.0l-5.0 7.1M-1.2 -53.8l-7.1 -10.2M-41.1 49.5l-9.6 8.1M-55.4 -27.8l-10.2 -2.0M59.2 10.5l13.0 0.7M7.2 -50.5l-5.7 -8.5M-13.2 53.3l0.4 12.9M-58.1 -11.4l-5.9 -1.2M4.2 -52.3l0.2 -4.0M55.9 25.0l8.1 6.1M52.6 31.4l6.7 -2.2M-48.9 42.6l-4.3 5.0M-12.4 51.1l-0.8 5.6M-48.4 43.0l-5.6 6.7M-1.2 54.7l1.2 9.6M22.6 52.7l-0.1 8.5M-47.9 46.1l-7.0 5.3M6.1 -54.2l-0.3 -12.3M-58.3 11.4l-5.4 0.7M-49.8 -42.7l-8.7 1.9M46.9 -45.8l9.6 -7.2M-16.7 -50.6l-4.1 -11.9M-1.0 -51.0l0.3 -4.9M-9.4 50.6l5.0 9.4"/><path stroke="#9a9a9a" stroke-width="1.0" d="M19.9 54.2l-1.3 7.9M-30.0 -49.7l0.7 -12.0M-4.8 50.3l-1.1 4.4M-48.8 44.2l-4.2 4.1M54.2 26.1l7.2 -2.5M-53.3 -36.4l-4.4 -2.4M-29.9 -52.3l1.2 -11.6M-4.4 -52.3l-0.0 -7.6M-47.3 43.7l-5.5 5.2M35.7 -50.4l-1.2 -6.6M45.4 48.6l2.7 5.8M50.3 -38.8l4.2 -8.0M55.2 18.0l6.8 1.0M-2.8 -53.0l-0.9 -6.3M-57.4 22.2l-5.9 5.2M-0.3 52.8l-0.8 12.4M23.1 -50.2l-2.6 -11.3M2.6 53.5l2.7 12.5M-10.6 -53.1l0.5 -11.2M-1.1 50.8l-0.6 4.8M-19.5 53.1l-3.0 12.2M-54.1 -33.2l-8.1 -1.3"/><path stroke="#c8c8c8" stroke-width="0.75" d="M-24.3 -53.0l-0.2 -5.6M-55.5 25.8l-10.5 -0.8M0.4 -53.3l0.4 -4.8M20.1 54.3l1.7 11.0M49.2 40.0l3.3 4.1M22.0 54.3l0.9 11.9M-55.1 19.4l-6.7 -1.8M37.6 52.1l1.6 10.3M-58.7 16.4l-4.5 4.5M-31.7 50.9l-0.7 10.8M-45.4 46.0l-5.0 5.1M-59.1 -6.9l-9.7 -1.9M-59.5 12.0l-8.5 2.1M-0.9 -54.4l-0.1 -4.8M55.8 23.0l4.7 7.5M11.8 50.4l-0.8 7.7M-7.8 51.7l2.5 11.1M4.3 51.7l-2.0 12.8M15.9 -51.1l3.7 -11.0M14.4 -49.7l-0.5 -7.0M-55.8 28.3l-12.6 1.6M45.7 -44.8l8.6 -0.6M9.1 50.8l5.9 11.2M29.0 -54.1l0.3 -6.2M26.5 51.8l1.1 12.9M10.7 -50.3l-0.5 -8.5M-56.2 -10.7l-10.3 1.4M3.4 -54.8l0.6 -4.1M54.6 20.9l6.6 -0.4M-48.4 44.1l-3.8 3.4M-58.5 9.5l-5.8 -0.8M-49.5 38.7l-4.3 4.2M-50.8 39.7l-8.4 8.9M-56.1 28.0l-9.8 -0.9M-57.1 18.5l-10.6 3.6M-44.8 -46.2l-7.4 -7.2M-45.3 46.6l-5.4 5.9M-55.5 20.4l-7.7 8.9M-54.6 32.8l-12.0 -2.3M39.8 52.5l-2.0 10.9M39.3 49.3l1.0 12.1M40.3 53.0l5.7 4.6M-34.0 -53.9l-1.6 -8.1M55.5 26.4l5.9 5.9M-38.2 -51.3l-4.8 -4.1M-36.5 -52.4l-5.3 -3.8M48.0 -42.9l3.8 -3.8M-16.3 -51.1l0.6 -8.9M-48.4 -42.2l-10.8 4.0M37.5 50.7l1.0 8.8M36.7 -54.4l1.1 -10.4M52.0 40.2l6.8 0.4M-58.2 -19.3l-8.1 -3.2M-57.6 23.8l-4.0 3.6M29.7 -52.1l0.3 -4.4M19.4 52.1l1.1 5.2M-40.2 -49.1l-11.8 -4.7M-0.6 54.0l-1.3 12.0M52.6 -37.1l7.7 -8.1M-19.0 52.6l0.9 6.4M12.9 -51.1l0.6 -4.1M-29.2 53.8l-1.6 12.7M-54.0 35.1l-2.6 3.9M-51.6 -36.9l-5.2 -0.1M-52.9 25.4l-7.8 0.0M-17.1 51.3l-1.6 6.4M10.7 -50.7l-0.4 -10.9M-28.8 -54.1l-1.0 -11.8M0.6 -50.4l-2.0 -12.8M-6.5 49.6l1.5 6.7M56.6 26.6l2.9 3.4M8.7 52.5l1.3 7.8M-55.3 -28.1l-4.7 -6.1M43.1 -49.0l4.4 -6.7M54.8 12.3l12.3 1.1M54.8 -34.8l10.8 0.2M-39.8 -52.4l-4.8 -3.7M-39.6 50.0l-5.5 4.1M-58.7 -15.0l-5.4 0.3M-56.5 19.5l-4.9 -0.4M31.6 -53.5l0.3 -6.1M-35.4 50.5l-4.8 11.0M49.2 39.6l8.1 0.0M23.3 -51.8l0.4 -8.5M-50.4 39.3l-5.6 8.0M54.8 -18.7l10.3 0.0M-53.2 26.0l-5.3 1.5M-0.3 -51.5l1.0 -5.2M52.1 36.8l4.2 3.9M-4.8 52.9l-0.5 7.9M-39.3 -52.4l-8.2 -5.2M-48.4 43.4l-8.0 4.9M10.1 -49.7l2.4 -11.0M-57.1 12.3l-7.1 1.6M-10.1 53.4l0.9 6.9M59.3 15.4l10.1 6.2M21.5 -54.0l0.8 -7.0M-60.0 -7.6l-6.7 0.0"/><path stroke="#b8b8b8" stroke-width="0.5" d="M-43.9 -49.4l-10.6 -6.7M55.8 -19.8l6.7 -9.4M57.1 13.6l5.0 -0.1M-39.4 -52.8l-2.9 -2.8M-57.4 -23.5l-6.9 -8.8M38.6 -50.1l7.3 -4.6M44.3 47.9l5.8 8.1M-47.8 -40.9l-7.6 -10.5M-27.4 -51.9l0.6 -11.6M-53.3 26.1l-10.6 1.4M-54.9 32.3l-7.0 2.8M-47.4 42.8l-10.1 -1.3M48.1 -40.2l4.8 0.6M-7.1 -49.9l-1.3 -6.2M27.3 -52.8l-0.2 -10.7M-35.8 53.0l0.8 4.9M45.6 -46.7l3.9 -3.0M47.0 45.0l8.7 -2.9M-59.2 4.3l-7.1 0.6M57.7 19.3l10.8 0.3M-52.4 34.0l-7.2 8.4M28.9 53.7l1.0 4.4M-58.6 18.9l-6.7 -0.3M21.6 -52.1l-0.9 -7.2M6.8 -50.3l0.9 -5.0M56.9 21.6l8.0 9.4M-54.4 -33.3l-4.7 -8.2M55.5 -13.0l6.7 -1.0M-57.7 7.4l-7.7 3.7M-19.4 -53.1l2.0 -10.1M37.8 -53.6l6.5 -8.6M-53.8 22.4l-7.7 -0.5M9.9 51.3l-0.7 4.1M-47.1 -44.4l-6.3 -10.8M52.5 35.4l5.7 5.4M-25.7 -50.8l0.5 -9.4M-53.9 -20.8l-9.0 -2.8M28.9 51.2l-0.1 13.0"/><path stroke="#888" stroke-width="1.0" d="M47.7 -46.3l3.5 -3.9M-35.1 49.8l0.6 7.4M-53.7 21.3l-9.6 -0.5M56.2 -13.5l7.2 1.7M21.4 -54.3l1.2 -3.9M-53.1 -32.7l-4.0 -5.0M57.2 -25.9l5.5 -0.6M52.9 30.8l11.2 -0.3M1.9 53.2l-1.7 8.3M55.2 19.3l5.1 1.3M-34.8 54.2l-0.6 4.3M-24.3 52.8l0.6 9.1M-3.6 -52.6l0.2 -6.5M55.7 14.4l5.1 0.8M-30.0 -53.9l2.4 -7.1M-60.0 -7.5l-7.8 2.1M57.6 -9.3l5.7 -2.1M58.7 13.3l12.2 1.5M40.9 -50.7l8.1 -9.5M-11.1 51.9l-1.1 12.1M-54.4 -28.0l-8.7 -6.7M58.3 -19.5l12.0 2.2M14.3 -50.4l-2.1 -8.9M-60.4 0.9l-5.1 2.9M52.9 32.6l6.3 3.8M-12.6 52.2l-1.8 12.7M37.2 -53.0l-0.1 -4.8M-24.1 -51.8l1.0 -4.4M16.8 50.8l-0.4 5.6M-3.2 53.7l-1.8 7.7M-27.3 -49.9l-0.1 -6.4M-47.4 45.5l-7.9 7.1M-29.2 -51.3l0.0 -12.8M49.4 -40.2l4.9 -6.5M-33.5 51.6l-0.7 4.3M-51.8 -37.7l-9.2 4.5M47.7 45.0l5.6 5.8"/><path stroke="#b8b8b8" stroke-width="1.0" d="M-57.4 -7.7l-10.9 -1.3M-30.7 -54.1l-0.9 -6.2M-21.9 -54.2l-0.7 -6.9M-3.2 50.3l2.6 10.3M-13.5 50.8l-2.1 7.5M-59.4 -0.1l-10.2 -1.3M55.2 -14.6l7.8 2.5M8.2 54.2l3.4 12.5M16.4 -52.1l1.0 -9.3M56.5 25.3l9.8 3.4M10.7 54.8l-0.7 4.2M-59.5 14.1l-5.8 8.5M-20.0 53.8l-3.1 9.1M19.2 50.6l4.0 10.1M-39.5 52.5l-4.8 4.9M-60.0 -10.2l-9.2 -0.1M-33.1 -50.6l0.4 -10.2M-4.8 -52.5l0.4 -5.9M-7.3 -50.3l5.6 -10.2M-51.8 -37.0l-10.4 -1.0M-56.4 -23.4l-4.8 -3.9M-55.7 11.2l-11.4 2.2M57.4 15.6l4.8 2.7M-49.8 -37.8l-4.6 -3.3M-55.8 10.2l-6.3 0.7M55.6 25.9l4.9 3.3M53.3 36.2l4.6 7.4M-49.5 39.9l-11.2 5.3M-47.9 44.3l-5.3 3.7M-20.1 49.6l1.0 9.2M-27.6 52.7l0.9 10.3M-1.0 -51.8l0.3 -9.7M-9.0 50.6l-1.3 5.1M-45.0 45.9l-8.2 9.6M-22.2 50.8l-1.4 6.5M6.0 -51.7l-0.7 -4.4M-60.4 -0.2l-5.5 -8.7M-57.2 -8.8l-9.2 0.1M-33.8 -50.8l3.4 -9.3M56.9 25.9l11.1 -2.9M-46.1 -46.0l-2.1 -5.5M56.3 -27.1l9.2 1.2M-19.5 52.9l-1.4 12.6M-44.4 -46.5l-0.9 -4.0"/><path stroke="#9a9a9a" stroke-width="0.75" d="M-39.5 50.0l-3.8 6.8M14.5 -51.6l3.7 -12.2M24.6 -53.4l-0.5 -11.5M-5.3 51.4l-1.7 7.5M-55.5 -24.3l-3.5 -5.2M31.1 52.6l0.7 8.2M-53.8 -27.7l-10.9 1.6M-29.3 -50.9l3.3 -11.0M-51.1 32.7l-8.4 7.4M-56.1 9.0l-5.4 1.3M51.1 35.8l6.0 2.8M-56.5 9.7l-11.7 1.3M-27.9 -52.5l-1.2 -9.1M2.2 51.3l1.3 10.6M30.1 53.8l-1.0 4.5M22.6 50.6l-1.1 11.3M-17.2 49.6l2.1 12.8M25.5 -50.3l-0.7 -6.1M-36.0 50.7l-0.4 9.2M56.0 -19.2l3.9 -2.2M-24.9 53.6l-3.0 11.2M32.0 -54.0l0.8 -5.1M-39.0 -49.8l-3.9 -3.3M13.3 50.8l0.1 4.2M-44.6 47.3l-6.7 5.0M49.4 -35.9l11.7 0.8M-60.4 7.0l-7.7 -1.7M-56.9 -10.0l-5.6 0.1M12.4 50.6l-0.9 10.4M15.3 -54.6l1.7 -11.0M-59.2 5.4l-10.8 -2.3M40.0 -52.4l-0.2 -10.8M-57.6 15.1l-5.9 3.1M20.6 -49.4l-1.1 -8.2M58.5 20.0l5.3 -1.8M51.4 38.5l3.6 5.3M-54.4 26.9l-4.8 0.3M16.5 -51.6l0.8 -10.2M1.0 53.1l0.3 6.5M-24.5 50.7l0.5 11.2M-55.0 -15.5l-5.1 -0.5M-25.5 53.7l2.8 9.6M8.5 52.1l0.3 8.9M-57.4 10.9l-9.3 -0.4M33.5 50.6l-0.2 5.1M26.5 -54.5l-0.6 -6.8M-10.8 -50.5l1.1 -7.1M-51.3 34.5l-5.0 6.9M-57.8 4.0l-5.0 2.7M22.9 -51.2l1.5 -12.6M39.4 52.0l2.8 9.5M-43.4 50.0l-7.9 7.5M-54.2 27.7l-5.1 5.8M-56.7 24.2l-5.4 1.9M-56.8 13.8l-5.5 0.3M-5.4 -52.3l2.0 -6.5M-54.4 21.6l-6.4 0.9M-37.1 -53.3l-4.0 -3.8M-57.9 15.7l-5.3 1.4M-53.6 32.6l-5.2 3.4M32.0 -51.6l0.6 -13.0M54.9 24.3l11.1 -2.6M-10.2 49.4l0.3 8.8M-37.6 49.7l2.7 11.9M-22.9 -52.4l-0.8 -9.4M56.5 -20.7l4.4 -1.2M-50.6 40.2l-4.1 2.7M53.0 -31.1l7.6 2.5M32.0 53.0l1.9 10.9M-54.8 32.2l-5.5 1.4M56.0 -20.2l11.9 3.5M55.4 -9.5l8.7 0.7M58.1 24.3l6.8 -1.4M-48.8 -44.4l-3.9 -3.6M41.6 51.7l5.8 4.4M-2.8 -51.3l-0.7 -7.8M-54.1 -25.7l-5.4 1.6M27.0 -53.6l1.1 -6.5M59.2 -14.1l5.9 -4.9M-45.4 -46.5l-5.8 -6.4M-52.5 -35.5l-5.5 -8.1M-59.7 -7.6l-9.2 1.7M1.3 -54.4l3.9 -11.0M-8.5 -50.5l-0.2 -12.2M20.0 50.3l-3.3 12.4M-59.0 -16.3l-8.7 -8.6M46.7 -46.2l7.1 -4.3M5.5 -52.0l0.9 -11.3M53.7 -25.7l4.9 -2.9M55.9 -17.7l8.3 0.8"/><path stroke="#c8c8c8" stroke-width="1.0" d="M-40.1 49.7l-4.9 4.1M-8.4 -52.2l2.6 -11.1M-49.8 -36.5l-7.6 -7.2M32.1 50.6l0.3 10.9M-26.9 51.9l-0.4 9.5M4.4 51.8l-0.9 4.8M36.4 -51.4l5.3 -4.8M-40.4 -48.5l-3.9 -1.1M-36.9 52.9l-6.9 10.7M-38.4 51.0l-5.3 6.5M52.8 37.6l5.3 4.7M51.9 34.3l8.2 -0.7M14.4 -52.3l-1.3 -6.2M13.1 -52.4l-0.3 -4.0M-9.1 51.8l-1.2 9.9M-4.7 -52.8l6.6 -7.4M52.3 37.1l2.6 4.1M20.8 -50.7l-1.7 -8.5M51.6 -30.0l8.5 2.4M47.6 41.9l7.6 4.3M-59.3 -14.7l-5.8 -6.9M-48.2 -39.5l-2.6 -3.1M-46.1 42.1l-3.4 3.5M-47.2 43.8l-10.3 6.5M36.2 51.7l8.0 7.1M-48.4 38.3l-4.0 2.1M-45.8 45.6l-7.1 4.0M-55.7 -23.8l-9.6 -6.9M-4.5 54.3l0.7 11.2M6.4 54.1l-1.1 5.6M-8.4 -51.8l-4.7 -11.1M49.0 -41.0l7.5 -8.1M-54.5 18.9l-5.2 -1.4M57.2 25.7l5.5 0.2M52.7 30.2l9.1 8.9M-57.7 20.7l-11.7 1.9M-50.4 40.4l-7.6 8.7M-1.6 51.1l1.0 7.0M-32.9 -52.6l-2.1 -7.9M18.5 -52.9l0.9 -4.2M10.8 -52.5l0.8 -6.7M58.5 11.7l5.0 0.2M-49.6 37.0l-3.9 3.5"/><path stroke="#9a9a9a" stroke-width="0.5" d="M-7.0 49.8l-0.4 5.5M-40.6 -49.7l-8.7 -3.3M-49.9 37.0l-6.3 6.8M-5.4 -51.9l-0.1 -12.5M-33.8 54.1l-8.5 8.4M-55.3 -11.4l-9.1 0.2M50.5 36.0l6.1 5.3M38.1 -52.2l4.0 -3.0M-46.3 -46.1l-1.3 -5.2M-50.4 43.4l-2.9 2.9M54.3 31.1l12.1 -1.1M-8.6 -51.7l-1.8 -6.8M43.3 -47.0l8.9 -7.9M50.4 -40.4l6.4 -4.8M-4.6 -53.1l0.0 -4.6M-11.7 -52.2l1.4 -4.0M-55.7 10.5l-8.4 -0.1M19.7 -51.5l0.5 -7.9M51.8 -36.1l7.6 -7.6M-37.9 53.0l-0.5 5.0M55.0 31.7l9.2 1.3M51.4 39.5l4.1 -0.9M-42.0 -48.9l-6.1 -10.4M55.0 27.0l5.2 6.4M-4.9 -53.5l2.9 -11.7M39.2 49.7l3.7 12.4M-58.3 10.9l-6.5 -0.6M-57.4 -22.9l-7.2 -5.4M51.0 -40.2l9.0 -2.0M49.4 -43.2l9.9 -6.3M-51.9 -31.4l-5.8 0.9M48.4 -43.4l3.6 -5.8M37.1 52.7l-2.0 8.2M43.6 48.4l3.8 3.6M54.2 -29.8l7.5 -8.8M-56.7 -16.9l-8.3 -5.9"/><path stroke="#c8c8c8" stroke-width="0.5" d="M54.2 -26.8l10.0 -2.1M46.0 49.2l7.9 4.9M-35.2 54.0l-11.1 6.3M13.4 -51.7l-3.0 -9.3M-53.0 -37.6l-12.4 -1.9M-4.3 -50.7l3.0 -8.8M58.3 -20.4l5.6 -3.0M57.5 -18.0l8.4 -1.5M9.9 53.7l2.1 11.2M17.4 -53.2l-0.8 -5.9M55.6 25.9l8.1 9.3M-57.9 6.3l-10.8 2.9M-12.4 52.2l-0.9 10.7M-50.4 -37.9l-5.0 0.2M56.0 21.3l8.6 -1.2M58.0 -14.5l12.5 0.8M24.2 54.0l-1.0 11.6M46.7 -46.9l4.8 -7.4M-26.5 -51.9l-1.7 -7.4M13.0 51.5l1.3 9.6M54.2 -33.3l0.7 -7.6M-36.1 51.7l0.8 7.5M37.3 -52.9l1.1 -9.2M-55.1 31.3l-5.4 -1.2M45.5 -48.3l5.9 -6.2M47.9 -39.8l9.1 -8.3M53.1 -36.5l4.1 -4.6M-8.3 51.9l-3.1 7.9M47.1 -47.3l3.4 -2.9M49.5 -39.7l9.7 1.7M20.2 53.6l0.9 10.2M40.1 51.5l3.1 10.9M14.5 -49.5l-0.9 -9.0"/></g><g stroke-linecap="round" fill="none"><path stroke="#777" stroke-width="0.5" d="M-40.6 0.0l-21.2 58.6M-40.6 0.0l-5.4 -36.1M-40.6 0.0l-41.8 25.6M-40.6 0.0l-25.4 -12.6M-40.6 0.0l-27.8 8.9M-40.6 0.0l-39.2 26.6M-40.6 0.0l-2.3 -30.8M-40.6 0.0l-24.7 14.0M-40.6 0.0l-17.2 20.8M-40.6 0.0l-11.8 40.6M-40.6 0.0l-29.9 23.8M-40.6 0.0l-38.1 -5.2"/><path stroke="#777" stroke-width="0.75" d="M-40.6 0.0l-15.0 -34.9M-40.6 0.0l-14.7 54.7M-40.6 0.0l-18.3 36.1M-40.6 0.0l-31.7 14.2M-40.6 0.0l-14.6 58.2M-40.6 0.0l-0.0 -42.2M-40.6 0.0l-8.9 -44.3M-40.6 0.0l-40.9 33.3M-40.6 0.0l-2.8 66.4M-40.6 0.0l-38.2 0.9M-40.6 0.0l-50.9 -2.4M-40.6 0.0l3.7 51.8M-40.6 0.0l-25.9 46.0"/><path stroke="#a0a0a0" stroke-width="1.0" d="M-40.6 0.0l-22.7 35.6M-40.6 0.0l7.2 -61.9M-40.6 0.0l-37.4 18.5M-40.6 0.0l-11.9 59.8M-40.6 0.0l-25.0 29.9M-40.6 0.0l1.7 38.5M-40.6 0.0l-6.0 -30.8M-40.6 0.0l-23.4 0.9M-40.6 0.0l-6.6 -46.3M-40.6 0.0l-26.7 33.3M-40.6 0.0l-32.3 1.4M-40.6 0.0l-13.7 60.5M-40.6 0.0l-35.5 36.1"/><path stroke="#a0a0a0" stroke-width="0.5" d="M-40.6 0.0l-7.1 -64.3M-40.6 0.0l-27.9 40.6M-40.6 0.0l-17.4 -48.0M-40.6 0.0l-21.2 59.0M-40.6 0.0l-29.9 25.8M-40.6 0.0l-20.8 -39.3M-40.6 0.0l-18.2 -58.4"/><path stroke="#f0f0f0" stroke-width="0.5" d="M-40.6 0.0l-37.4 -6.9M-40.6 0.0l-26.7 -41.6M-40.6 0.0l-7.9 -61.4M-40.6 0.0l-2.1 -66.7M-40.6 0.0l-42.4 -2.8M-40.6 0.0l-1.3 -37.3M-40.6 0.0l-16.0 30.3M-40.6 0.0l3.0 40.9M-40.6 0.0l-6.2 68.3M-40.6 0.0l-14.7 47.6M-40.6 0.0l-7.9 52.3"/><path stroke="#f0f0f0" stroke-width="0.75" d="M-40.6 0.0l-0.1 -30.2M-40.6 0.0l-24.1 -28.0M-40.6 0.0l-35.4 7.6M-40.6 0.0l-26.1 32.8M-40.6 0.0l-21.7 -24.6M-40.6 0.0l-16.8 -59.0M-40.6 0.0l-35.5 21.6M-40.6 0.0l-13.4 36.0M-40.6 0.0l-31.0 -24.6M-40.6 0.0l-11.4 -45.3M-40.6 0.0l-39.7 33.2M-40.6 0.0l-21.0 40.5"/><path stroke="#b4b4b4" stroke-width="1.0" d="M-40.6 0.0l-15.0 23.9M-40.6 0.0l-42.2 26.2M-40.6 0.0l-19.6 22.4M-40.6 0.0l-34.3 46.7M-40.6 0.0l-35.3 8.2M-40.6 0.0l-45.1 -35.0M-40.6 0.0l-21.0 -31.6M-40.6 0.0l-1.6 -48.7M-40.6 0.0l-45.6 -18.6M-40.6 0.0l-10.4 -44.7M-40.6 0.0l-26.9 -14.2M-40.6 0.0l-13.6 -30.8M-40.6 0.0l-30.9 11.2M-40.6 0.0l-20.1 -32.5M-40.6 0.0l-17.1 62.0M-40.6 0.0l-9.9 -38.0M-40.6 0.0l-37.8 15.8M-40.6 0.0l-34.2 25.7M-40.6 0.0l-44.3 20.3"/><path stroke="#777" stroke-width="1.0" d="M-40.6 0.0l-33.0 38.7M-40.6 0.0l-30.7 -35.1M-40.6 0.0l-2.0 60.1M-40.6 0.0l-44.5 6.5M-40.6 0.0l-4.2 -63.0M-40.6 0.0l-24.0 29.3M-40.6 0.0l-12.9 52.1M-40.6 0.0l6.4 -61.7M-40.6 0.0l-28.6 0.4M-40.6 0.0l-47.9 16.0M-40.6 0.0l-36.5 -24.9"/><path stroke="#8a8a8a" stroke-width="0.75" d="M-40.6 0.0l1.1 64.8M-40.6 0.0l-39.6 21.2M-40.6 0.0l-40.4 -26.3M-40.6 0.0l-5.5 48.2M-40.6 0.0l-16.8 46.9M-40.6 0.0l-34.7 -6.4M-40.6 0.0l5.3 -51.7M-40.6 0.0l-23.4 -15.0M-40.6 0.0l-36.9 -23.1M-40.6 0.0l0.6 44.6M-40.6 0.0l0.1 53.2M-40.6 0.0l-35.9 29.4"/><path stroke="#8a8a8a" stroke-width="1.0" d="M-40.6 0.0l-5.3 -45.8M-40.6 0.0l-17.2 62.3M-40.6 0.0l-29.2 47.4M-40.6 0.0l-27.7 43.9M-40.6 0.0l-9.2 -51.3M-40.6 0.0l-1.3 37.5M-40.6 0.0l-22.0 -61.7M-40.6 0.0l-16.2 -20.5M-40.6 0.0l-24.5 34.4M-40.6 0.0l-18.5 20.2M-40.6 0.0l-18.7 -19.8M-40.6 0.0l-13.4 -37.8M-40.6 0.0l-23.3 3.1M-40.6 0.0l-41.6 -6.0M-40.6 0.0l-20.0 34.5M-40.6 0.0l-1.1 30.3M-40.6 0.0l-6.4 58.8"/><path stroke="#b4b4b4" stroke-width="0.5" d="M-40.6 0.0l-25.8 22.9M-40.6 0.0l-13.2 26.1M-40.6 0.0l-47.1 -23.7M-40.6 0.0l-11.7 -24.5M-40.6 0.0l-19.1 -51.5M-40.6 0.0l-12.2 54.3"/><path stroke="#b4b4b4" stroke-width="0.75" d="M-40.6 0.0l-47.4 -22.9M-40.6 0.0l-47.7 -19.7M-40.6 0.0l-18.6 43.6M-40.6 0.0l-38.6 3.4M-40.6 0.0l3.9 59.7M-40.6 0.0l-48.6 -5.5M-40.6 0.0l-42.4 10.2M-40.6 0.0l-15.2 -66.5M-40.6 0.0l-25.3 18.9M-40.6 0.0l-25.4 -12.5M-40.6 0.0l-32.0 11.9M-40.6 0.0l-45.8 -3.4"/><path stroke="#8a8a8a" stroke-width="0.5" d="M-40.6 0.0l-47.6 -28.5M-40.6 0.0l-20.1 37.3M-40.6 0.0l2.1 39.4M-40.6 0.0l-51.2 -4.1M-40.6 0.0l-5.5 -48.3M-40.6 0.0l-3.4 67.5M-40.6 0.0l-5.8 -47.4M-40.6 0.0l-14.9 -31.6"/><path stroke="#a0a0a0" stroke-width="0.75" d="M-40.6 0.0l-27.8 -36.3M-40.6 0.0l-26.2 -8.2M-40.6 0.0l-31.8 -13.4M-40.6 0.0l-35.4 9.4M-40.6 0.0l-12.5 58.3M-40.6 0.0l-21.1 -13.3M-40.6 0.0l-23.8 28.0M-40.6 0.0l-30.0 -1.6M-40.6 0.0l-4.7 33.9M-40.6 0.0l-1.6 38.9"/><path stroke="#f0f0f0" stroke-width="1.0" d="M-40.6 0.0l-22.0 11.2M-40.6 0.0l-42.9 38.0M-40.6 0.0l3.7 35.1M-40.6 0.0l-9.5 -66.7M-40.6 0.0l-9.6 67.8M-40.6 0.0l5.2 47.4M-40.6 0.0l-3.3 -41.3"/></g><ellipse cx="-38.6" cy="0" rx="4.5" ry="3" fill="#303030"/></g></g></svg><div style="position:absolute;left:1200px;top:45px;width:21px;height:21px;background:#b5173a;color:#fff;font:700 13px/21px 'Liberation Sans',sans-serif;text-align:center">2</div><div style="position:absolute;left:1310px;top:9px;width:20.5px;height:20px;background:#b5173a;color:#fff;font:700 13px/20px 'Liberation Sans',sans-serif;text-align:center">5</div><div style="position:absolute;left:1135px;top:273px;width:20px;height:20px;background:#b5173a;color:#fff;font:700 13px/20px 'Liberation Sans',sans-serif;text-align:center">1</div><div style="position:absolute;left:1149px;top:432px;width:15px;height:14.5px;background:#b5173a;color:#fff;font:700 10px/14.5px 'Liberation Sans',sans-serif;text-align:center">3</div><div style="position:absolute;left:1351.5px;top:332px;width:15px;height:15px;background:#b5173a;color:#fff;font:700 10px/15px 'Liberation Sans',sans-serif;text-align:center">4</div>
<svg width="1374" height="936" viewBox="0 0 1374 936" style="position:absolute;left:0;top:0"><g stroke="#575757" fill="none" stroke-linecap="butt"><rect x="1139.5" y="537" width="25" height="23.5" stroke-width="2.6"/><line x1="1142.5" y1="538" x2="1142.5" y2="560" stroke-width="1.6"/><line x1="1161.5" y1="538" x2="1161.5" y2="560" stroke-width="1.6"/><line x1="1152.5" y1="528" x2="1152.5" y2="551" stroke-width="1" stroke-dasharray="6 3"/><rect x="1135.8" y="566" width="32" height="24.5" stroke-width="2.6"/><line x1="1152.6" y1="566" x2="1152.6" y2="590" stroke-width="2"/><rect x="1138.2" y="590.5" width="28.4" height="17.8" stroke-width="2.6"/></g><circle cx="1152.5" cy="599.5" r="0.9" fill="#575757"/><g stroke="#575757" fill="none" stroke-width="2.4"><line x1="1091" y1="648.5" x2="1215" y2="648.5"/><line x1="1091" y1="659.8" x2="1215" y2="659.8"/><line x1="1091" y1="670.3" x2="1215" y2="670.3"/><line x1="1091" y1="680.8" x2="1215" y2="680.8"/><line x1="1091" y1="691.8" x2="1215" y2="691.8"/><line x1="1091" y1="702.2" x2="1215" y2="702.2"/><line x1="1091" y1="713.5" x2="1215" y2="713.5"/><line x1="1091" y1="724.2" x2="1215" y2="724.2"/><line x1="1091" y1="736.7" x2="1215" y2="736.7"/><line x1="1091" y1="749.4" x2="1215" y2="749.4"/><line x1="1091" y1="762.3" x2="1215" y2="762.3"/><line x1="1091" y1="774.3" x2="1215" y2="774.3"/><line x1="1091" y1="785.8" x2="1215" y2="785.8"/><line x1="1091" y1="797.7" x2="1215" y2="797.7"/><line x1="1091" y1="811" x2="1215" y2="811"/><line x1="1091" y1="823" x2="1215" y2="823"/><line x1="1090" y1="640.3" x2="1127.5" y2="640.3"/><line x1="1136.5" y1="640.3" x2="1168" y2="640.3"/><line x1="1176.5" y1="640.3" x2="1216" y2="640.3"/><line x1="1090" y1="835" x2="1127.5" y2="835"/><line x1="1136.5" y1="835" x2="1168" y2="835"/><line x1="1176.5" y1="835" x2="1216" y2="835"/><line x1="1090.5" y1="640" x2="1090.5" y2="714.5" stroke-width="1.8"/><line x1="1090.5" y1="723" x2="1090.5" y2="732" stroke-width="1.8"/><line x1="1090.5" y1="742" x2="1090.5" y2="750.5" stroke-width="1.8"/><line x1="1090.5" y1="761.5" x2="1090.5" y2="835" stroke-width="1.8"/><line x1="1215" y1="640" x2="1215" y2="714.5" stroke-width="1.8"/><line x1="1215" y1="723" x2="1215" y2="732" stroke-width="1.8"/><line x1="1215" y1="742" x2="1215" y2="750.5" stroke-width="1.8"/><line x1="1215" y1="761.5" x2="1215" y2="835" stroke-width="1.8"/></g><defs><clipPath id="shc"><rect x="1145.6" y="609" width="12.8" height="248"/></clipPath></defs><path d="M1143,608 L1161,608 L1161,852 Q1161,860 1152,860 Q1143,860 1143,852 Z" fill="#575757"/><g clip-path="url(#shc)" fill="#f1f1f1"><path d="M1145.5,604 L1152.2,611.5 L1152.2,618 L1145.5,610.5 Z"/><path d="M1153.4,606.5 L1158.6,612.5 L1158.6,619 L1153.4,613 Z"/><path d="M1145.5,615.5 L1152.2,623.0 L1152.2,629.5 L1145.5,622.0 Z"/><path d="M1153.4,618.0 L1158.6,624.0 L1158.6,630.5 L1153.4,624.5 Z"/><path d="M1145.5,627.0 L1152.2,634.5 L1152.2,641.0 L1145.5,633.5 Z"/><path d="M1153.4,629.5 L1158.6,635.5 L1158.6,642.0 L1153.4,636.0 Z"/><path d="M1145.5,638.5 L1152.2,646.0 L1152.2,652.5 L1145.5,645.0 Z"/><path d="M1153.4,641.0 L1158.6,647.0 L1158.6,653.5 L1153.4,647.5 Z"/><path d="M1145.5,650.0 L1152.2,657.5 L1152.2,664.0 L1145.5,656.5 Z"/><path d="M1153.4,652.5 L1158.6,658.5 L1158.6,665.0 L1153.4,659.0 Z"/><path d="M1145.5,661.5 L1152.2,669.0 L1152.2,675.5 L1145.5,668.0 Z"/><path d="M1153.4,664.0 L1158.6,670.0 L1158.6,676.5 L1153.4,670.5 Z"/><path d="M1145.5,673.0 L1152.2,680.5 L1152.2,687.0 L1145.5,679.5 Z"/><path d="M1153.4,675.5 L1158.6,681.5 L1158.6,688.0 L1153.4,682.0 Z"/><path d="M1145.5,684.5 L1152.2,692.0 L1152.2,698.5 L1145.5,691.0 Z"/><path d="M1153.4,687.0 L1158.6,693.0 L1158.6,699.5 L1153.4,693.5 Z"/><path d="M1145.5,696.0 L1152.2,703.5 L1152.2,710.0 L1145.5,702.5 Z"/><path d="M1153.4,698.5 L1158.6,704.5 L1158.6,711.0 L1153.4,705.0 Z"/><path d="M1145.5,707.5 L1152.2,715.0 L1152.2,721.5 L1145.5,714.0 Z"/><path d="M1153.4,710.0 L1158.6,716.0 L1158.6,722.5 L1153.4,716.5 Z"/><path d="M1145.5,719.0 L1152.2,726.5 L1152.2,733.0 L1145.5,725.5 Z"/><path d="M1153.4,721.5 L1158.6,727.5 L1158.6,734.0 L1153.4,728.0 Z"/><path d="M1145.5,730.5 L1152.2,738.0 L1152.2,744.5 L1145.5,737.0 Z"/><path d="M1153.4,733.0 L1158.6,739.0 L1158.6,745.5 L1153.4,739.5 Z"/><path d="M1145.5,742.0 L1152.2,749.5 L1152.2,756.0 L1145.5,748.5 Z"/><path d="M1153.4,744.5 L1158.6,750.5 L1158.6,757.0 L1153.4,751.0 Z"/><path d="M1145.5,753.5 L1152.2,761.0 L1152.2,767.5 L1145.5,760.0 Z"/><path d="M1153.4,756.0 L1158.6,762.0 L1158.6,768.5 L1153.4,762.5 Z"/><path d="M1145.5,765.0 L1152.2,772.5 L1152.2,779.0 L1145.5,771.5 Z"/><path d="M1153.4,767.5 L1158.6,773.5 L1158.6,780.0 L1153.4,774.0 Z"/><path d="M1145.5,776.5 L1152.2,784.0 L1152.2,790.5 L1145.5,783.0 Z"/><path d="M1153.4,779.0 L1158.6,785.0 L1158.6,791.5 L1153.4,785.5 Z"/><path d="M1145.5,788.0 L1152.2,795.5 L1152.2,802.0 L1145.5,794.5 Z"/><path d="M1153.4,790.5 L1158.6,796.5 L1158.6,803.0 L1153.4,797.0 Z"/><path d="M1145.5,799.5 L1152.2,807.0 L1152.2,813.5 L1145.5,806.0 Z"/><path d="M1153.4,802.0 L1158.6,808.0 L1158.6,814.5 L1153.4,808.5 Z"/><path d="M1145.5,811.0 L1152.2,818.5 L1152.2,825.0 L1145.5,817.5 Z"/><path d="M1153.4,813.5 L1158.6,819.5 L1158.6,826.0 L1153.4,820.0 Z"/><path d="M1145.5,822.5 L1152.2,830.0 L1152.2,836.5 L1145.5,829.0 Z"/><path d="M1153.4,825.0 L1158.6,831.0 L1158.6,837.5 L1153.4,831.5 Z"/><path d="M1145.5,834.0 L1152.2,841.5 L1152.2,848.0 L1145.5,840.5 Z"/><path d="M1153.4,836.5 L1158.6,842.5 L1158.6,849.0 L1153.4,843.0 Z"/><path d="M1145.5,845.5 L1152.2,853.0 L1152.2,859.5 L1145.5,852.0 Z"/><path d="M1153.4,848.0 L1158.6,854.0 L1158.6,860.5 L1153.4,854.5 Z"/><path d="M1145.5,857.0 L1152.2,864.5 L1152.2,871.0 L1145.5,863.5 Z"/><path d="M1153.4,859.5 L1158.6,865.5 L1158.6,872.0 L1153.4,866.0 Z"/></g><line x1="1152.5" y1="860" x2="1152.5" y2="871" stroke="#575757" stroke-width="1"/><g stroke="#575757" fill="none" stroke-width="2.2"><line x1="1167" y1="536" x2="1301" y2="536"/><line x1="1161" y1="858.5" x2="1301" y2="858.5"/><line x1="1288.8" y1="540" x2="1288.8" y2="676.5"/><line x1="1288.8" y1="714.5" x2="1288.8" y2="855"/><line x1="1219" y1="640.3" x2="1268" y2="640.3"/><line x1="1219" y1="834.5" x2="1268" y2="834.5"/><line x1="1254.7" y1="644" x2="1254.7" y2="720.5"/><line x1="1254.7" y1="753.5" x2="1254.7" y2="831"/><line x1="1090.8" y1="838" x2="1090.8" y2="912" stroke-width="1.6"/><line x1="1215.7" y1="838" x2="1215.7" y2="912" stroke-width="1.6"/><line x1="1092" y1="899" x2="1139" y2="899"/><line x1="1168" y1="899" x2="1214" y2="899"/></g><g fill="#575757"><path d="M1288.8,536 L1292,549 L1285.6,549 Z"/><path d="M1288.8,858.5 L1292,845.5 L1285.6,845.5 Z"/><path d="M1254.7,640.3 L1257.9,653 L1251.5,653 Z"/><path d="M1254.7,834.5 L1257.9,821.5 L1251.5,821.5 Z"/><path d="M1091,899 L1104,895.8 L1104,902.2 Z"/><path d="M1215,899 L1202,895.8 L1202,902.2 Z"/></g><g stroke="#575757" fill="none" stroke-width="3.4" stroke-linejoin="round" stroke-linecap="round"><path d="M1282.8,686.5 L1282.8,707 L1295.5,707"/><path d="M1248.5,747.5 L1254.5,727.2 L1256.5,727.2 L1262.5,747.5 M1250.8,741 L1260.2,741"/><path d="M1146.5,888.5 L1146.5,909.5 L1151,909.5 Q1159,909.5 1159,899 Q1159,888.5 1151,888.5 Z"/></g></svg>
</body></html>
